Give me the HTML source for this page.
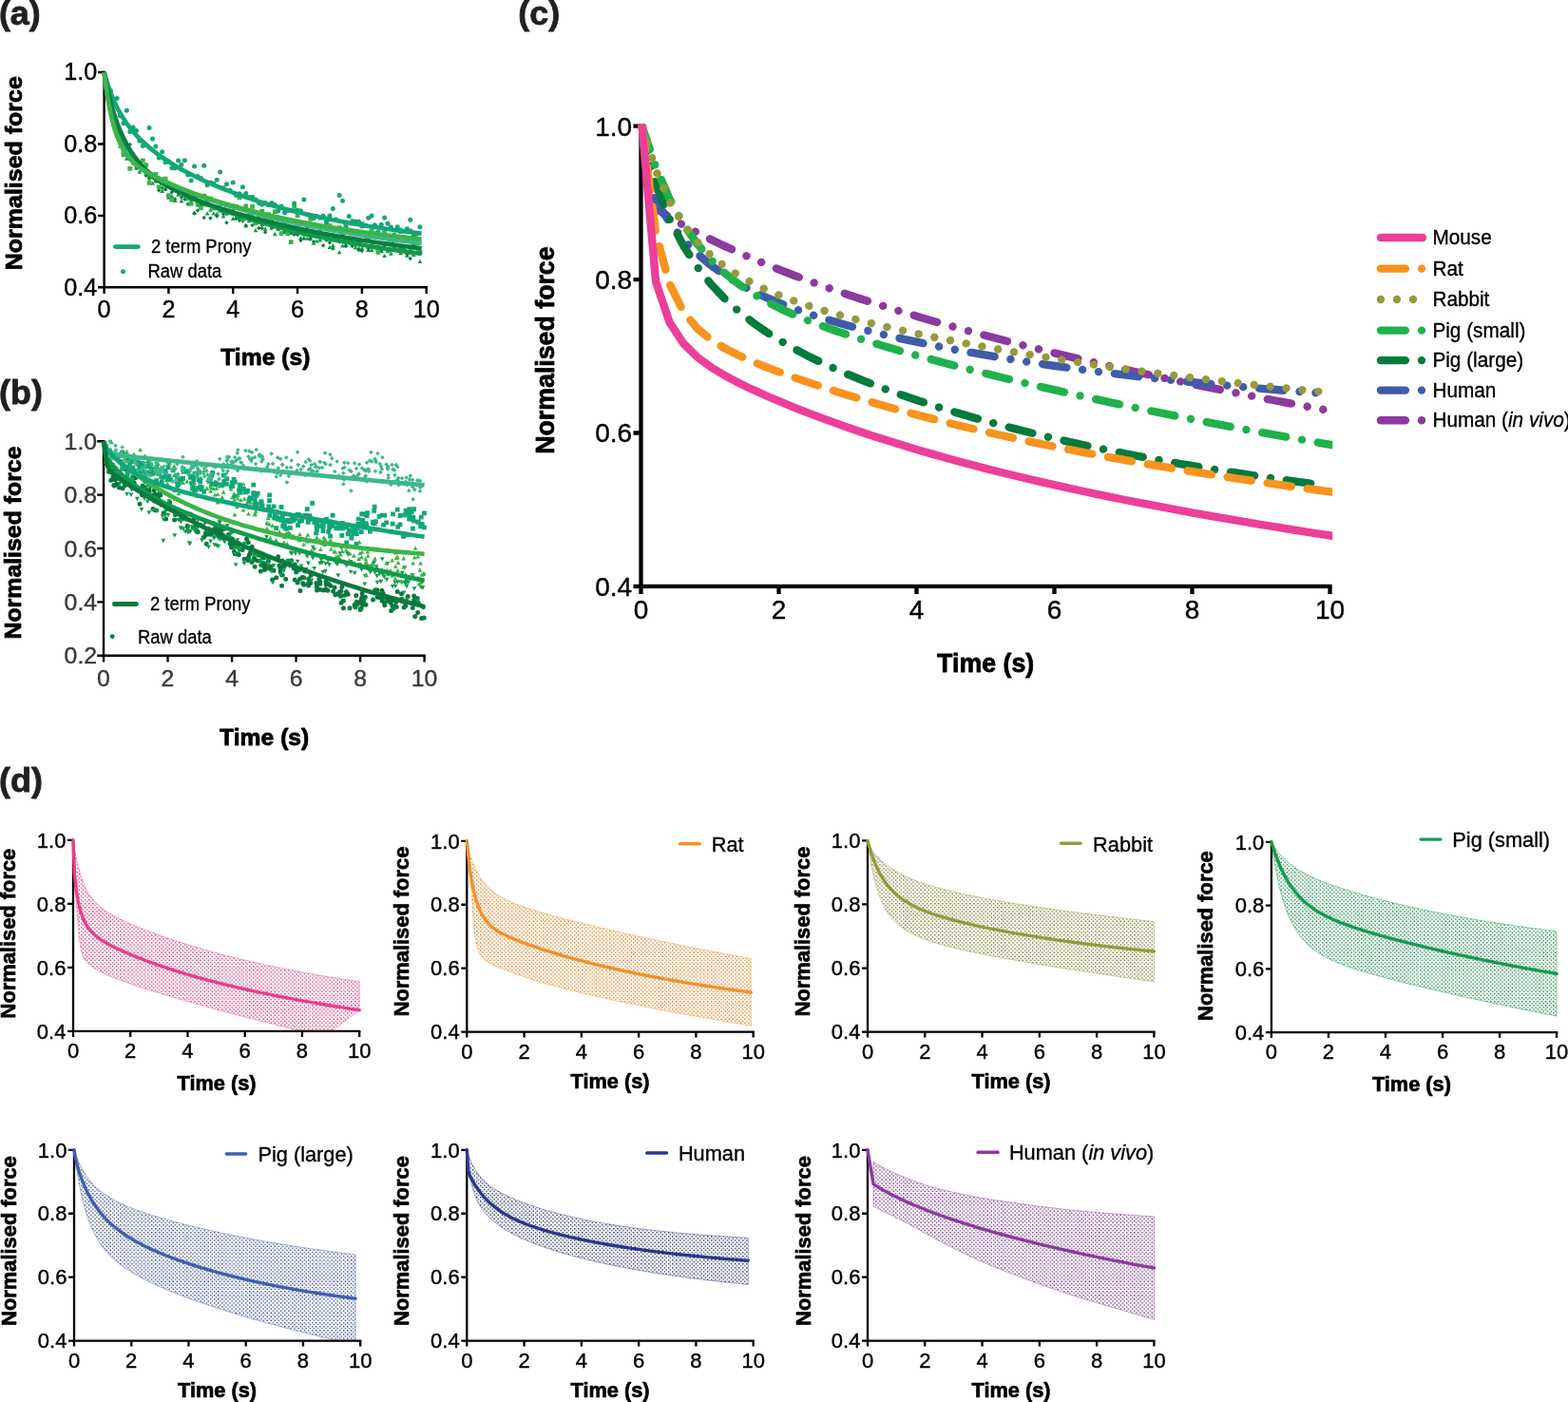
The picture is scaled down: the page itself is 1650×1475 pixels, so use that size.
<!DOCTYPE html>
<html lang="en">
<head>
<meta charset="utf-8">
<title>Normalised force relaxation figure</title>
<style>
html,body{margin:0;padding:0;background:#fff;}
body{width:1650px;height:1475px;overflow:hidden;}
svg{display:block;}
</style>
</head>
<body>
<svg width="1650" height="1475" viewBox="0 0 1650 1475">
<rect width="1650" height="1475" fill="#fff"/>
<g id="panel-a">
<path d="M109.6 74.8V302.3H449.9" fill="none" stroke="#000" stroke-width="2.4" stroke-linejoin="miter"/>
<path d="M103 76H109.6M103 151.43H109.6M103 226.87H109.6M103 302.3H109.6M109.6 302.3V308.9M177.42 302.3V308.9M245.24 302.3V308.9M313.06 302.3V308.9M380.88 302.3V308.9M448.7 302.3V308.9" fill="none" stroke="#000" stroke-width="2.4"/>
<g font-family="'Liberation Sans', Arial, Helvetica, sans-serif">
<text x="102.2" y="84.44" text-anchor="end" font-size="25.2" stroke="#000" stroke-width="0.4" stroke-linejoin="round" fill="#000">1.0</text>
<text x="102.2" y="159.88" text-anchor="end" font-size="25.2" stroke="#000" stroke-width="0.4" stroke-linejoin="round" fill="#000">0.8</text>
<text x="102.2" y="235.31" text-anchor="end" font-size="25.2" stroke="#000" stroke-width="0.4" stroke-linejoin="round" fill="#000">0.6</text>
<text x="102.2" y="310.74" text-anchor="end" font-size="25.2" stroke="#000" stroke-width="0.4" stroke-linejoin="round" fill="#000">0.4</text>
<text x="109.6" y="333.9" text-anchor="middle" font-size="25.2" stroke="#000" stroke-width="0.4" stroke-linejoin="round" fill="#000">0</text>
<text x="177.42" y="333.9" text-anchor="middle" font-size="25.2" stroke="#000" stroke-width="0.4" stroke-linejoin="round" fill="#000">2</text>
<text x="245.24" y="333.9" text-anchor="middle" font-size="25.2" stroke="#000" stroke-width="0.4" stroke-linejoin="round" fill="#000">4</text>
<text x="313.06" y="333.9" text-anchor="middle" font-size="25.2" stroke="#000" stroke-width="0.4" stroke-linejoin="round" fill="#000">6</text>
<text x="380.88" y="333.9" text-anchor="middle" font-size="25.2" stroke="#000" stroke-width="0.4" stroke-linejoin="round" fill="#000">8</text>
<text x="448.7" y="333.9" text-anchor="middle" font-size="25.2" stroke="#000" stroke-width="0.4" stroke-linejoin="round" fill="#000">10</text>
</g>
<path d="M116.38 115.16l2.42 4.4h-4.84zM119.77 126.9l2.42 4.4h-4.84zM123.16 140.09l2.42 4.4h-4.84zM126.56 151.41l2.42 4.4h-4.84zM129.95 156.04l2.42 4.4h-4.84zM133.34 164.29l2.42 4.4h-4.84zM136.73 163.91l2.42 4.4h-4.84zM140.12 161.75l2.42 4.4h-4.84zM143.51 174.36l2.42 4.4h-4.84zM146.9 178.24l2.42 4.4h-4.84zM150.29 175.74l2.42 4.4h-4.84zM153.68 179.1l2.42 4.4h-4.84zM157.07 182.86l2.42 4.4h-4.84zM160.47 190.3l2.42 4.4h-4.84zM163.86 188.11l2.42 4.4h-4.84zM167.25 186.69l2.42 4.4h-4.84zM170.64 198.72l2.42 4.4h-4.84zM174.03 196.32l2.42 4.4h-4.84zM177.42 205.27l2.42 4.4h-4.84zM180.81 204.09l2.42 4.4h-4.84zM184.2 208.55l2.42 4.4h-4.84zM187.59 202.37l2.42 4.4h-4.84zM190.98 209.09l2.42 4.4h-4.84zM194.38 203.15l2.42 4.4h-4.84zM197.77 205.28l2.42 4.4h-4.84zM201.16 208.5l2.42 4.4h-4.84zM204.55 221.41l2.42 4.4h-4.84zM207.94 213.17l2.42 4.4h-4.84zM211.33 212.19l2.42 4.4h-4.84zM214.72 212.79l2.42 4.4h-4.84zM218.11 222.2l2.42 4.4h-4.84zM221.5 218.38l2.42 4.4h-4.84zM224.89 222.14l2.42 4.4h-4.84zM228.29 222.58l2.42 4.4h-4.84zM231.68 214.67l2.42 4.4h-4.84zM235.07 225.05l2.42 4.4h-4.84zM238.46 222.46l2.42 4.4h-4.84zM241.85 219.14l2.42 4.4h-4.84zM245.24 227.5l2.42 4.4h-4.84zM248.63 226.32l2.42 4.4h-4.84zM252.02 226.34l2.42 4.4h-4.84zM255.41 227.66l2.42 4.4h-4.84zM258.8 235.05l2.42 4.4h-4.84zM262.2 229.73l2.42 4.4h-4.84zM265.59 224.47l2.42 4.4h-4.84zM268.98 239.73l2.42 4.4h-4.84zM272.37 228.93l2.42 4.4h-4.84zM275.76 233.54l2.42 4.4h-4.84zM279.15 238.23l2.42 4.4h-4.84zM282.54 226.22l2.42 4.4h-4.84zM285.93 233.21l2.42 4.4h-4.84zM289.32 243.74l2.42 4.4h-4.84zM292.71 238.39l2.42 4.4h-4.84zM296.11 236.81l2.42 4.4h-4.84zM299.5 241.43l2.42 4.4h-4.84zM302.89 238l2.42 4.4h-4.84zM306.28 242.51l2.42 4.4h-4.84zM309.67 239.73l2.42 4.4h-4.84zM313.06 236.76l2.42 4.4h-4.84zM316.45 247.92l2.42 4.4h-4.84zM319.84 244.39l2.42 4.4h-4.84zM323.23 248.42l2.42 4.4h-4.84zM326.62 246.28l2.42 4.4h-4.84zM330.02 253.46l2.42 4.4h-4.84zM333.41 251.21l2.42 4.4h-4.84zM336.8 250.05l2.42 4.4h-4.84zM340.19 245.38l2.42 4.4h-4.84zM343.58 244.87l2.42 4.4h-4.84zM346.97 257.65l2.42 4.4h-4.84zM350.36 255.73l2.42 4.4h-4.84zM353.75 249.32l2.42 4.4h-4.84zM357.14 262.91l2.42 4.4h-4.84zM360.53 256.05l2.42 4.4h-4.84zM363.93 254.88l2.42 4.4h-4.84zM367.32 248.85l2.42 4.4h-4.84zM370.71 252.24l2.42 4.4h-4.84zM374.1 257.83l2.42 4.4h-4.84zM377.49 258.62l2.42 4.4h-4.84zM380.88 258.61l2.42 4.4h-4.84zM384.27 250.49l2.42 4.4h-4.84zM387.66 260.61l2.42 4.4h-4.84zM391.05 260.56l2.42 4.4h-4.84zM394.44 257.88l2.42 4.4h-4.84zM397.84 260.73l2.42 4.4h-4.84zM401.23 261.63l2.42 4.4h-4.84zM404.62 266.65l2.42 4.4h-4.84zM408.01 261.75l2.42 4.4h-4.84zM411.4 264.37l2.42 4.4h-4.84zM414.79 256.97l2.42 4.4h-4.84zM418.18 259.97l2.42 4.4h-4.84zM421.57 263.77l2.42 4.4h-4.84zM424.96 260.84l2.42 4.4h-4.84zM428.35 266.25l2.42 4.4h-4.84zM431.75 259.88l2.42 4.4h-4.84zM435.14 265.52l2.42 4.4h-4.84zM438.53 263.07l2.42 4.4h-4.84zM441.92 272.7l2.42 4.4h-4.84z" fill="#119B4C"/>
<path d="M116.38 108.39l2.25 2.25l-2.25 2.25l-2.25 -2.25zM119.77 130.26l2.25 2.25l-2.25 2.25l-2.25 -2.25zM123.16 142.08l2.25 2.25l-2.25 2.25l-2.25 -2.25zM126.56 142.29l2.25 2.25l-2.25 2.25l-2.25 -2.25zM129.95 152.74l2.25 2.25l-2.25 2.25l-2.25 -2.25zM133.34 154.1l2.25 2.25l-2.25 2.25l-2.25 -2.25zM136.73 149.7l2.25 2.25l-2.25 2.25l-2.25 -2.25zM140.12 169.93l2.25 2.25l-2.25 2.25l-2.25 -2.25zM143.51 173.5l2.25 2.25l-2.25 2.25l-2.25 -2.25zM146.9 173.57l2.25 2.25l-2.25 2.25l-2.25 -2.25zM150.29 175.9l2.25 2.25l-2.25 2.25l-2.25 -2.25zM153.68 182.59l2.25 2.25l-2.25 2.25l-2.25 -2.25zM157.07 185.85l2.25 2.25l-2.25 2.25l-2.25 -2.25zM160.47 184.27l2.25 2.25l-2.25 2.25l-2.25 -2.25zM163.86 187.82l2.25 2.25l-2.25 2.25l-2.25 -2.25zM167.25 197.9l2.25 2.25l-2.25 2.25l-2.25 -2.25zM170.64 195.52l2.25 2.25l-2.25 2.25l-2.25 -2.25zM174.03 197.11l2.25 2.25l-2.25 2.25l-2.25 -2.25zM177.42 204.48l2.25 2.25l-2.25 2.25l-2.25 -2.25zM180.81 199.96l2.25 2.25l-2.25 2.25l-2.25 -2.25zM184.2 207.25l2.25 2.25l-2.25 2.25l-2.25 -2.25zM187.59 200.01l2.25 2.25l-2.25 2.25l-2.25 -2.25zM190.98 205.48l2.25 2.25l-2.25 2.25l-2.25 -2.25zM194.38 207.57l2.25 2.25l-2.25 2.25l-2.25 -2.25zM197.77 212.42l2.25 2.25l-2.25 2.25l-2.25 -2.25zM201.16 211.56l2.25 2.25l-2.25 2.25l-2.25 -2.25zM204.55 222.18l2.25 2.25l-2.25 2.25l-2.25 -2.25zM207.94 219.29l2.25 2.25l-2.25 2.25l-2.25 -2.25zM211.33 213.28l2.25 2.25l-2.25 2.25l-2.25 -2.25zM214.72 226.77l2.25 2.25l-2.25 2.25l-2.25 -2.25zM218.11 213.42l2.25 2.25l-2.25 2.25l-2.25 -2.25zM221.5 227.33l2.25 2.25l-2.25 2.25l-2.25 -2.25zM224.89 216.23l2.25 2.25l-2.25 2.25l-2.25 -2.25zM228.29 225.23l2.25 2.25l-2.25 2.25l-2.25 -2.25zM231.68 218.38l2.25 2.25l-2.25 2.25l-2.25 -2.25zM235.07 222.65l2.25 2.25l-2.25 2.25l-2.25 -2.25zM238.46 231.9l2.25 2.25l-2.25 2.25l-2.25 -2.25zM241.85 219.28l2.25 2.25l-2.25 2.25l-2.25 -2.25zM245.24 219.36l2.25 2.25l-2.25 2.25l-2.25 -2.25zM248.63 227.75l2.25 2.25l-2.25 2.25l-2.25 -2.25zM252.02 229.75l2.25 2.25l-2.25 2.25l-2.25 -2.25zM255.41 230.15l2.25 2.25l-2.25 2.25l-2.25 -2.25zM258.8 235.09l2.25 2.25l-2.25 2.25l-2.25 -2.25zM262.2 225.85l2.25 2.25l-2.25 2.25l-2.25 -2.25zM265.59 234.81l2.25 2.25l-2.25 2.25l-2.25 -2.25zM268.98 233.29l2.25 2.25l-2.25 2.25l-2.25 -2.25zM272.37 237.81l2.25 2.25l-2.25 2.25l-2.25 -2.25zM275.76 237.85l2.25 2.25l-2.25 2.25l-2.25 -2.25zM279.15 241.9l2.25 2.25l-2.25 2.25l-2.25 -2.25zM282.54 230.3l2.25 2.25l-2.25 2.25l-2.25 -2.25zM285.93 238.04l2.25 2.25l-2.25 2.25l-2.25 -2.25zM289.32 233.36l2.25 2.25l-2.25 2.25l-2.25 -2.25zM292.71 238.82l2.25 2.25l-2.25 2.25l-2.25 -2.25zM296.11 243.07l2.25 2.25l-2.25 2.25l-2.25 -2.25zM299.5 242.04l2.25 2.25l-2.25 2.25l-2.25 -2.25zM302.89 243.94l2.25 2.25l-2.25 2.25l-2.25 -2.25zM306.28 241.9l2.25 2.25l-2.25 2.25l-2.25 -2.25zM309.67 244.51l2.25 2.25l-2.25 2.25l-2.25 -2.25zM313.06 244.86l2.25 2.25l-2.25 2.25l-2.25 -2.25zM316.45 250.86l2.25 2.25l-2.25 2.25l-2.25 -2.25zM319.84 248.76l2.25 2.25l-2.25 2.25l-2.25 -2.25zM323.23 237.38l2.25 2.25l-2.25 2.25l-2.25 -2.25zM326.62 249.46l2.25 2.25l-2.25 2.25l-2.25 -2.25zM330.02 252l2.25 2.25l-2.25 2.25l-2.25 -2.25zM333.41 245.84l2.25 2.25l-2.25 2.25l-2.25 -2.25zM336.8 241.24l2.25 2.25l-2.25 2.25l-2.25 -2.25zM340.19 255.91l2.25 2.25l-2.25 2.25l-2.25 -2.25zM343.58 250.43l2.25 2.25l-2.25 2.25l-2.25 -2.25zM346.97 253.12l2.25 2.25l-2.25 2.25l-2.25 -2.25zM350.36 259.27l2.25 2.25l-2.25 2.25l-2.25 -2.25zM353.75 247.63l2.25 2.25l-2.25 2.25l-2.25 -2.25zM357.14 251.94l2.25 2.25l-2.25 2.25l-2.25 -2.25zM360.53 252.06l2.25 2.25l-2.25 2.25l-2.25 -2.25zM363.93 256.67l2.25 2.25l-2.25 2.25l-2.25 -2.25zM367.32 251.32l2.25 2.25l-2.25 2.25l-2.25 -2.25zM370.71 256.75l2.25 2.25l-2.25 2.25l-2.25 -2.25zM374.1 255.35l2.25 2.25l-2.25 2.25l-2.25 -2.25zM377.49 260.63l2.25 2.25l-2.25 2.25l-2.25 -2.25zM380.88 261.69l2.25 2.25l-2.25 2.25l-2.25 -2.25zM384.27 249.71l2.25 2.25l-2.25 2.25l-2.25 -2.25zM387.66 259.26l2.25 2.25l-2.25 2.25l-2.25 -2.25zM391.05 255.85l2.25 2.25l-2.25 2.25l-2.25 -2.25zM394.44 257.95l2.25 2.25l-2.25 2.25l-2.25 -2.25zM397.84 260.44l2.25 2.25l-2.25 2.25l-2.25 -2.25zM401.23 261.26l2.25 2.25l-2.25 2.25l-2.25 -2.25zM404.62 256.16l2.25 2.25l-2.25 2.25l-2.25 -2.25zM408.01 261.21l2.25 2.25l-2.25 2.25l-2.25 -2.25zM411.4 260.94l2.25 2.25l-2.25 2.25l-2.25 -2.25zM414.79 260.55l2.25 2.25l-2.25 2.25l-2.25 -2.25zM418.18 255.34l2.25 2.25l-2.25 2.25l-2.25 -2.25zM421.57 258.22l2.25 2.25l-2.25 2.25l-2.25 -2.25zM424.96 260.12l2.25 2.25l-2.25 2.25l-2.25 -2.25zM428.35 265.2l2.25 2.25l-2.25 2.25l-2.25 -2.25zM431.75 269.64l2.25 2.25l-2.25 2.25l-2.25 -2.25zM435.14 258.63l2.25 2.25l-2.25 2.25l-2.25 -2.25zM438.53 258.97l2.25 2.25l-2.25 2.25l-2.25 -2.25zM441.92 264.81l2.25 2.25l-2.25 2.25l-2.25 -2.25z" fill="#0B7F40"/>
<path d="M113.98 115.41h4.8v4.8h-4.8zM117.37 127.64h4.8v4.8h-4.8zM120.76 137.8h4.8v4.8h-4.8zM124.16 145.32h4.8v4.8h-4.8zM127.55 160.52h4.8v4.8h-4.8zM130.94 152.99h4.8v4.8h-4.8zM134.33 174.9h4.8v4.8h-4.8zM137.72 164.91h4.8v4.8h-4.8zM141.11 170.29h4.8v4.8h-4.8zM144.5 170.52h4.8v4.8h-4.8zM147.89 166.46h4.8v4.8h-4.8zM151.28 171.16h4.8v4.8h-4.8zM154.67 190.03h4.8v4.8h-4.8zM158.07 182.05h4.8v4.8h-4.8zM161.46 181.1h4.8v4.8h-4.8zM164.85 194.54h4.8v4.8h-4.8zM168.24 189.74h4.8v4.8h-4.8zM171.63 185.84h4.8v4.8h-4.8zM175.02 203.28h4.8v4.8h-4.8zM178.41 207.74h4.8v4.8h-4.8zM181.8 193.98h4.8v4.8h-4.8zM185.19 196.75h4.8v4.8h-4.8zM188.58 199.96h4.8v4.8h-4.8zM191.98 199.47h4.8v4.8h-4.8zM195.37 206.52h4.8v4.8h-4.8zM198.76 211.98h4.8v4.8h-4.8zM202.15 204.58h4.8v4.8h-4.8zM205.54 210.95h4.8v4.8h-4.8zM208.93 216.45h4.8v4.8h-4.8zM212.32 203.83h4.8v4.8h-4.8zM215.71 208.61h4.8v4.8h-4.8zM219.1 206.72h4.8v4.8h-4.8zM222.49 216.76h4.8v4.8h-4.8zM225.89 215.71h4.8v4.8h-4.8zM229.28 218.95h4.8v4.8h-4.8zM232.67 219.26h4.8v4.8h-4.8zM236.06 213.33h4.8v4.8h-4.8zM239.45 220.6h4.8v4.8h-4.8zM242.84 214.27h4.8v4.8h-4.8zM246.23 215.33h4.8v4.8h-4.8zM249.62 205.46h4.8v4.8h-4.8zM253.01 228.29h4.8v4.8h-4.8zM256.4 214.57h4.8v4.8h-4.8zM259.8 221.72h4.8v4.8h-4.8zM263.19 214.92h4.8v4.8h-4.8zM266.58 232.17h4.8v4.8h-4.8zM269.97 226.66h4.8v4.8h-4.8zM273.36 219.76h4.8v4.8h-4.8zM276.75 225.86h4.8v4.8h-4.8zM280.14 223.31h4.8v4.8h-4.8zM283.53 228.77h4.8v4.8h-4.8zM286.92 220.27h4.8v4.8h-4.8zM290.31 228.56h4.8v4.8h-4.8zM293.71 243.26h4.8v4.8h-4.8zM297.1 234.32h4.8v4.8h-4.8zM300.49 243.21h4.8v4.8h-4.8zM303.88 252.14h4.8v4.8h-4.8zM307.27 214.98h4.8v4.8h-4.8zM310.66 224.1h4.8v4.8h-4.8zM314.05 233.01h4.8v4.8h-4.8zM317.44 241.48h4.8v4.8h-4.8zM320.83 240.63h4.8v4.8h-4.8zM324.22 227.98h4.8v4.8h-4.8zM327.62 234.84h4.8v4.8h-4.8zM331.01 236.15h4.8v4.8h-4.8zM334.4 237.39h4.8v4.8h-4.8zM337.79 237.39h4.8v4.8h-4.8zM341.18 233.05h4.8v4.8h-4.8zM344.57 235.24h4.8v4.8h-4.8zM347.96 237.95h4.8v4.8h-4.8zM351.35 246.57h4.8v4.8h-4.8zM354.74 237.14h4.8v4.8h-4.8zM358.13 245.34h4.8v4.8h-4.8zM361.53 234.46h4.8v4.8h-4.8zM364.92 250.13h4.8v4.8h-4.8zM368.31 243.37h4.8v4.8h-4.8zM371.7 243.03h4.8v4.8h-4.8zM375.09 251.96h4.8v4.8h-4.8zM378.48 232.9h4.8v4.8h-4.8zM381.87 235.05h4.8v4.8h-4.8zM385.26 247.85h4.8v4.8h-4.8zM388.65 240.39h4.8v4.8h-4.8zM392.04 243.35h4.8v4.8h-4.8zM395.44 262.98h4.8v4.8h-4.8zM398.83 245.05h4.8v4.8h-4.8zM402.22 242.61h4.8v4.8h-4.8zM405.61 246.97h4.8v4.8h-4.8zM409 254.82h4.8v4.8h-4.8zM412.39 250.05h4.8v4.8h-4.8zM415.78 249.86h4.8v4.8h-4.8zM419.17 241.5h4.8v4.8h-4.8zM422.56 247.36h4.8v4.8h-4.8zM425.95 249.92h4.8v4.8h-4.8zM429.35 240.45h4.8v4.8h-4.8zM432.74 254.19h4.8v4.8h-4.8zM436.13 253.49h4.8v4.8h-4.8zM439.52 263h4.8v4.8h-4.8z" fill="#3BB54A"/>
<path d="M113.88 95.35a2.5 2.5 0 1 0 5 0a2.5 2.5 0 1 0 -5 0zM117.27 104.13a2.5 2.5 0 1 0 5 0a2.5 2.5 0 1 0 -5 0zM120.66 103.6a2.5 2.5 0 1 0 5 0a2.5 2.5 0 1 0 -5 0zM124.06 122.11a2.5 2.5 0 1 0 5 0a2.5 2.5 0 1 0 -5 0zM127.45 129.82a2.5 2.5 0 1 0 5 0a2.5 2.5 0 1 0 -5 0zM130.84 116.18a2.5 2.5 0 1 0 5 0a2.5 2.5 0 1 0 -5 0zM134.23 138.39a2.5 2.5 0 1 0 5 0a2.5 2.5 0 1 0 -5 0zM137.62 133.88a2.5 2.5 0 1 0 5 0a2.5 2.5 0 1 0 -5 0zM141.01 137.38a2.5 2.5 0 1 0 5 0a2.5 2.5 0 1 0 -5 0zM144.4 148.3a2.5 2.5 0 1 0 5 0a2.5 2.5 0 1 0 -5 0zM147.79 153.38a2.5 2.5 0 1 0 5 0a2.5 2.5 0 1 0 -5 0zM151.18 152.18a2.5 2.5 0 1 0 5 0a2.5 2.5 0 1 0 -5 0zM154.57 134.54a2.5 2.5 0 1 0 5 0a2.5 2.5 0 1 0 -5 0zM157.97 146.05a2.5 2.5 0 1 0 5 0a2.5 2.5 0 1 0 -5 0zM161.36 154.05a2.5 2.5 0 1 0 5 0a2.5 2.5 0 1 0 -5 0zM164.75 166.01a2.5 2.5 0 1 0 5 0a2.5 2.5 0 1 0 -5 0zM168.14 159.64a2.5 2.5 0 1 0 5 0a2.5 2.5 0 1 0 -5 0zM171.53 170.73a2.5 2.5 0 1 0 5 0a2.5 2.5 0 1 0 -5 0zM174.92 169.66a2.5 2.5 0 1 0 5 0a2.5 2.5 0 1 0 -5 0zM178.31 176.86a2.5 2.5 0 1 0 5 0a2.5 2.5 0 1 0 -5 0zM181.7 176.73a2.5 2.5 0 1 0 5 0a2.5 2.5 0 1 0 -5 0zM185.09 168.92a2.5 2.5 0 1 0 5 0a2.5 2.5 0 1 0 -5 0zM188.48 173.19a2.5 2.5 0 1 0 5 0a2.5 2.5 0 1 0 -5 0zM191.88 168.74a2.5 2.5 0 1 0 5 0a2.5 2.5 0 1 0 -5 0zM195.27 183.88a2.5 2.5 0 1 0 5 0a2.5 2.5 0 1 0 -5 0zM198.66 189.89a2.5 2.5 0 1 0 5 0a2.5 2.5 0 1 0 -5 0zM202.05 174.94a2.5 2.5 0 1 0 5 0a2.5 2.5 0 1 0 -5 0zM205.44 185.53a2.5 2.5 0 1 0 5 0a2.5 2.5 0 1 0 -5 0zM208.83 187.37a2.5 2.5 0 1 0 5 0a2.5 2.5 0 1 0 -5 0zM212.22 174.31a2.5 2.5 0 1 0 5 0a2.5 2.5 0 1 0 -5 0zM215.61 194.79a2.5 2.5 0 1 0 5 0a2.5 2.5 0 1 0 -5 0zM219 191.9a2.5 2.5 0 1 0 5 0a2.5 2.5 0 1 0 -5 0zM222.39 193.25a2.5 2.5 0 1 0 5 0a2.5 2.5 0 1 0 -5 0zM225.79 189.16a2.5 2.5 0 1 0 5 0a2.5 2.5 0 1 0 -5 0zM229.18 181.08a2.5 2.5 0 1 0 5 0a2.5 2.5 0 1 0 -5 0zM232.57 197.84a2.5 2.5 0 1 0 5 0a2.5 2.5 0 1 0 -5 0zM235.96 193.87a2.5 2.5 0 1 0 5 0a2.5 2.5 0 1 0 -5 0zM239.35 200.17a2.5 2.5 0 1 0 5 0a2.5 2.5 0 1 0 -5 0zM242.74 192.07a2.5 2.5 0 1 0 5 0a2.5 2.5 0 1 0 -5 0zM246.13 205.49a2.5 2.5 0 1 0 5 0a2.5 2.5 0 1 0 -5 0zM249.52 203.86a2.5 2.5 0 1 0 5 0a2.5 2.5 0 1 0 -5 0zM252.91 196.82a2.5 2.5 0 1 0 5 0a2.5 2.5 0 1 0 -5 0zM256.3 203.46a2.5 2.5 0 1 0 5 0a2.5 2.5 0 1 0 -5 0zM259.7 207.54a2.5 2.5 0 1 0 5 0a2.5 2.5 0 1 0 -5 0zM263.09 207.19a2.5 2.5 0 1 0 5 0a2.5 2.5 0 1 0 -5 0zM266.48 210.07a2.5 2.5 0 1 0 5 0a2.5 2.5 0 1 0 -5 0zM269.87 213.4a2.5 2.5 0 1 0 5 0a2.5 2.5 0 1 0 -5 0zM273.26 215.36a2.5 2.5 0 1 0 5 0a2.5 2.5 0 1 0 -5 0zM276.65 213.43a2.5 2.5 0 1 0 5 0a2.5 2.5 0 1 0 -5 0zM280.04 215.73a2.5 2.5 0 1 0 5 0a2.5 2.5 0 1 0 -5 0zM283.43 213.46a2.5 2.5 0 1 0 5 0a2.5 2.5 0 1 0 -5 0zM286.82 215.41a2.5 2.5 0 1 0 5 0a2.5 2.5 0 1 0 -5 0zM290.21 221.99a2.5 2.5 0 1 0 5 0a2.5 2.5 0 1 0 -5 0zM293.61 216.98a2.5 2.5 0 1 0 5 0a2.5 2.5 0 1 0 -5 0zM297 223.74a2.5 2.5 0 1 0 5 0a2.5 2.5 0 1 0 -5 0zM300.39 221.61a2.5 2.5 0 1 0 5 0a2.5 2.5 0 1 0 -5 0zM303.78 221.14a2.5 2.5 0 1 0 5 0a2.5 2.5 0 1 0 -5 0zM307.17 214a2.5 2.5 0 1 0 5 0a2.5 2.5 0 1 0 -5 0zM310.56 221.23a2.5 2.5 0 1 0 5 0a2.5 2.5 0 1 0 -5 0zM313.95 221.8a2.5 2.5 0 1 0 5 0a2.5 2.5 0 1 0 -5 0zM317.34 210.09a2.5 2.5 0 1 0 5 0a2.5 2.5 0 1 0 -5 0zM320.73 225.78a2.5 2.5 0 1 0 5 0a2.5 2.5 0 1 0 -5 0zM324.12 226.34a2.5 2.5 0 1 0 5 0a2.5 2.5 0 1 0 -5 0zM327.52 229.6a2.5 2.5 0 1 0 5 0a2.5 2.5 0 1 0 -5 0zM330.91 227.41a2.5 2.5 0 1 0 5 0a2.5 2.5 0 1 0 -5 0zM334.3 229.31a2.5 2.5 0 1 0 5 0a2.5 2.5 0 1 0 -5 0zM337.69 227.36a2.5 2.5 0 1 0 5 0a2.5 2.5 0 1 0 -5 0zM341.08 233.43a2.5 2.5 0 1 0 5 0a2.5 2.5 0 1 0 -5 0zM344.47 226.99a2.5 2.5 0 1 0 5 0a2.5 2.5 0 1 0 -5 0zM347.86 219.46a2.5 2.5 0 1 0 5 0a2.5 2.5 0 1 0 -5 0zM351.25 231.05a2.5 2.5 0 1 0 5 0a2.5 2.5 0 1 0 -5 0zM354.64 205.61a2.5 2.5 0 1 0 5 0a2.5 2.5 0 1 0 -5 0zM358.03 211.22a2.5 2.5 0 1 0 5 0a2.5 2.5 0 1 0 -5 0zM361.43 239.28a2.5 2.5 0 1 0 5 0a2.5 2.5 0 1 0 -5 0zM364.82 227.53a2.5 2.5 0 1 0 5 0a2.5 2.5 0 1 0 -5 0zM368.21 232.58a2.5 2.5 0 1 0 5 0a2.5 2.5 0 1 0 -5 0zM371.6 233.01a2.5 2.5 0 1 0 5 0a2.5 2.5 0 1 0 -5 0zM374.99 233.17a2.5 2.5 0 1 0 5 0a2.5 2.5 0 1 0 -5 0zM378.38 238.05a2.5 2.5 0 1 0 5 0a2.5 2.5 0 1 0 -5 0zM381.77 236.97a2.5 2.5 0 1 0 5 0a2.5 2.5 0 1 0 -5 0zM385.16 229.17a2.5 2.5 0 1 0 5 0a2.5 2.5 0 1 0 -5 0zM388.55 227.06a2.5 2.5 0 1 0 5 0a2.5 2.5 0 1 0 -5 0zM391.94 236.66a2.5 2.5 0 1 0 5 0a2.5 2.5 0 1 0 -5 0zM395.34 244.32a2.5 2.5 0 1 0 5 0a2.5 2.5 0 1 0 -5 0zM398.73 236.31a2.5 2.5 0 1 0 5 0a2.5 2.5 0 1 0 -5 0zM402.12 229.01a2.5 2.5 0 1 0 5 0a2.5 2.5 0 1 0 -5 0zM405.51 235.35a2.5 2.5 0 1 0 5 0a2.5 2.5 0 1 0 -5 0zM408.9 239.05a2.5 2.5 0 1 0 5 0a2.5 2.5 0 1 0 -5 0zM412.29 246.96a2.5 2.5 0 1 0 5 0a2.5 2.5 0 1 0 -5 0zM415.68 238.81a2.5 2.5 0 1 0 5 0a2.5 2.5 0 1 0 -5 0zM419.07 242.04a2.5 2.5 0 1 0 5 0a2.5 2.5 0 1 0 -5 0zM422.46 252.38a2.5 2.5 0 1 0 5 0a2.5 2.5 0 1 0 -5 0zM425.85 240.75a2.5 2.5 0 1 0 5 0a2.5 2.5 0 1 0 -5 0zM429.25 231.27a2.5 2.5 0 1 0 5 0a2.5 2.5 0 1 0 -5 0zM432.64 248.56a2.5 2.5 0 1 0 5 0a2.5 2.5 0 1 0 -5 0zM436.03 246.23a2.5 2.5 0 1 0 5 0a2.5 2.5 0 1 0 -5 0zM439.42 238.73a2.5 2.5 0 1 0 5 0a2.5 2.5 0 1 0 -5 0z" fill="#12A779"/>
<g fill="none" stroke-width="4.7" stroke-linecap="butt" stroke-linejoin="round">
<path d="M109.6 76L112.99 98.36L116.38 115.43L119.77 128.63L123.16 139.01L126.55 147.31L129.95 154.08L133.34 159.7L136.73 164.47L140.12 168.59L143.51 172.22L146.9 175.46L150.29 178.41L153.68 181.12L157.07 183.64L160.47 186L163.86 188.24L167.25 190.36L170.64 192.39L174.03 194.34L177.42 196.22L180.81 198.03L184.2 199.79L187.59 201.49L190.98 203.14L194.38 204.75L197.77 206.32L201.16 207.85L204.55 209.34L207.94 210.79L211.33 212.22L214.72 213.61L218.11 214.97L221.5 216.3L224.89 217.61L228.29 218.88L231.68 220.14L235.07 221.36L238.46 222.56L241.85 223.74L245.24 224.9L248.63 226.04L252.02 227.15L255.41 228.24L258.8 229.31L262.19 230.37L265.59 231.4L268.98 232.41L272.37 233.41L275.76 234.39L279.15 235.35L282.54 236.29L285.93 237.22L289.32 238.13L292.71 239.02L296.11 239.9L299.5 240.77L302.89 241.62L306.28 242.45L309.67 243.27L313.06 244.08L316.45 244.87L319.84 245.65L323.23 246.41L326.62 247.17L330.01 247.91L333.41 248.64L336.8 249.35L340.19 250.06L343.58 250.75L346.97 251.43L350.36 252.1L353.75 252.76L357.14 253.4L360.53 254.04L363.92 254.67L367.32 255.29L370.71 255.89L374.1 256.49L377.49 257.08L380.88 257.65L384.27 258.22L387.66 258.78L391.05 259.33L394.44 259.88L397.84 260.41L401.23 260.93L404.62 261.45L408.01 261.96L411.4 262.46L414.79 262.95L418.18 263.44L421.57 263.92L424.96 264.39L428.35 264.85L431.75 265.31L435.14 265.76L438.53 266.2L441.92 266.63L443.61 266.85" stroke="#119B4C"/>
<path d="M109.6 76L112.99 99.99L116.38 117.9L119.77 131.42L123.16 141.77L126.55 149.83L129.95 156.21L133.34 161.37L136.73 165.64L140.12 169.26L143.51 172.38L146.9 175.14L150.29 177.62L153.68 179.89L157.07 182L160.47 183.98L163.86 185.85L167.25 187.63L170.64 189.35L174.03 191L177.42 192.6L180.81 194.15L184.2 195.66L187.59 197.13L190.98 198.56L194.38 199.96L197.77 201.33L201.16 202.67L204.55 203.98L207.94 205.26L211.33 206.52L214.72 207.75L218.11 208.96L221.5 210.14L224.89 211.3L228.29 212.44L231.68 213.56L235.07 214.65L238.46 215.73L241.85 216.79L245.24 217.82L248.63 218.84L252.02 219.84L255.41 220.82L258.8 221.79L262.19 222.73L265.59 223.66L268.98 224.58L272.37 225.48L275.76 226.36L279.15 227.22L282.54 228.08L285.93 228.91L289.32 229.74L292.71 230.54L296.11 231.34L299.5 232.12L302.89 232.89L306.28 233.64L309.67 234.38L313.06 235.11L316.45 235.83L319.84 236.54L323.23 237.23L326.62 237.91L330.01 238.58L333.41 239.24L336.8 239.89L340.19 240.53L343.58 241.16L346.97 241.78L350.36 242.38L353.75 242.98L357.14 243.57L360.53 244.15L363.92 244.72L367.32 245.28L370.71 245.83L374.1 246.37L377.49 246.91L380.88 247.43L384.27 247.95L387.66 248.46L391.05 248.96L394.44 249.45L397.84 249.94L401.23 250.42L404.62 250.89L408.01 251.35L411.4 251.81L414.79 252.26L418.18 252.7L421.57 253.14L424.96 253.56L428.35 253.99L431.75 254.4L435.14 254.81L438.53 255.22L441.92 255.61L443.61 255.81" stroke="#3DB88A"/>
<path d="M109.6 76L112.99 87.72L116.38 97.52L119.77 105.85L123.16 113.03L126.55 119.3L129.95 124.87L133.34 129.85L136.73 134.36L140.12 138.49L143.51 142.29L146.9 145.82L150.29 149.12L153.68 152.22L157.07 155.14L160.47 157.91L163.86 160.55L167.25 163.06L170.64 165.46L174.03 167.77L177.42 169.99L180.81 172.12L184.2 174.18L187.59 176.17L190.98 178.1L194.38 179.97L197.77 181.78L201.16 183.54L204.55 185.25L207.94 186.91L211.33 188.53L214.72 190.1L218.11 191.64L221.5 193.14L224.89 194.6L228.29 196.02L231.68 197.42L235.07 198.78L238.46 200.11L241.85 201.4L245.24 202.67L248.63 203.92L252.02 205.13L255.41 206.32L258.8 207.48L262.19 208.62L265.59 209.73L268.98 210.82L272.37 211.89L275.76 212.93L279.15 213.96L282.54 214.96L285.93 215.94L289.32 216.9L292.71 217.85L296.11 218.77L299.5 219.67L302.89 220.56L306.28 221.43L309.67 222.28L313.06 223.12L316.45 223.94L319.84 224.74L323.23 225.53L326.62 226.3L330.01 227.06L333.41 227.8L336.8 228.53L340.19 229.25L343.58 229.95L346.97 230.63L350.36 231.31L353.75 231.97L357.14 232.62L360.53 233.26L363.92 233.88L367.32 234.5L370.71 235.1L374.1 235.69L377.49 236.27L380.88 236.84L384.27 237.4L387.66 237.95L391.05 238.49L394.44 239.02L397.84 239.54L401.23 240.05L404.62 240.55L408.01 241.05L411.4 241.53L414.79 242.01L418.18 242.47L421.57 242.93L424.96 243.38L428.35 243.83L431.75 244.26L435.14 244.69L438.53 245.11L441.92 245.52L443.61 245.73" stroke="#12A779"/>
<path d="M109.6 76L112.99 92.94L116.38 107.06L119.77 118.96L123.16 129.07L126.55 137.76L129.95 145.29L133.34 151.88L136.73 157.67L140.12 162.82L143.51 167.42L146.9 171.55L150.29 175.29L153.68 178.7L157.07 181.81L160.47 184.68L163.86 187.33L167.25 189.8L170.64 192.1L174.03 194.25L177.42 196.28L180.81 198.2L184.2 200.02L187.59 201.75L190.98 203.4L194.38 204.97L197.77 206.49L201.16 207.95L204.55 209.35L207.94 210.71L211.33 212.02L214.72 213.3L218.11 214.54L221.5 215.74L224.89 216.91L228.29 218.06L231.68 219.17L235.07 220.26L238.46 221.33L241.85 222.37L245.24 223.39L248.63 224.4L252.02 225.38L255.41 226.34L258.8 227.28L262.19 228.21L265.59 229.12L268.98 230.01L272.37 230.89L275.76 231.75L279.15 232.6L282.54 233.44L285.93 234.26L289.32 235.06L292.71 235.86L296.11 236.64L299.5 237.41L302.89 238.16L306.28 238.91L309.67 239.64L313.06 240.36L316.45 241.07L319.84 241.77L323.23 242.46L326.62 243.14L330.01 243.8L333.41 244.46L336.8 245.11L340.19 245.75L343.58 246.37L346.97 246.99L350.36 247.6L353.75 248.2L357.14 248.79L360.53 249.38L363.92 249.95L367.32 250.52L370.71 251.07L374.1 251.62L377.49 252.16L380.88 252.7L384.27 253.22L387.66 253.74L391.05 254.25L394.44 254.75L397.84 255.25L401.23 255.74L404.62 256.22L408.01 256.7L411.4 257.16L414.79 257.63L418.18 258.08L421.57 258.53L424.96 258.97L428.35 259.41L431.75 259.84L435.14 260.26L438.53 260.68L441.92 261.09L443.61 261.29" stroke="#0B7F40"/>
<path d="M109.6 76L112.99 100.68L116.38 119.02L119.77 132.79L123.16 143.27L126.55 151.36L129.95 157.73L133.34 162.85L136.73 167.04L140.12 170.57L143.51 173.6L146.9 176.26L150.29 178.64L153.68 180.81L157.07 182.82L160.47 184.7L163.86 186.48L167.25 188.17L170.64 189.8L174.03 191.36L177.42 192.88L180.81 194.35L184.2 195.78L187.59 197.17L190.98 198.52L194.38 199.85L197.77 201.14L201.16 202.41L204.55 203.65L207.94 204.86L211.33 206.05L214.72 207.21L218.11 208.35L221.5 209.46L224.89 210.56L228.29 211.63L231.68 212.68L235.07 213.71L238.46 214.72L241.85 215.72L245.24 216.69L248.63 217.64L252.02 218.58L255.41 219.5L258.8 220.4L262.19 221.29L265.59 222.15L268.98 223.01L272.37 223.84L275.76 224.67L279.15 225.47L282.54 226.26L285.93 227.04L289.32 227.81L292.71 228.56L296.11 229.29L299.5 230.02L302.89 230.73L306.28 231.43L309.67 232.11L313.06 232.79L316.45 233.45L319.84 234.1L323.23 234.74L326.62 235.37L330.01 235.98L333.41 236.59L336.8 237.19L340.19 237.77L343.58 238.35L346.97 238.92L350.36 239.47L353.75 240.02L357.14 240.56L360.53 241.09L363.92 241.61L367.32 242.12L370.71 242.62L374.1 243.12L377.49 243.6L380.88 244.08L384.27 244.55L387.66 245.02L391.05 245.47L394.44 245.92L397.84 246.36L401.23 246.79L404.62 247.22L408.01 247.64L411.4 248.05L414.79 248.46L418.18 248.86L421.57 249.25L424.96 249.64L428.35 250.02L431.75 250.39L435.14 250.76L438.53 251.13L441.92 251.48L443.61 251.66" stroke="#3BB54A"/>
</g>
<g font-family="'Liberation Sans', Arial, Helvetica, sans-serif">
<text x="279.3" y="383.9" text-anchor="middle" font-size="24.8" font-weight="bold" textLength="94.2" lengthAdjust="spacingAndGlyphs" stroke="#000" stroke-width="0.8" stroke-linejoin="round" fill="#000">Time (s)</text>
<text transform="translate(23.4 182.2) rotate(-90)" text-anchor="middle" font-size="24.8" font-weight="bold" textLength="204.2" lengthAdjust="spacingAndGlyphs" stroke="#000" stroke-width="0.8" stroke-linejoin="round" fill="#000">Normalised force</text>
</g>
<path d="M121.4 259.6H145.4" stroke="#12A779" stroke-width="4.6" stroke-linecap="round" fill="none"/>
<circle cx="129.5" cy="285.8" r="2.5" fill="#12A779"/>
<g font-family="'Liberation Sans', Arial, Helvetica, sans-serif"><text x="159" y="266" font-size="19.4" textLength="105.5" lengthAdjust="spacingAndGlyphs" stroke="#000" stroke-width="0.3" stroke-linejoin="round" fill="#000">2 term Prony</text><text x="155.4" y="292.4" font-size="19.4" textLength="77.86" lengthAdjust="spacingAndGlyphs" stroke="#000" stroke-width="0.3" stroke-linejoin="round" fill="#000">Raw data</text></g>
<g font-family="'Liberation Sans', Arial, Helvetica, sans-serif"><text x="-1.1" y="26.2" font-size="34.5" font-weight="bold" textLength="43.85" lengthAdjust="spacingAndGlyphs" stroke="#231F20" stroke-width="0.8" stroke-linejoin="round" fill="#231F20">(a)</text></g>
</g>
<g id="panel-b">
<path d="M109 463V689.8H447.8" fill="none" stroke="#000" stroke-width="2.4" stroke-linejoin="miter"/>
<path d="M102.2 464.2H109M102.2 520.6H109M102.2 577H109M102.2 633.4H109M102.2 689.8H109M109 689.8V696.6M176.52 689.8V696.6M244.04 689.8V696.6M311.56 689.8V696.6M379.08 689.8V696.6M446.6 689.8V696.6" fill="none" stroke="#000" stroke-width="2.4"/>
<g font-family="'Liberation Sans', Arial, Helvetica, sans-serif">
<text x="102.1" y="472.76" text-anchor="end" font-size="24.8" stroke="#3A3A3A" stroke-width="0.4" stroke-linejoin="round" fill="#3A3A3A">1.0</text>
<text x="102.1" y="529.16" text-anchor="end" font-size="24.8" stroke="#3A3A3A" stroke-width="0.4" stroke-linejoin="round" fill="#3A3A3A">0.8</text>
<text x="102.1" y="585.56" text-anchor="end" font-size="24.8" stroke="#3A3A3A" stroke-width="0.4" stroke-linejoin="round" fill="#3A3A3A">0.6</text>
<text x="102.1" y="641.96" text-anchor="end" font-size="24.8" stroke="#3A3A3A" stroke-width="0.4" stroke-linejoin="round" fill="#3A3A3A">0.4</text>
<text x="102.1" y="698.36" text-anchor="end" font-size="24.8" stroke="#3A3A3A" stroke-width="0.4" stroke-linejoin="round" fill="#3A3A3A">0.2</text>
<text x="109" y="721.7" text-anchor="middle" font-size="24.8" stroke="#3A3A3A" stroke-width="0.4" stroke-linejoin="round" fill="#3A3A3A">0</text>
<text x="176.52" y="721.7" text-anchor="middle" font-size="24.8" stroke="#3A3A3A" stroke-width="0.4" stroke-linejoin="round" fill="#3A3A3A">2</text>
<text x="244.04" y="721.7" text-anchor="middle" font-size="24.8" stroke="#3A3A3A" stroke-width="0.4" stroke-linejoin="round" fill="#3A3A3A">4</text>
<text x="311.56" y="721.7" text-anchor="middle" font-size="24.8" stroke="#3A3A3A" stroke-width="0.4" stroke-linejoin="round" fill="#3A3A3A">6</text>
<text x="379.08" y="721.7" text-anchor="middle" font-size="24.8" stroke="#3A3A3A" stroke-width="0.4" stroke-linejoin="round" fill="#3A3A3A">8</text>
<text x="446.6" y="721.7" text-anchor="middle" font-size="24.8" stroke="#3A3A3A" stroke-width="0.4" stroke-linejoin="round" fill="#3A3A3A">10</text>
</g>
<path d="M112.04 496.23a2.5 2.5 0 1 0 5 0a2.5 2.5 0 1 0 -5 0zM113.86 496.28a2.5 2.5 0 1 0 5 0a2.5 2.5 0 1 0 -5 0zM114.22 505.29a2.5 2.5 0 1 0 5 0a2.5 2.5 0 1 0 -5 0zM116.45 501.49a2.5 2.5 0 1 0 5 0a2.5 2.5 0 1 0 -5 0zM117.24 510.6a2.5 2.5 0 1 0 5 0a2.5 2.5 0 1 0 -5 0zM117.82 494.56a2.5 2.5 0 1 0 5 0a2.5 2.5 0 1 0 -5 0zM117.83 504.57a2.5 2.5 0 1 0 5 0a2.5 2.5 0 1 0 -5 0zM118 510.94a2.5 2.5 0 1 0 5 0a2.5 2.5 0 1 0 -5 0zM119.06 504.14a2.5 2.5 0 1 0 5 0a2.5 2.5 0 1 0 -5 0zM119.3 504.52a2.5 2.5 0 1 0 5 0a2.5 2.5 0 1 0 -5 0zM119.63 499.85a2.5 2.5 0 1 0 5 0a2.5 2.5 0 1 0 -5 0zM120.08 509.3a2.5 2.5 0 1 0 5 0a2.5 2.5 0 1 0 -5 0zM121.17 500.35a2.5 2.5 0 1 0 5 0a2.5 2.5 0 1 0 -5 0zM121.63 481.21a2.5 2.5 0 1 0 5 0a2.5 2.5 0 1 0 -5 0zM123.05 512.88a2.5 2.5 0 1 0 5 0a2.5 2.5 0 1 0 -5 0zM123.31 501.7a2.5 2.5 0 1 0 5 0a2.5 2.5 0 1 0 -5 0zM124.76 504.36a2.5 2.5 0 1 0 5 0a2.5 2.5 0 1 0 -5 0zM126.16 503.42a2.5 2.5 0 1 0 5 0a2.5 2.5 0 1 0 -5 0zM126.55 513.63a2.5 2.5 0 1 0 5 0a2.5 2.5 0 1 0 -5 0zM128.64 511.06a2.5 2.5 0 1 0 5 0a2.5 2.5 0 1 0 -5 0zM128.99 501.96a2.5 2.5 0 1 0 5 0a2.5 2.5 0 1 0 -5 0zM129.2 503.39a2.5 2.5 0 1 0 5 0a2.5 2.5 0 1 0 -5 0zM130.61 494.16a2.5 2.5 0 1 0 5 0a2.5 2.5 0 1 0 -5 0zM130.84 507.84a2.5 2.5 0 1 0 5 0a2.5 2.5 0 1 0 -5 0zM130.88 500.97a2.5 2.5 0 1 0 5 0a2.5 2.5 0 1 0 -5 0zM131.84 483.95a2.5 2.5 0 1 0 5 0a2.5 2.5 0 1 0 -5 0zM132.18 504.97a2.5 2.5 0 1 0 5 0a2.5 2.5 0 1 0 -5 0zM134.61 508.96a2.5 2.5 0 1 0 5 0a2.5 2.5 0 1 0 -5 0zM134.92 505.82a2.5 2.5 0 1 0 5 0a2.5 2.5 0 1 0 -5 0zM136.11 505.38a2.5 2.5 0 1 0 5 0a2.5 2.5 0 1 0 -5 0zM137.13 501.84a2.5 2.5 0 1 0 5 0a2.5 2.5 0 1 0 -5 0zM137.22 505.99a2.5 2.5 0 1 0 5 0a2.5 2.5 0 1 0 -5 0zM138.16 513.08a2.5 2.5 0 1 0 5 0a2.5 2.5 0 1 0 -5 0zM138.74 507.94a2.5 2.5 0 1 0 5 0a2.5 2.5 0 1 0 -5 0zM139.39 495.45a2.5 2.5 0 1 0 5 0a2.5 2.5 0 1 0 -5 0zM140.45 502.4a2.5 2.5 0 1 0 5 0a2.5 2.5 0 1 0 -5 0zM144.57 530.13a2.5 2.5 0 1 0 5 0a2.5 2.5 0 1 0 -5 0zM146.9 516.09a2.5 2.5 0 1 0 5 0a2.5 2.5 0 1 0 -5 0zM147.04 520.76a2.5 2.5 0 1 0 5 0a2.5 2.5 0 1 0 -5 0zM147.62 510.91a2.5 2.5 0 1 0 5 0a2.5 2.5 0 1 0 -5 0zM148.54 517.82a2.5 2.5 0 1 0 5 0a2.5 2.5 0 1 0 -5 0zM150.91 506.84a2.5 2.5 0 1 0 5 0a2.5 2.5 0 1 0 -5 0zM150.92 513.05a2.5 2.5 0 1 0 5 0a2.5 2.5 0 1 0 -5 0zM151.38 513a2.5 2.5 0 1 0 5 0a2.5 2.5 0 1 0 -5 0zM151.44 516.7a2.5 2.5 0 1 0 5 0a2.5 2.5 0 1 0 -5 0zM151.78 518.8a2.5 2.5 0 1 0 5 0a2.5 2.5 0 1 0 -5 0zM152.08 516.49a2.5 2.5 0 1 0 5 0a2.5 2.5 0 1 0 -5 0zM153.24 511.98a2.5 2.5 0 1 0 5 0a2.5 2.5 0 1 0 -5 0zM154.47 516.72a2.5 2.5 0 1 0 5 0a2.5 2.5 0 1 0 -5 0zM154.51 522.13a2.5 2.5 0 1 0 5 0a2.5 2.5 0 1 0 -5 0zM154.53 513.29a2.5 2.5 0 1 0 5 0a2.5 2.5 0 1 0 -5 0zM156.43 520.89a2.5 2.5 0 1 0 5 0a2.5 2.5 0 1 0 -5 0zM156.54 522.17a2.5 2.5 0 1 0 5 0a2.5 2.5 0 1 0 -5 0zM156.56 523.88a2.5 2.5 0 1 0 5 0a2.5 2.5 0 1 0 -5 0zM157.8 523.86a2.5 2.5 0 1 0 5 0a2.5 2.5 0 1 0 -5 0zM157.88 524.01a2.5 2.5 0 1 0 5 0a2.5 2.5 0 1 0 -5 0zM158.49 535.52a2.5 2.5 0 1 0 5 0a2.5 2.5 0 1 0 -5 0zM159.66 516.02a2.5 2.5 0 1 0 5 0a2.5 2.5 0 1 0 -5 0zM159.78 520.75a2.5 2.5 0 1 0 5 0a2.5 2.5 0 1 0 -5 0zM160.23 527.01a2.5 2.5 0 1 0 5 0a2.5 2.5 0 1 0 -5 0zM161.63 520.52a2.5 2.5 0 1 0 5 0a2.5 2.5 0 1 0 -5 0zM161.84 521.52a2.5 2.5 0 1 0 5 0a2.5 2.5 0 1 0 -5 0zM161.85 521.51a2.5 2.5 0 1 0 5 0a2.5 2.5 0 1 0 -5 0zM161.87 537.05a2.5 2.5 0 1 0 5 0a2.5 2.5 0 1 0 -5 0zM162.96 524.69a2.5 2.5 0 1 0 5 0a2.5 2.5 0 1 0 -5 0zM163.98 523.55a2.5 2.5 0 1 0 5 0a2.5 2.5 0 1 0 -5 0zM164.73 520.24a2.5 2.5 0 1 0 5 0a2.5 2.5 0 1 0 -5 0zM165.71 518.32a2.5 2.5 0 1 0 5 0a2.5 2.5 0 1 0 -5 0zM166.19 520.88a2.5 2.5 0 1 0 5 0a2.5 2.5 0 1 0 -5 0zM169.71 539.7a2.5 2.5 0 1 0 5 0a2.5 2.5 0 1 0 -5 0zM172.07 545.94a2.5 2.5 0 1 0 5 0a2.5 2.5 0 1 0 -5 0zM173.91 532.35a2.5 2.5 0 1 0 5 0a2.5 2.5 0 1 0 -5 0zM175.63 535.28a2.5 2.5 0 1 0 5 0a2.5 2.5 0 1 0 -5 0zM176.11 528.41a2.5 2.5 0 1 0 5 0a2.5 2.5 0 1 0 -5 0zM176.89 536.17a2.5 2.5 0 1 0 5 0a2.5 2.5 0 1 0 -5 0zM177.84 535.94a2.5 2.5 0 1 0 5 0a2.5 2.5 0 1 0 -5 0zM181.13 547.01a2.5 2.5 0 1 0 5 0a2.5 2.5 0 1 0 -5 0zM181.15 536.75a2.5 2.5 0 1 0 5 0a2.5 2.5 0 1 0 -5 0zM181.91 541.51a2.5 2.5 0 1 0 5 0a2.5 2.5 0 1 0 -5 0zM186.01 540.41a2.5 2.5 0 1 0 5 0a2.5 2.5 0 1 0 -5 0zM187.23 539.54a2.5 2.5 0 1 0 5 0a2.5 2.5 0 1 0 -5 0zM188.75 543.69a2.5 2.5 0 1 0 5 0a2.5 2.5 0 1 0 -5 0zM190.26 542.45a2.5 2.5 0 1 0 5 0a2.5 2.5 0 1 0 -5 0zM190.52 545.58a2.5 2.5 0 1 0 5 0a2.5 2.5 0 1 0 -5 0zM191.89 541.5a2.5 2.5 0 1 0 5 0a2.5 2.5 0 1 0 -5 0zM193.99 546.3a2.5 2.5 0 1 0 5 0a2.5 2.5 0 1 0 -5 0zM194.73 553.24a2.5 2.5 0 1 0 5 0a2.5 2.5 0 1 0 -5 0zM194.9 554.05a2.5 2.5 0 1 0 5 0a2.5 2.5 0 1 0 -5 0zM197.96 541.1a2.5 2.5 0 1 0 5 0a2.5 2.5 0 1 0 -5 0zM200.67 554.88a2.5 2.5 0 1 0 5 0a2.5 2.5 0 1 0 -5 0zM201.28 546.82a2.5 2.5 0 1 0 5 0a2.5 2.5 0 1 0 -5 0zM204.2 552.24a2.5 2.5 0 1 0 5 0a2.5 2.5 0 1 0 -5 0zM204.92 559.59a2.5 2.5 0 1 0 5 0a2.5 2.5 0 1 0 -5 0zM205.74 559.57a2.5 2.5 0 1 0 5 0a2.5 2.5 0 1 0 -5 0zM206.18 552.8a2.5 2.5 0 1 0 5 0a2.5 2.5 0 1 0 -5 0zM206.6 552.45a2.5 2.5 0 1 0 5 0a2.5 2.5 0 1 0 -5 0zM208.55 552.35a2.5 2.5 0 1 0 5 0a2.5 2.5 0 1 0 -5 0zM211.89 565.17a2.5 2.5 0 1 0 5 0a2.5 2.5 0 1 0 -5 0zM213.77 562.94a2.5 2.5 0 1 0 5 0a2.5 2.5 0 1 0 -5 0zM214.06 560.5a2.5 2.5 0 1 0 5 0a2.5 2.5 0 1 0 -5 0zM214.07 548.74a2.5 2.5 0 1 0 5 0a2.5 2.5 0 1 0 -5 0zM214.8 572.14a2.5 2.5 0 1 0 5 0a2.5 2.5 0 1 0 -5 0zM217.29 556.66a2.5 2.5 0 1 0 5 0a2.5 2.5 0 1 0 -5 0zM217.33 562.11a2.5 2.5 0 1 0 5 0a2.5 2.5 0 1 0 -5 0zM217.35 556.47a2.5 2.5 0 1 0 5 0a2.5 2.5 0 1 0 -5 0zM219.7 562.16a2.5 2.5 0 1 0 5 0a2.5 2.5 0 1 0 -5 0zM222.17 557.32a2.5 2.5 0 1 0 5 0a2.5 2.5 0 1 0 -5 0zM222.43 550.79a2.5 2.5 0 1 0 5 0a2.5 2.5 0 1 0 -5 0zM222.63 557.97a2.5 2.5 0 1 0 5 0a2.5 2.5 0 1 0 -5 0zM224.33 555.62a2.5 2.5 0 1 0 5 0a2.5 2.5 0 1 0 -5 0zM226.45 556.64a2.5 2.5 0 1 0 5 0a2.5 2.5 0 1 0 -5 0zM226.86 563.76a2.5 2.5 0 1 0 5 0a2.5 2.5 0 1 0 -5 0zM228.18 554.65a2.5 2.5 0 1 0 5 0a2.5 2.5 0 1 0 -5 0zM228.19 559.13a2.5 2.5 0 1 0 5 0a2.5 2.5 0 1 0 -5 0zM228.92 564.45a2.5 2.5 0 1 0 5 0a2.5 2.5 0 1 0 -5 0zM229.9 559.83a2.5 2.5 0 1 0 5 0a2.5 2.5 0 1 0 -5 0zM230.83 562.69a2.5 2.5 0 1 0 5 0a2.5 2.5 0 1 0 -5 0zM230.91 557.53a2.5 2.5 0 1 0 5 0a2.5 2.5 0 1 0 -5 0zM232.14 562.88a2.5 2.5 0 1 0 5 0a2.5 2.5 0 1 0 -5 0zM232.9 566.56a2.5 2.5 0 1 0 5 0a2.5 2.5 0 1 0 -5 0zM233.58 556.26a2.5 2.5 0 1 0 5 0a2.5 2.5 0 1 0 -5 0zM237.44 563.16a2.5 2.5 0 1 0 5 0a2.5 2.5 0 1 0 -5 0zM237.84 562.57a2.5 2.5 0 1 0 5 0a2.5 2.5 0 1 0 -5 0zM239.32 566.63a2.5 2.5 0 1 0 5 0a2.5 2.5 0 1 0 -5 0zM239.63 572.02a2.5 2.5 0 1 0 5 0a2.5 2.5 0 1 0 -5 0zM240.96 575.84a2.5 2.5 0 1 0 5 0a2.5 2.5 0 1 0 -5 0zM241.65 573.42a2.5 2.5 0 1 0 5 0a2.5 2.5 0 1 0 -5 0zM242.2 567.36a2.5 2.5 0 1 0 5 0a2.5 2.5 0 1 0 -5 0zM242.4 570.85a2.5 2.5 0 1 0 5 0a2.5 2.5 0 1 0 -5 0zM243.91 580.35a2.5 2.5 0 1 0 5 0a2.5 2.5 0 1 0 -5 0zM244.4 572.49a2.5 2.5 0 1 0 5 0a2.5 2.5 0 1 0 -5 0zM244.77 582.65a2.5 2.5 0 1 0 5 0a2.5 2.5 0 1 0 -5 0zM247.17 575.17a2.5 2.5 0 1 0 5 0a2.5 2.5 0 1 0 -5 0zM247.63 583a2.5 2.5 0 1 0 5 0a2.5 2.5 0 1 0 -5 0zM248.78 583.41a2.5 2.5 0 1 0 5 0a2.5 2.5 0 1 0 -5 0zM252.08 578.25a2.5 2.5 0 1 0 5 0a2.5 2.5 0 1 0 -5 0zM252.61 578.56a2.5 2.5 0 1 0 5 0a2.5 2.5 0 1 0 -5 0zM254.65 588.13a2.5 2.5 0 1 0 5 0a2.5 2.5 0 1 0 -5 0zM254.71 575.13a2.5 2.5 0 1 0 5 0a2.5 2.5 0 1 0 -5 0zM257.04 567a2.5 2.5 0 1 0 5 0a2.5 2.5 0 1 0 -5 0zM258.63 589.54a2.5 2.5 0 1 0 5 0a2.5 2.5 0 1 0 -5 0zM258.68 570.7a2.5 2.5 0 1 0 5 0a2.5 2.5 0 1 0 -5 0zM259.01 586.15a2.5 2.5 0 1 0 5 0a2.5 2.5 0 1 0 -5 0zM260.03 583.57a2.5 2.5 0 1 0 5 0a2.5 2.5 0 1 0 -5 0zM260.99 581.19a2.5 2.5 0 1 0 5 0a2.5 2.5 0 1 0 -5 0zM262.61 591.6a2.5 2.5 0 1 0 5 0a2.5 2.5 0 1 0 -5 0zM262.64 575.3a2.5 2.5 0 1 0 5 0a2.5 2.5 0 1 0 -5 0zM264.37 581.16a2.5 2.5 0 1 0 5 0a2.5 2.5 0 1 0 -5 0zM264.82 589a2.5 2.5 0 1 0 5 0a2.5 2.5 0 1 0 -5 0zM265.08 586.93a2.5 2.5 0 1 0 5 0a2.5 2.5 0 1 0 -5 0zM265.7 596.26a2.5 2.5 0 1 0 5 0a2.5 2.5 0 1 0 -5 0zM268.62 589.88a2.5 2.5 0 1 0 5 0a2.5 2.5 0 1 0 -5 0zM270.64 584.37a2.5 2.5 0 1 0 5 0a2.5 2.5 0 1 0 -5 0zM271.83 601.1a2.5 2.5 0 1 0 5 0a2.5 2.5 0 1 0 -5 0zM272.32 594.48a2.5 2.5 0 1 0 5 0a2.5 2.5 0 1 0 -5 0zM273.85 592.61a2.5 2.5 0 1 0 5 0a2.5 2.5 0 1 0 -5 0zM274.83 586.93a2.5 2.5 0 1 0 5 0a2.5 2.5 0 1 0 -5 0zM275.42 585.02a2.5 2.5 0 1 0 5 0a2.5 2.5 0 1 0 -5 0zM275.56 596.57a2.5 2.5 0 1 0 5 0a2.5 2.5 0 1 0 -5 0zM275.9 599.5a2.5 2.5 0 1 0 5 0a2.5 2.5 0 1 0 -5 0zM275.95 593.03a2.5 2.5 0 1 0 5 0a2.5 2.5 0 1 0 -5 0zM276.87 597.22a2.5 2.5 0 1 0 5 0a2.5 2.5 0 1 0 -5 0zM278.74 597.63a2.5 2.5 0 1 0 5 0a2.5 2.5 0 1 0 -5 0zM279.97 589.72a2.5 2.5 0 1 0 5 0a2.5 2.5 0 1 0 -5 0zM280.18 586.6a2.5 2.5 0 1 0 5 0a2.5 2.5 0 1 0 -5 0zM280.3 595.41a2.5 2.5 0 1 0 5 0a2.5 2.5 0 1 0 -5 0zM282.32 598.77a2.5 2.5 0 1 0 5 0a2.5 2.5 0 1 0 -5 0zM282.47 596.42a2.5 2.5 0 1 0 5 0a2.5 2.5 0 1 0 -5 0zM284.14 609.89a2.5 2.5 0 1 0 5 0a2.5 2.5 0 1 0 -5 0zM285.64 600.34a2.5 2.5 0 1 0 5 0a2.5 2.5 0 1 0 -5 0zM288.25 607.77a2.5 2.5 0 1 0 5 0a2.5 2.5 0 1 0 -5 0zM290.09 585.86a2.5 2.5 0 1 0 5 0a2.5 2.5 0 1 0 -5 0zM291.53 595.34a2.5 2.5 0 1 0 5 0a2.5 2.5 0 1 0 -5 0zM292.63 598.52a2.5 2.5 0 1 0 5 0a2.5 2.5 0 1 0 -5 0zM292.64 601.19a2.5 2.5 0 1 0 5 0a2.5 2.5 0 1 0 -5 0zM294.03 616.34a2.5 2.5 0 1 0 5 0a2.5 2.5 0 1 0 -5 0zM294.19 596.99a2.5 2.5 0 1 0 5 0a2.5 2.5 0 1 0 -5 0zM294.64 590.1a2.5 2.5 0 1 0 5 0a2.5 2.5 0 1 0 -5 0zM294.71 605.09a2.5 2.5 0 1 0 5 0a2.5 2.5 0 1 0 -5 0zM296.16 594.71a2.5 2.5 0 1 0 5 0a2.5 2.5 0 1 0 -5 0zM296.8 595.54a2.5 2.5 0 1 0 5 0a2.5 2.5 0 1 0 -5 0zM298.24 609.29a2.5 2.5 0 1 0 5 0a2.5 2.5 0 1 0 -5 0zM301.4 592.88a2.5 2.5 0 1 0 5 0a2.5 2.5 0 1 0 -5 0zM304.08 589.71a2.5 2.5 0 1 0 5 0a2.5 2.5 0 1 0 -5 0zM305.66 595.39a2.5 2.5 0 1 0 5 0a2.5 2.5 0 1 0 -5 0zM306.91 597.93a2.5 2.5 0 1 0 5 0a2.5 2.5 0 1 0 -5 0zM307.71 594.11a2.5 2.5 0 1 0 5 0a2.5 2.5 0 1 0 -5 0zM307.75 610.04a2.5 2.5 0 1 0 5 0a2.5 2.5 0 1 0 -5 0zM309.2 601.98a2.5 2.5 0 1 0 5 0a2.5 2.5 0 1 0 -5 0zM310.24 597.77a2.5 2.5 0 1 0 5 0a2.5 2.5 0 1 0 -5 0zM310.58 613.08a2.5 2.5 0 1 0 5 0a2.5 2.5 0 1 0 -5 0zM311.68 599.78a2.5 2.5 0 1 0 5 0a2.5 2.5 0 1 0 -5 0zM313.07 609.22a2.5 2.5 0 1 0 5 0a2.5 2.5 0 1 0 -5 0zM313.42 621.43a2.5 2.5 0 1 0 5 0a2.5 2.5 0 1 0 -5 0zM315.42 607.42a2.5 2.5 0 1 0 5 0a2.5 2.5 0 1 0 -5 0zM316.23 613.71a2.5 2.5 0 1 0 5 0a2.5 2.5 0 1 0 -5 0zM317.09 607.72a2.5 2.5 0 1 0 5 0a2.5 2.5 0 1 0 -5 0zM317.32 615.23a2.5 2.5 0 1 0 5 0a2.5 2.5 0 1 0 -5 0zM318.51 601.08a2.5 2.5 0 1 0 5 0a2.5 2.5 0 1 0 -5 0zM321.95 613.85a2.5 2.5 0 1 0 5 0a2.5 2.5 0 1 0 -5 0zM322.15 609.11a2.5 2.5 0 1 0 5 0a2.5 2.5 0 1 0 -5 0zM322.16 615.9a2.5 2.5 0 1 0 5 0a2.5 2.5 0 1 0 -5 0zM324.33 613.61a2.5 2.5 0 1 0 5 0a2.5 2.5 0 1 0 -5 0zM324.81 605.14a2.5 2.5 0 1 0 5 0a2.5 2.5 0 1 0 -5 0zM330.39 613.38a2.5 2.5 0 1 0 5 0a2.5 2.5 0 1 0 -5 0zM330.84 617.19a2.5 2.5 0 1 0 5 0a2.5 2.5 0 1 0 -5 0zM331.02 620.98a2.5 2.5 0 1 0 5 0a2.5 2.5 0 1 0 -5 0zM333.37 608.98a2.5 2.5 0 1 0 5 0a2.5 2.5 0 1 0 -5 0zM334.37 612.26a2.5 2.5 0 1 0 5 0a2.5 2.5 0 1 0 -5 0zM334.38 620.13a2.5 2.5 0 1 0 5 0a2.5 2.5 0 1 0 -5 0zM334.39 614.34a2.5 2.5 0 1 0 5 0a2.5 2.5 0 1 0 -5 0zM337.74 620.88a2.5 2.5 0 1 0 5 0a2.5 2.5 0 1 0 -5 0zM340.1 620.5a2.5 2.5 0 1 0 5 0a2.5 2.5 0 1 0 -5 0zM340.32 619.63a2.5 2.5 0 1 0 5 0a2.5 2.5 0 1 0 -5 0zM340.5 611.99a2.5 2.5 0 1 0 5 0a2.5 2.5 0 1 0 -5 0zM340.73 614.81a2.5 2.5 0 1 0 5 0a2.5 2.5 0 1 0 -5 0zM342.44 621.25a2.5 2.5 0 1 0 5 0a2.5 2.5 0 1 0 -5 0zM343.41 614.34a2.5 2.5 0 1 0 5 0a2.5 2.5 0 1 0 -5 0zM345.19 616.28a2.5 2.5 0 1 0 5 0a2.5 2.5 0 1 0 -5 0zM348.08 622.04a2.5 2.5 0 1 0 5 0a2.5 2.5 0 1 0 -5 0zM349.59 618.09a2.5 2.5 0 1 0 5 0a2.5 2.5 0 1 0 -5 0zM350.27 625.68a2.5 2.5 0 1 0 5 0a2.5 2.5 0 1 0 -5 0zM352.43 625.05a2.5 2.5 0 1 0 5 0a2.5 2.5 0 1 0 -5 0zM354.98 622.72a2.5 2.5 0 1 0 5 0a2.5 2.5 0 1 0 -5 0zM355.91 627.33a2.5 2.5 0 1 0 5 0a2.5 2.5 0 1 0 -5 0zM356.51 622.02a2.5 2.5 0 1 0 5 0a2.5 2.5 0 1 0 -5 0zM356.52 634.31a2.5 2.5 0 1 0 5 0a2.5 2.5 0 1 0 -5 0zM357.37 617.61a2.5 2.5 0 1 0 5 0a2.5 2.5 0 1 0 -5 0zM358.33 632.26a2.5 2.5 0 1 0 5 0a2.5 2.5 0 1 0 -5 0zM358.8 632a2.5 2.5 0 1 0 5 0a2.5 2.5 0 1 0 -5 0zM358.95 639.82a2.5 2.5 0 1 0 5 0a2.5 2.5 0 1 0 -5 0zM360.07 626.28a2.5 2.5 0 1 0 5 0a2.5 2.5 0 1 0 -5 0zM361.98 622.71a2.5 2.5 0 1 0 5 0a2.5 2.5 0 1 0 -5 0zM363.22 624.71a2.5 2.5 0 1 0 5 0a2.5 2.5 0 1 0 -5 0zM363.62 625.32a2.5 2.5 0 1 0 5 0a2.5 2.5 0 1 0 -5 0zM365.58 639.78a2.5 2.5 0 1 0 5 0a2.5 2.5 0 1 0 -5 0zM370.55 636.82a2.5 2.5 0 1 0 5 0a2.5 2.5 0 1 0 -5 0zM371.19 635.8a2.5 2.5 0 1 0 5 0a2.5 2.5 0 1 0 -5 0zM371.48 638.66a2.5 2.5 0 1 0 5 0a2.5 2.5 0 1 0 -5 0zM372.31 626.62a2.5 2.5 0 1 0 5 0a2.5 2.5 0 1 0 -5 0zM372.9 633.18a2.5 2.5 0 1 0 5 0a2.5 2.5 0 1 0 -5 0zM373.47 635.94a2.5 2.5 0 1 0 5 0a2.5 2.5 0 1 0 -5 0zM376.51 633.97a2.5 2.5 0 1 0 5 0a2.5 2.5 0 1 0 -5 0zM376.67 641.49a2.5 2.5 0 1 0 5 0a2.5 2.5 0 1 0 -5 0zM376.81 640.59a2.5 2.5 0 1 0 5 0a2.5 2.5 0 1 0 -5 0zM377.55 640.17a2.5 2.5 0 1 0 5 0a2.5 2.5 0 1 0 -5 0zM377.66 631.51a2.5 2.5 0 1 0 5 0a2.5 2.5 0 1 0 -5 0zM377.98 629.66a2.5 2.5 0 1 0 5 0a2.5 2.5 0 1 0 -5 0zM378.47 628.18a2.5 2.5 0 1 0 5 0a2.5 2.5 0 1 0 -5 0zM378.64 624.13a2.5 2.5 0 1 0 5 0a2.5 2.5 0 1 0 -5 0zM379.07 636.53a2.5 2.5 0 1 0 5 0a2.5 2.5 0 1 0 -5 0zM380.01 632.11a2.5 2.5 0 1 0 5 0a2.5 2.5 0 1 0 -5 0zM381.82 628.25a2.5 2.5 0 1 0 5 0a2.5 2.5 0 1 0 -5 0zM382.54 636.19a2.5 2.5 0 1 0 5 0a2.5 2.5 0 1 0 -5 0zM390.06 630.92a2.5 2.5 0 1 0 5 0a2.5 2.5 0 1 0 -5 0zM392.11 621.57a2.5 2.5 0 1 0 5 0a2.5 2.5 0 1 0 -5 0zM392.33 620.67a2.5 2.5 0 1 0 5 0a2.5 2.5 0 1 0 -5 0zM394.39 620.81a2.5 2.5 0 1 0 5 0a2.5 2.5 0 1 0 -5 0zM394.69 628.33a2.5 2.5 0 1 0 5 0a2.5 2.5 0 1 0 -5 0zM397.78 628.63a2.5 2.5 0 1 0 5 0a2.5 2.5 0 1 0 -5 0zM399.42 621.31a2.5 2.5 0 1 0 5 0a2.5 2.5 0 1 0 -5 0zM399.54 631.88a2.5 2.5 0 1 0 5 0a2.5 2.5 0 1 0 -5 0zM400.56 627.88a2.5 2.5 0 1 0 5 0a2.5 2.5 0 1 0 -5 0zM400.56 624.02a2.5 2.5 0 1 0 5 0a2.5 2.5 0 1 0 -5 0zM402.06 635.25a2.5 2.5 0 1 0 5 0a2.5 2.5 0 1 0 -5 0zM402.35 636.71a2.5 2.5 0 1 0 5 0a2.5 2.5 0 1 0 -5 0zM402.6 634.23a2.5 2.5 0 1 0 5 0a2.5 2.5 0 1 0 -5 0zM404.24 629.56a2.5 2.5 0 1 0 5 0a2.5 2.5 0 1 0 -5 0zM406.27 632.14a2.5 2.5 0 1 0 5 0a2.5 2.5 0 1 0 -5 0zM408.73 634.23a2.5 2.5 0 1 0 5 0a2.5 2.5 0 1 0 -5 0zM409.08 631.33a2.5 2.5 0 1 0 5 0a2.5 2.5 0 1 0 -5 0zM409.15 642.49a2.5 2.5 0 1 0 5 0a2.5 2.5 0 1 0 -5 0zM410.52 637.43a2.5 2.5 0 1 0 5 0a2.5 2.5 0 1 0 -5 0zM410.99 631.27a2.5 2.5 0 1 0 5 0a2.5 2.5 0 1 0 -5 0zM411.11 637.7a2.5 2.5 0 1 0 5 0a2.5 2.5 0 1 0 -5 0zM411.35 640.29a2.5 2.5 0 1 0 5 0a2.5 2.5 0 1 0 -5 0zM412.57 638.57a2.5 2.5 0 1 0 5 0a2.5 2.5 0 1 0 -5 0zM412.95 637.72a2.5 2.5 0 1 0 5 0a2.5 2.5 0 1 0 -5 0zM414.41 633.18a2.5 2.5 0 1 0 5 0a2.5 2.5 0 1 0 -5 0zM414.75 638.39a2.5 2.5 0 1 0 5 0a2.5 2.5 0 1 0 -5 0zM415.55 630.91a2.5 2.5 0 1 0 5 0a2.5 2.5 0 1 0 -5 0zM415.68 622.61a2.5 2.5 0 1 0 5 0a2.5 2.5 0 1 0 -5 0zM419.75 632.28a2.5 2.5 0 1 0 5 0a2.5 2.5 0 1 0 -5 0zM419.99 624.69a2.5 2.5 0 1 0 5 0a2.5 2.5 0 1 0 -5 0zM420.29 630.35a2.5 2.5 0 1 0 5 0a2.5 2.5 0 1 0 -5 0zM422.7 639.09a2.5 2.5 0 1 0 5 0a2.5 2.5 0 1 0 -5 0zM423.09 633.42a2.5 2.5 0 1 0 5 0a2.5 2.5 0 1 0 -5 0zM424.28 637.58a2.5 2.5 0 1 0 5 0a2.5 2.5 0 1 0 -5 0zM426.74 627.51a2.5 2.5 0 1 0 5 0a2.5 2.5 0 1 0 -5 0zM431.8 639.44a2.5 2.5 0 1 0 5 0a2.5 2.5 0 1 0 -5 0zM433.22 626.98a2.5 2.5 0 1 0 5 0a2.5 2.5 0 1 0 -5 0zM433.23 631.4a2.5 2.5 0 1 0 5 0a2.5 2.5 0 1 0 -5 0zM434.27 648.58a2.5 2.5 0 1 0 5 0a2.5 2.5 0 1 0 -5 0zM435.52 632.16a2.5 2.5 0 1 0 5 0a2.5 2.5 0 1 0 -5 0zM436.81 629.45a2.5 2.5 0 1 0 5 0a2.5 2.5 0 1 0 -5 0zM437.17 644.56a2.5 2.5 0 1 0 5 0a2.5 2.5 0 1 0 -5 0zM437.69 634.33a2.5 2.5 0 1 0 5 0a2.5 2.5 0 1 0 -5 0zM441.05 650.61a2.5 2.5 0 1 0 5 0a2.5 2.5 0 1 0 -5 0zM442.9 638.62a2.5 2.5 0 1 0 5 0a2.5 2.5 0 1 0 -5 0zM443.7 649.99a2.5 2.5 0 1 0 5 0a2.5 2.5 0 1 0 -5 0z" fill="#0A7A3E"/>
<path d="M110.88 490.26l2.42 -4.4h-4.84zM111.09 483.73l2.42 -4.4h-4.84zM115.84 487.76l2.42 -4.4h-4.84zM116.37 492.66l2.42 -4.4h-4.84zM117.07 495l2.42 -4.4h-4.84zM117.1 484.44l2.42 -4.4h-4.84zM118.59 491.52l2.42 -4.4h-4.84zM120.39 502.58l2.42 -4.4h-4.84zM121.06 497.62l2.42 -4.4h-4.84zM121.8 500.84l2.42 -4.4h-4.84zM122.3 495.11l2.42 -4.4h-4.84zM125.97 511.49l2.42 -4.4h-4.84zM130.09 511.22l2.42 -4.4h-4.84zM130.34 504.85l2.42 -4.4h-4.84zM133 512.63l2.42 -4.4h-4.84zM133.62 522.26l2.42 -4.4h-4.84zM138.04 522.96l2.42 -4.4h-4.84zM138.67 517.55l2.42 -4.4h-4.84zM140.6 515.69l2.42 -4.4h-4.84zM141.88 515.01l2.42 -4.4h-4.84zM144.42 527.13l2.42 -4.4h-4.84zM148.96 538.4l2.42 -4.4h-4.84zM151.41 517.49l2.42 -4.4h-4.84zM151.8 526.85l2.42 -4.4h-4.84zM152.06 526.8l2.42 -4.4h-4.84zM155.25 529.96l2.42 -4.4h-4.84zM156.84 541.73l2.42 -4.4h-4.84zM161.59 539.47l2.42 -4.4h-4.84zM165.41 539.8l2.42 -4.4h-4.84zM168.64 534.24l2.42 -4.4h-4.84zM171.11 545.27l2.42 -4.4h-4.84zM171.83 571.25l2.42 -4.4h-4.84zM172.07 549.12l2.42 -4.4h-4.84zM173.69 544.87l2.42 -4.4h-4.84zM174.59 540.18l2.42 -4.4h-4.84zM176.98 544.21l2.42 -4.4h-4.84zM178.04 529.76l2.42 -4.4h-4.84zM179.03 537.58l2.42 -4.4h-4.84zM183.14 538.2l2.42 -4.4h-4.84zM183.43 542.69l2.42 -4.4h-4.84zM183.83 565.69l2.42 -4.4h-4.84zM187.41 549.12l2.42 -4.4h-4.84zM189.11 549.95l2.42 -4.4h-4.84zM189.91 557.56l2.42 -4.4h-4.84zM190.1 549.65l2.42 -4.4h-4.84zM190.44 551.29l2.42 -4.4h-4.84zM190.53 557.94l2.42 -4.4h-4.84zM192.82 558.72l2.42 -4.4h-4.84zM195.03 561.65l2.42 -4.4h-4.84zM196.96 559.41l2.42 -4.4h-4.84zM197.74 562.68l2.42 -4.4h-4.84zM198.8 556.37l2.42 -4.4h-4.84zM199.05 573.73l2.42 -4.4h-4.84zM199.56 561.02l2.42 -4.4h-4.84zM199.84 574.6l2.42 -4.4h-4.84zM199.99 562.08l2.42 -4.4h-4.84zM203.14 556.72l2.42 -4.4h-4.84zM204.34 560.22l2.42 -4.4h-4.84zM206.36 559.6l2.42 -4.4h-4.84zM207.16 559.25l2.42 -4.4h-4.84zM208.25 549.55l2.42 -4.4h-4.84zM212.39 570.66l2.42 -4.4h-4.84zM214.06 555.42l2.42 -4.4h-4.84zM219.52 577.96l2.42 -4.4h-4.84zM221.61 571.95l2.42 -4.4h-4.84zM225.28 568.75l2.42 -4.4h-4.84zM225.78 575.6l2.42 -4.4h-4.84zM225.87 567.72l2.42 -4.4h-4.84zM226.24 562.81l2.42 -4.4h-4.84zM227.9 576.23l2.42 -4.4h-4.84zM228.41 565.82l2.42 -4.4h-4.84zM229.74 566.61l2.42 -4.4h-4.84zM229.78 577.26l2.42 -4.4h-4.84zM229.82 565.73l2.42 -4.4h-4.84zM230.07 568.94l2.42 -4.4h-4.84zM230.77 551.86l2.42 -4.4h-4.84zM231.86 569.89l2.42 -4.4h-4.84zM231.91 551.14l2.42 -4.4h-4.84zM236.24 572.38l2.42 -4.4h-4.84zM239.2 555.35l2.42 -4.4h-4.84zM239.94 566.68l2.42 -4.4h-4.84zM240 569.07l2.42 -4.4h-4.84zM240.11 567.5l2.42 -4.4h-4.84zM242.45 568.33l2.42 -4.4h-4.84zM243.12 563.66l2.42 -4.4h-4.84zM245.3 562.15l2.42 -4.4h-4.84zM246.55 579.16l2.42 -4.4h-4.84zM247.4 584.7l2.42 -4.4h-4.84zM248.14 596.62l2.42 -4.4h-4.84zM248.44 577.86l2.42 -4.4h-4.84zM249.82 570.71l2.42 -4.4h-4.84zM250.69 573.54l2.42 -4.4h-4.84zM250.71 575.49l2.42 -4.4h-4.84zM251.01 579.03l2.42 -4.4h-4.84zM251.61 582.18l2.42 -4.4h-4.84zM251.67 580.87l2.42 -4.4h-4.84zM254.74 576.87l2.42 -4.4h-4.84zM256.99 595.19l2.42 -4.4h-4.84zM257.33 574.17l2.42 -4.4h-4.84zM264.6 592.17l2.42 -4.4h-4.84zM266.1 584.04l2.42 -4.4h-4.84zM267.03 587.19l2.42 -4.4h-4.84zM270.42 586.72l2.42 -4.4h-4.84zM273.79 592.35l2.42 -4.4h-4.84zM274.18 594.02l2.42 -4.4h-4.84zM274.65 588.97l2.42 -4.4h-4.84zM274.77 594.34l2.42 -4.4h-4.84zM280.56 567.29l2.42 -4.4h-4.84zM281.68 592.06l2.42 -4.4h-4.84zM282.07 596.76l2.42 -4.4h-4.84zM282.36 596.78l2.42 -4.4h-4.84zM285.41 603.41l2.42 -4.4h-4.84zM286.92 615.29l2.42 -4.4h-4.84zM287.9 597.33l2.42 -4.4h-4.84zM293.5 592.3l2.42 -4.4h-4.84zM295.28 607.64l2.42 -4.4h-4.84zM297.18 594.32l2.42 -4.4h-4.84zM298.87 602.76l2.42 -4.4h-4.84zM299.15 594.21l2.42 -4.4h-4.84zM299.67 593.61l2.42 -4.4h-4.84zM303.11 592.37l2.42 -4.4h-4.84zM303.77 592.12l2.42 -4.4h-4.84zM304.32 597.98l2.42 -4.4h-4.84zM306.01 583.94l2.42 -4.4h-4.84zM306.29 593.43l2.42 -4.4h-4.84zM306.79 584.92l2.42 -4.4h-4.84zM310.89 584.75l2.42 -4.4h-4.84zM313.22 593.12l2.42 -4.4h-4.84zM314.76 601.7l2.42 -4.4h-4.84zM315.17 584.39l2.42 -4.4h-4.84zM317.1 597.82l2.42 -4.4h-4.84zM317.37 600.44l2.42 -4.4h-4.84zM322.16 601.51l2.42 -4.4h-4.84zM323.16 587.73l2.42 -4.4h-4.84zM324.33 594.91l2.42 -4.4h-4.84zM327.82 613.01l2.42 -4.4h-4.84zM329.1 589.47l2.42 -4.4h-4.84zM329.31 578.1l2.42 -4.4h-4.84zM330.57 580.32l2.42 -4.4h-4.84zM330.64 600.39l2.42 -4.4h-4.84zM336.74 594.95l2.42 -4.4h-4.84zM338.22 591.39l2.42 -4.4h-4.84zM338.64 588.5l2.42 -4.4h-4.84zM338.87 594.36l2.42 -4.4h-4.84zM339.84 604.3l2.42 -4.4h-4.84zM340.8 587.29l2.42 -4.4h-4.84zM341.14 588.18l2.42 -4.4h-4.84zM342.43 603.37l2.42 -4.4h-4.84zM342.79 595.38l2.42 -4.4h-4.84zM345.38 592.32l2.42 -4.4h-4.84zM346.44 596.4l2.42 -4.4h-4.84zM352.84 593.59l2.42 -4.4h-4.84zM353.3 591.07l2.42 -4.4h-4.84zM354.72 591.54l2.42 -4.4h-4.84zM354.76 596.11l2.42 -4.4h-4.84zM355.78 607.65l2.42 -4.4h-4.84zM356.99 591.71l2.42 -4.4h-4.84zM357.84 584.56l2.42 -4.4h-4.84zM359.33 578.99l2.42 -4.4h-4.84zM363.08 595.33l2.42 -4.4h-4.84zM364.77 597.5l2.42 -4.4h-4.84zM365.29 584.29l2.42 -4.4h-4.84zM366.36 585.65l2.42 -4.4h-4.84zM368.81 594.13l2.42 -4.4h-4.84zM369.08 593.48l2.42 -4.4h-4.84zM369.11 604.05l2.42 -4.4h-4.84zM371.81 595.21l2.42 -4.4h-4.84zM373.31 605.19l2.42 -4.4h-4.84zM377.67 598.39l2.42 -4.4h-4.84zM378.29 596.73l2.42 -4.4h-4.84zM380.59 601.67l2.42 -4.4h-4.84zM383.66 616.78l2.42 -4.4h-4.84zM384.31 608.03l2.42 -4.4h-4.84zM386.43 598.53l2.42 -4.4h-4.84zM387.78 601.54l2.42 -4.4h-4.84zM389.86 604.55l2.42 -4.4h-4.84zM390.72 597.88l2.42 -4.4h-4.84zM392.63 595.59l2.42 -4.4h-4.84zM393.91 593.82l2.42 -4.4h-4.84zM394.6 604.73l2.42 -4.4h-4.84zM396.12 598.75l2.42 -4.4h-4.84zM396.59 601.44l2.42 -4.4h-4.84zM396.8 608.43l2.42 -4.4h-4.84zM396.94 615.24l2.42 -4.4h-4.84zM399.48 606.01l2.42 -4.4h-4.84zM400.83 614.26l2.42 -4.4h-4.84zM402.26 590.55l2.42 -4.4h-4.84zM402.99 607.13l2.42 -4.4h-4.84zM404.25 609.18l2.42 -4.4h-4.84zM407.07 612.24l2.42 -4.4h-4.84zM407.79 595.29l2.42 -4.4h-4.84zM413.14 619.31l2.42 -4.4h-4.84zM415.81 614.93l2.42 -4.4h-4.84zM416.08 619.25l2.42 -4.4h-4.84zM418.55 614.69l2.42 -4.4h-4.84zM422.81 615.17l2.42 -4.4h-4.84zM423.3 605.34l2.42 -4.4h-4.84zM424.97 625.83l2.42 -4.4h-4.84zM425.77 614.95l2.42 -4.4h-4.84zM425.92 599.63l2.42 -4.4h-4.84zM426.85 616.87l2.42 -4.4h-4.84zM427.76 613.51l2.42 -4.4h-4.84zM427.92 619.13l2.42 -4.4h-4.84zM428.19 633.59l2.42 -4.4h-4.84zM429.7 615.01l2.42 -4.4h-4.84zM433.67 607.67l2.42 -4.4h-4.84zM436.03 621.61l2.42 -4.4h-4.84zM439.33 634.71l2.42 -4.4h-4.84zM443.07 620.16l2.42 -4.4h-4.84zM444.95 620.72l2.42 -4.4h-4.84z" fill="#119B4C"/>
<path d="M110.97 468.13l2.42 4.4h-4.84zM113.67 473.76l2.42 4.4h-4.84zM115.79 479.62l2.42 4.4h-4.84zM116.05 470.98l2.42 4.4h-4.84zM116.36 478.76l2.42 4.4h-4.84zM116.59 470.31l2.42 4.4h-4.84zM117.4 462.82l2.42 4.4h-4.84zM118.73 489.39l2.42 4.4h-4.84zM123.32 476l2.42 4.4h-4.84zM126.41 474.5l2.42 4.4h-4.84zM126.6 484.73l2.42 4.4h-4.84zM130.4 475.4l2.42 4.4h-4.84zM130.9 477.5l2.42 4.4h-4.84zM132.8 482.84l2.42 4.4h-4.84zM133.48 472.81l2.42 4.4h-4.84zM134.51 491.12l2.42 4.4h-4.84zM135.1 476.72l2.42 4.4h-4.84zM135.24 482.69l2.42 4.4h-4.84zM136.75 487.91l2.42 4.4h-4.84zM138.13 480.99l2.42 4.4h-4.84zM138.62 483.44l2.42 4.4h-4.84zM141.09 475.43l2.42 4.4h-4.84zM142.92 496.09l2.42 4.4h-4.84zM144.73 486.43l2.42 4.4h-4.84zM145.57 485.03l2.42 4.4h-4.84zM147.53 470.75l2.42 4.4h-4.84zM151.32 492.31l2.42 4.4h-4.84zM152.75 477.18l2.42 4.4h-4.84zM154 497.43l2.42 4.4h-4.84zM155.04 483.31l2.42 4.4h-4.84zM155.87 486.37l2.42 4.4h-4.84zM156.33 483.24l2.42 4.4h-4.84zM163.05 495.94l2.42 4.4h-4.84zM165.33 506.24l2.42 4.4h-4.84zM165.45 503.36l2.42 4.4h-4.84zM166.32 485.32l2.42 4.4h-4.84zM168.31 491.57l2.42 4.4h-4.84zM168.53 499.33l2.42 4.4h-4.84zM169.46 489.27l2.42 4.4h-4.84zM170.24 500.2l2.42 4.4h-4.84zM175.24 502.96l2.42 4.4h-4.84zM176.35 506.69l2.42 4.4h-4.84zM176.72 488.3l2.42 4.4h-4.84zM178.4 484.61l2.42 4.4h-4.84zM179.23 510.56l2.42 4.4h-4.84zM180.72 502.12l2.42 4.4h-4.84zM183.25 497.72l2.42 4.4h-4.84zM183.31 487.91l2.42 4.4h-4.84zM184.46 522.43l2.42 4.4h-4.84zM185.13 504.35l2.42 4.4h-4.84zM185.71 500.22l2.42 4.4h-4.84zM188.14 516.95l2.42 4.4h-4.84zM190.45 504.03l2.42 4.4h-4.84zM192.63 505.68l2.42 4.4h-4.84zM196.82 504.03l2.42 4.4h-4.84zM201.75 512.14l2.42 4.4h-4.84zM202.27 506.12l2.42 4.4h-4.84zM203.71 513.72l2.42 4.4h-4.84zM204.69 505.38l2.42 4.4h-4.84zM205.72 509.74l2.42 4.4h-4.84zM206.6 512.97l2.42 4.4h-4.84zM207.71 519.26l2.42 4.4h-4.84zM207.77 494.68l2.42 4.4h-4.84zM208.1 497.79l2.42 4.4h-4.84zM211.64 500.6l2.42 4.4h-4.84zM217.28 511.71l2.42 4.4h-4.84zM217.85 511.49l2.42 4.4h-4.84zM218.39 496.66l2.42 4.4h-4.84zM218.62 502.69l2.42 4.4h-4.84zM221.6 514.28l2.42 4.4h-4.84zM221.68 509.27l2.42 4.4h-4.84zM222.56 510.86l2.42 4.4h-4.84zM224.99 511.71l2.42 4.4h-4.84zM226.13 518.2l2.42 4.4h-4.84zM226.29 504.4l2.42 4.4h-4.84zM227.71 511.49l2.42 4.4h-4.84zM228.96 517.65l2.42 4.4h-4.84zM229.13 526.08l2.42 4.4h-4.84zM233.81 520.66l2.42 4.4h-4.84zM235.17 515.24l2.42 4.4h-4.84zM243.06 511.99l2.42 4.4h-4.84zM244.4 520.97l2.42 4.4h-4.84zM245.33 509.14l2.42 4.4h-4.84zM246.36 517.2l2.42 4.4h-4.84zM246.58 523.33l2.42 4.4h-4.84zM246.99 539.05l2.42 4.4h-4.84zM247.61 528.34l2.42 4.4h-4.84zM249.4 530.55l2.42 4.4h-4.84zM250.08 522.19l2.42 4.4h-4.84zM250.28 518.59l2.42 4.4h-4.84zM252.44 512.96l2.42 4.4h-4.84zM253.36 523.78l2.42 4.4h-4.84zM255.93 534.14l2.42 4.4h-4.84zM256.21 506.98l2.42 4.4h-4.84zM257.17 522.27l2.42 4.4h-4.84zM259.65 527.55l2.42 4.4h-4.84zM260.62 525.68l2.42 4.4h-4.84zM261.52 538.18l2.42 4.4h-4.84zM262.08 525.46l2.42 4.4h-4.84zM262.69 531.58l2.42 4.4h-4.84zM262.93 522.81l2.42 4.4h-4.84zM264.01 526.39l2.42 4.4h-4.84zM266.93 529.07l2.42 4.4h-4.84zM267.5 526.24l2.42 4.4h-4.84zM268.03 539.16l2.42 4.4h-4.84zM268.49 538.21l2.42 4.4h-4.84zM269.23 535.44l2.42 4.4h-4.84zM280.93 553.71l2.42 4.4h-4.84zM280.96 547.26l2.42 4.4h-4.84zM281.43 548.42l2.42 4.4h-4.84zM282.29 542.48l2.42 4.4h-4.84zM283.61 549.15l2.42 4.4h-4.84zM284.37 563.32l2.42 4.4h-4.84zM286.85 550.55l2.42 4.4h-4.84zM287.62 542.09l2.42 4.4h-4.84zM290.49 565.9l2.42 4.4h-4.84zM290.73 559.6l2.42 4.4h-4.84zM293.99 557.06l2.42 4.4h-4.84zM298.86 568.26l2.42 4.4h-4.84zM299.52 562.66l2.42 4.4h-4.84zM301.21 558.74l2.42 4.4h-4.84zM302.32 569.82l2.42 4.4h-4.84zM303.42 558.34l2.42 4.4h-4.84zM304.93 558.82l2.42 4.4h-4.84zM309.7 574.91l2.42 4.4h-4.84zM315.12 565.93l2.42 4.4h-4.84zM315.56 559.82l2.42 4.4h-4.84zM319.64 570.46l2.42 4.4h-4.84zM321.82 565.55l2.42 4.4h-4.84zM322.56 564.24l2.42 4.4h-4.84zM323.1 567.01l2.42 4.4h-4.84zM324.01 560.34l2.42 4.4h-4.84zM327.13 566.59l2.42 4.4h-4.84zM327.93 576.8l2.42 4.4h-4.84zM332.48 564.92l2.42 4.4h-4.84zM333.52 563.07l2.42 4.4h-4.84zM336.22 566.21l2.42 4.4h-4.84zM337.34 575.55l2.42 4.4h-4.84zM339 569.2l2.42 4.4h-4.84zM340.84 563.28l2.42 4.4h-4.84zM341.68 570.68l2.42 4.4h-4.84zM342.02 564.78l2.42 4.4h-4.84zM347.79 565.98l2.42 4.4h-4.84zM348.42 575.32l2.42 4.4h-4.84zM351.32 571.24l2.42 4.4h-4.84zM351.82 578l2.42 4.4h-4.84zM352.82 569.68l2.42 4.4h-4.84zM353.01 578.46l2.42 4.4h-4.84zM353.52 583.56l2.42 4.4h-4.84zM355.78 582.51l2.42 4.4h-4.84zM358.54 581.07l2.42 4.4h-4.84zM360.14 577.54l2.42 4.4h-4.84zM364.36 576.63l2.42 4.4h-4.84zM367.45 590.7l2.42 4.4h-4.84zM367.52 587.07l2.42 4.4h-4.84zM368.27 580.19l2.42 4.4h-4.84zM372.36 582.25l2.42 4.4h-4.84zM377.55 585.53l2.42 4.4h-4.84zM378.2 568.08l2.42 4.4h-4.84zM378.82 579.68l2.42 4.4h-4.84zM379.2 590.74l2.42 4.4h-4.84zM380.48 583.78l2.42 4.4h-4.84zM381.04 578.44l2.42 4.4h-4.84zM384.67 585.82l2.42 4.4h-4.84zM385.14 602.76l2.42 4.4h-4.84zM385.15 590.09l2.42 4.4h-4.84zM385.29 588.82l2.42 4.4h-4.84zM385.55 574.08l2.42 4.4h-4.84zM385.63 602.91l2.42 4.4h-4.84zM386.85 578.22l2.42 4.4h-4.84zM387.18 592.43l2.42 4.4h-4.84zM387.23 582.4l2.42 4.4h-4.84zM392.17 595.21l2.42 4.4h-4.84zM392.17 591.55l2.42 4.4h-4.84zM394.48 585.18l2.42 4.4h-4.84zM402.09 596.65l2.42 4.4h-4.84zM406.66 589.99l2.42 4.4h-4.84zM407.69 597.85l2.42 4.4h-4.84zM408.38 600.4l2.42 4.4h-4.84zM408.51 600.28l2.42 4.4h-4.84zM408.63 601.83l2.42 4.4h-4.84zM410.97 597.96l2.42 4.4h-4.84zM412.65 587.17l2.42 4.4h-4.84zM412.91 603.43l2.42 4.4h-4.84zM415.94 606.44l2.42 4.4h-4.84zM416.24 593.45l2.42 4.4h-4.84zM416.49 579.14l2.42 4.4h-4.84zM417 584.92l2.42 4.4h-4.84zM417.99 583.89l2.42 4.4h-4.84zM418.46 583.86l2.42 4.4h-4.84zM418.57 597.75l2.42 4.4h-4.84zM419.14 589.59l2.42 4.4h-4.84zM422.28 608.98l2.42 4.4h-4.84zM424.6 594.17l2.42 4.4h-4.84zM424.7 585.04l2.42 4.4h-4.84zM426.69 601.71l2.42 4.4h-4.84zM430.46 606.63l2.42 4.4h-4.84zM434.55 602.44l2.42 4.4h-4.84zM434.72 590.14l2.42 4.4h-4.84zM436.24 584.16l2.42 4.4h-4.84zM437.08 574.46l2.42 4.4h-4.84zM439.74 583.21l2.42 4.4h-4.84zM439.9 605.63l2.42 4.4h-4.84zM441.1 612.11l2.42 4.4h-4.84zM441.85 597.25l2.42 4.4h-4.84zM442.56 590.22l2.42 4.4h-4.84zM443.23 610.45l2.42 4.4h-4.84zM443.86 602.29l2.42 4.4h-4.84zM445.2 601.5l2.42 4.4h-4.84zM446.14 600.75l2.42 4.4h-4.84z" fill="#3BB54A"/>
<path d="M109.12 467.3h4.8v4.8h-4.8zM110.96 487.14h4.8v4.8h-4.8zM116.18 478.83h4.8v4.8h-4.8zM120.92 477.32h4.8v4.8h-4.8zM124.88 483.22h4.8v4.8h-4.8zM125.07 475.67h4.8v4.8h-4.8zM126.09 490.84h4.8v4.8h-4.8zM126.47 473.45h4.8v4.8h-4.8zM127.76 475.66h4.8v4.8h-4.8zM131.77 496.19h4.8v4.8h-4.8zM133.52 493.56h4.8v4.8h-4.8zM133.76 491.77h4.8v4.8h-4.8zM134 489.05h4.8v4.8h-4.8zM134.1 484.98h4.8v4.8h-4.8zM136.18 502.05h4.8v4.8h-4.8zM136.23 483.11h4.8v4.8h-4.8zM137.42 489.8h4.8v4.8h-4.8zM138.24 495.32h4.8v4.8h-4.8zM141.67 483.4h4.8v4.8h-4.8zM142.34 492.69h4.8v4.8h-4.8zM142.85 483.61h4.8v4.8h-4.8zM144.45 489.11h4.8v4.8h-4.8zM146.2 493.88h4.8v4.8h-4.8zM146.97 485.05h4.8v4.8h-4.8zM147.51 486.58h4.8v4.8h-4.8zM148.23 494.44h4.8v4.8h-4.8zM149.56 502.61h4.8v4.8h-4.8zM150.26 495.41h4.8v4.8h-4.8zM153.07 488.29h4.8v4.8h-4.8zM153.48 495.07h4.8v4.8h-4.8zM154.21 482h4.8v4.8h-4.8zM155.36 487.81h4.8v4.8h-4.8zM155.85 488.71h4.8v4.8h-4.8zM156 486.68h4.8v4.8h-4.8zM156.53 496.41h4.8v4.8h-4.8zM157.19 491.35h4.8v4.8h-4.8zM158.02 495.67h4.8v4.8h-4.8zM161.88 506.82h4.8v4.8h-4.8zM162.12 503.35h4.8v4.8h-4.8zM162.49 489.02h4.8v4.8h-4.8zM164.75 495.95h4.8v4.8h-4.8zM165.5 494.4h4.8v4.8h-4.8zM167.74 504.78h4.8v4.8h-4.8zM169.28 499.62h4.8v4.8h-4.8zM171.76 492.92h4.8v4.8h-4.8zM172.07 496.81h4.8v4.8h-4.8zM174.25 501.39h4.8v4.8h-4.8zM174.69 489.08h4.8v4.8h-4.8zM175.61 498.5h4.8v4.8h-4.8zM176.95 502.13h4.8v4.8h-4.8zM179.69 492.47h4.8v4.8h-4.8zM181.49 513.25h4.8v4.8h-4.8zM183.47 497.64h4.8v4.8h-4.8zM184.42 508.08h4.8v4.8h-4.8zM185.28 506.52h4.8v4.8h-4.8zM185.51 506.71h4.8v4.8h-4.8zM186.63 501.27h4.8v4.8h-4.8zM187.71 501.83h4.8v4.8h-4.8zM189.44 501.23h4.8v4.8h-4.8zM190.13 500.78h4.8v4.8h-4.8zM190.82 493.94h4.8v4.8h-4.8zM195.54 493.62h4.8v4.8h-4.8zM197.99 499.85h4.8v4.8h-4.8zM198.74 498.46h4.8v4.8h-4.8zM199.26 505.78h4.8v4.8h-4.8zM200.2 510.31h4.8v4.8h-4.8zM201.14 499.86h4.8v4.8h-4.8zM201.37 502.49h4.8v4.8h-4.8zM202.45 495.86h4.8v4.8h-4.8zM203 513.77h4.8v4.8h-4.8zM203.68 485.88h4.8v4.8h-4.8zM206.62 511.29h4.8v4.8h-4.8zM206.77 502.42h4.8v4.8h-4.8zM207.28 494.8h4.8v4.8h-4.8zM208.23 509.84h4.8v4.8h-4.8zM208.27 504.35h4.8v4.8h-4.8zM209.47 512.46h4.8v4.8h-4.8zM209.75 510.2h4.8v4.8h-4.8zM212.33 514.85h4.8v4.8h-4.8zM217.73 504h4.8v4.8h-4.8zM218.87 503.07h4.8v4.8h-4.8zM220.19 506.94h4.8v4.8h-4.8zM220.34 497.64h4.8v4.8h-4.8zM221.11 495.01h4.8v4.8h-4.8zM224.63 505.51h4.8v4.8h-4.8zM224.88 507.09h4.8v4.8h-4.8zM229.23 507.42h4.8v4.8h-4.8zM231.56 508.3h4.8v4.8h-4.8zM232.94 497.68h4.8v4.8h-4.8zM233.41 504.01h4.8v4.8h-4.8zM233.61 506.64h4.8v4.8h-4.8zM235.98 506.67h4.8v4.8h-4.8zM236.29 501.13h4.8v4.8h-4.8zM240.87 509.42h4.8v4.8h-4.8zM241.84 505.13h4.8v4.8h-4.8zM242.16 509.24h4.8v4.8h-4.8zM243.72 501.99h4.8v4.8h-4.8zM244.83 504.8h4.8v4.8h-4.8zM244.85 519.43h4.8v4.8h-4.8zM249.2 513.35h4.8v4.8h-4.8zM249.91 507.72h4.8v4.8h-4.8zM250.15 516.06h4.8v4.8h-4.8zM250.19 508.38h4.8v4.8h-4.8zM251.12 511.9h4.8v4.8h-4.8zM253.83 512.01h4.8v4.8h-4.8zM255.37 515.51h4.8v4.8h-4.8zM256.9 515.51h4.8v4.8h-4.8zM258.13 513.72h4.8v4.8h-4.8zM259.67 523.51h4.8v4.8h-4.8zM260.65 521.21h4.8v4.8h-4.8zM261.58 522.03h4.8v4.8h-4.8zM264.39 507.63h4.8v4.8h-4.8zM264.4 516.25h4.8v4.8h-4.8zM264.66 517.84h4.8v4.8h-4.8zM265.08 518.45h4.8v4.8h-4.8zM265.79 523.49h4.8v4.8h-4.8zM266.65 527.22h4.8v4.8h-4.8zM267.53 518.95h4.8v4.8h-4.8zM267.89 528.48h4.8v4.8h-4.8zM268.74 516.81h4.8v4.8h-4.8zM272.37 525.26h4.8v4.8h-4.8zM272.84 526.47h4.8v4.8h-4.8zM273.07 529.82h4.8v4.8h-4.8zM273.65 530h4.8v4.8h-4.8zM280.3 530.48h4.8v4.8h-4.8zM281.14 524.16h4.8v4.8h-4.8zM281.25 518.46h4.8v4.8h-4.8zM281.55 539.85h4.8v4.8h-4.8zM282.6 534.11h4.8v4.8h-4.8zM285.71 530.52h4.8v4.8h-4.8zM286.72 542.68h4.8v4.8h-4.8zM286.97 541.33h4.8v4.8h-4.8zM287.05 538.94h4.8v4.8h-4.8zM288.27 553.24h4.8v4.8h-4.8zM288.27 536.36h4.8v4.8h-4.8zM289.15 542.2h4.8v4.8h-4.8zM289.97 543.94h4.8v4.8h-4.8zM290.7 543.2h4.8v4.8h-4.8zM292.43 543.12h4.8v4.8h-4.8zM293.6 531.09h4.8v4.8h-4.8zM293.66 545.02h4.8v4.8h-4.8zM294.95 541.44h4.8v4.8h-4.8zM295.31 551h4.8v4.8h-4.8zM296.11 545.39h4.8v4.8h-4.8zM296.48 549.68h4.8v4.8h-4.8zM296.89 549.96h4.8v4.8h-4.8zM297.28 552.69h4.8v4.8h-4.8zM298.99 553.97h4.8v4.8h-4.8zM300.01 545.43h4.8v4.8h-4.8zM300.93 544.7h4.8v4.8h-4.8zM302.08 546.32h4.8v4.8h-4.8zM303 552.98h4.8v4.8h-4.8zM304 546.06h4.8v4.8h-4.8zM304.82 562.38h4.8v4.8h-4.8zM305.49 541.85h4.8v4.8h-4.8zM306.78 544.93h4.8v4.8h-4.8zM308.41 542.85h4.8v4.8h-4.8zM310.76 538.64h4.8v4.8h-4.8zM311.11 550.19h4.8v4.8h-4.8zM311.61 539.01h4.8v4.8h-4.8zM312.89 546.06h4.8v4.8h-4.8zM313.56 540.1h4.8v4.8h-4.8zM315.2 545.43h4.8v4.8h-4.8zM318.92 540.08h4.8v4.8h-4.8zM320.86 533.15h4.8v4.8h-4.8zM321.82 546.89h4.8v4.8h-4.8zM321.83 546.71h4.8v4.8h-4.8zM322.93 544.17h4.8v4.8h-4.8zM323.66 540.37h4.8v4.8h-4.8zM326.26 526.95h4.8v4.8h-4.8zM328.4 547.12h4.8v4.8h-4.8zM330.3 558.51h4.8v4.8h-4.8zM330.58 550.81h4.8v4.8h-4.8zM331.05 555.25h4.8v4.8h-4.8zM331.49 548.69h4.8v4.8h-4.8zM333.64 545.16h4.8v4.8h-4.8zM334.93 551.31h4.8v4.8h-4.8zM337.2 548.73h4.8v4.8h-4.8zM337.49 556.24h4.8v4.8h-4.8zM337.75 545.8h4.8v4.8h-4.8zM337.78 551.33h4.8v4.8h-4.8zM341.05 543.92h4.8v4.8h-4.8zM342.2 546.69h4.8v4.8h-4.8zM343.24 556.97h4.8v4.8h-4.8zM344.21 552.82h4.8v4.8h-4.8zM344.27 550.75h4.8v4.8h-4.8zM344.59 546.53h4.8v4.8h-4.8zM345.25 561.66h4.8v4.8h-4.8zM347.51 550.83h4.8v4.8h-4.8zM347.79 539.74h4.8v4.8h-4.8zM351.43 553.28h4.8v4.8h-4.8zM353.29 552.26h4.8v4.8h-4.8zM353.66 553.53h4.8v4.8h-4.8zM357.39 560.93h4.8v4.8h-4.8zM357.88 548.11h4.8v4.8h-4.8zM357.96 551.51h4.8v4.8h-4.8zM358.03 553.38h4.8v4.8h-4.8zM361.13 550.15h4.8v4.8h-4.8zM362.19 550.65h4.8v4.8h-4.8zM362.29 568.53h4.8v4.8h-4.8zM362.74 552.38h4.8v4.8h-4.8zM363.75 559.44h4.8v4.8h-4.8zM364.74 556.04h4.8v4.8h-4.8zM367.48 561.53h4.8v4.8h-4.8zM367.53 563.66h4.8v4.8h-4.8zM368.57 551.71h4.8v4.8h-4.8zM369.21 556.75h4.8v4.8h-4.8zM369.42 557.3h4.8v4.8h-4.8zM370.49 558.6h4.8v4.8h-4.8zM370.94 556.5h4.8v4.8h-4.8zM371.91 555.02h4.8v4.8h-4.8zM372.65 569.91h4.8v4.8h-4.8zM372.81 559.18h4.8v4.8h-4.8zM373.74 553.49h4.8v4.8h-4.8zM374.48 549h4.8v4.8h-4.8zM374.73 543.8h4.8v4.8h-4.8zM377.89 557.21h4.8v4.8h-4.8zM378.33 538.36h4.8v4.8h-4.8zM379.13 547.88h4.8v4.8h-4.8zM379.27 544.91h4.8v4.8h-4.8zM380.02 551.19h4.8v4.8h-4.8zM380.08 550.94h4.8v4.8h-4.8zM380.64 538.66h4.8v4.8h-4.8zM382.44 548.36h4.8v4.8h-4.8zM383.44 549.96h4.8v4.8h-4.8zM383.77 540.14h4.8v4.8h-4.8zM384.05 537.25h4.8v4.8h-4.8zM386.99 556.61h4.8v4.8h-4.8zM390.02 547.88h4.8v4.8h-4.8zM390.12 546.66h4.8v4.8h-4.8zM391.25 535.05h4.8v4.8h-4.8zM391.75 530.87h4.8v4.8h-4.8zM391.88 548.4h4.8v4.8h-4.8zM393.07 546.2h4.8v4.8h-4.8zM396.66 541h4.8v4.8h-4.8zM399.47 539.72h4.8v4.8h-4.8zM401.21 549.64h4.8v4.8h-4.8zM402.32 539.63h4.8v4.8h-4.8zM404.31 547.43h4.8v4.8h-4.8zM409.23 556.89h4.8v4.8h-4.8zM410.77 548.63h4.8v4.8h-4.8zM411.1 538.38h4.8v4.8h-4.8zM415.83 533.7h4.8v4.8h-4.8zM416.26 552h4.8v4.8h-4.8zM418.56 549.45h4.8v4.8h-4.8zM418.59 540.12h4.8v4.8h-4.8zM422.19 562.07h4.8v4.8h-4.8zM423.49 539.45h4.8v4.8h-4.8zM424.59 534.8h4.8v4.8h-4.8zM426.4 560.4h4.8v4.8h-4.8zM427.7 537.44h4.8v4.8h-4.8zM428.24 543.17h4.8v4.8h-4.8zM428.34 533.18h4.8v4.8h-4.8zM428.47 539.68h4.8v4.8h-4.8zM428.77 543.71h4.8v4.8h-4.8zM429.29 543.32h4.8v4.8h-4.8zM430.79 536.39h4.8v4.8h-4.8zM431.7 542h4.8v4.8h-4.8zM431.89 543.55h4.8v4.8h-4.8zM432.04 553.75h4.8v4.8h-4.8zM432.52 542.5h4.8v4.8h-4.8zM432.68 545.36h4.8v4.8h-4.8zM433.25 533.37h4.8v4.8h-4.8zM436.77 546.55h4.8v4.8h-4.8zM437.8 546.86h4.8v4.8h-4.8zM440.23 551.36h4.8v4.8h-4.8zM440.85 541.73h4.8v4.8h-4.8zM441.86 549.12h4.8v4.8h-4.8zM443.98 552.49h4.8v4.8h-4.8zM444.07 537.4h4.8v4.8h-4.8z" fill="#12A779"/>
<path d="M115.37 493.07l2.31 2.31l-2.31 2.31l-2.31 -2.31zM115.49 482.82l2.31 2.31l-2.31 2.31l-2.31 -2.31zM115.6 472.27l2.31 2.31l-2.31 2.31l-2.31 -2.31zM115.74 461.89l2.31 2.31l-2.31 2.31l-2.31 -2.31zM116.37 480.88l2.31 2.31l-2.31 2.31l-2.31 -2.31zM116.74 480.18l2.31 2.31l-2.31 2.31l-2.31 -2.31zM117.25 472.71l2.31 2.31l-2.31 2.31l-2.31 -2.31zM117.98 474.61l2.31 2.31l-2.31 2.31l-2.31 -2.31zM118.81 480.25l2.31 2.31l-2.31 2.31l-2.31 -2.31zM118.94 476.54l2.31 2.31l-2.31 2.31l-2.31 -2.31zM118.95 479.74l2.31 2.31l-2.31 2.31l-2.31 -2.31zM120.63 473.83l2.31 2.31l-2.31 2.31l-2.31 -2.31zM121.33 473.08l2.31 2.31l-2.31 2.31l-2.31 -2.31zM121.55 466.49l2.31 2.31l-2.31 2.31l-2.31 -2.31zM121.85 471.11l2.31 2.31l-2.31 2.31l-2.31 -2.31zM122.45 474.44l2.31 2.31l-2.31 2.31l-2.31 -2.31zM126.68 477.95l2.31 2.31l-2.31 2.31l-2.31 -2.31zM127.9 474.85l2.31 2.31l-2.31 2.31l-2.31 -2.31zM128.06 488.68l2.31 2.31l-2.31 2.31l-2.31 -2.31zM128.59 468.25l2.31 2.31l-2.31 2.31l-2.31 -2.31zM130.85 481.47l2.31 2.31l-2.31 2.31l-2.31 -2.31zM132.8 474.81l2.31 2.31l-2.31 2.31l-2.31 -2.31zM132.86 490.29l2.31 2.31l-2.31 2.31l-2.31 -2.31zM133.11 478.46l2.31 2.31l-2.31 2.31l-2.31 -2.31zM134.81 483.23l2.31 2.31l-2.31 2.31l-2.31 -2.31zM136.01 489.42l2.31 2.31l-2.31 2.31l-2.31 -2.31zM136.64 494.36l2.31 2.31l-2.31 2.31l-2.31 -2.31zM139.61 496.63l2.31 2.31l-2.31 2.31l-2.31 -2.31zM140.9 478.19l2.31 2.31l-2.31 2.31l-2.31 -2.31zM141.29 481.03l2.31 2.31l-2.31 2.31l-2.31 -2.31zM142.4 485.42l2.31 2.31l-2.31 2.31l-2.31 -2.31zM143 484.87l2.31 2.31l-2.31 2.31l-2.31 -2.31zM144.84 492.29l2.31 2.31l-2.31 2.31l-2.31 -2.31zM145.9 499.84l2.31 2.31l-2.31 2.31l-2.31 -2.31zM148.28 499.49l2.31 2.31l-2.31 2.31l-2.31 -2.31zM148.93 491.63l2.31 2.31l-2.31 2.31l-2.31 -2.31zM149.89 490.16l2.31 2.31l-2.31 2.31l-2.31 -2.31zM150.13 497.26l2.31 2.31l-2.31 2.31l-2.31 -2.31zM152.29 484.97l2.31 2.31l-2.31 2.31l-2.31 -2.31zM152.55 488.61l2.31 2.31l-2.31 2.31l-2.31 -2.31zM153.32 492.75l2.31 2.31l-2.31 2.31l-2.31 -2.31zM154.35 504.89l2.31 2.31l-2.31 2.31l-2.31 -2.31zM154.45 497.07l2.31 2.31l-2.31 2.31l-2.31 -2.31zM154.88 495.89l2.31 2.31l-2.31 2.31l-2.31 -2.31zM155.05 504.62l2.31 2.31l-2.31 2.31l-2.31 -2.31zM155.97 509.81l2.31 2.31l-2.31 2.31l-2.31 -2.31zM157.61 482.36l2.31 2.31l-2.31 2.31l-2.31 -2.31zM157.81 492.22l2.31 2.31l-2.31 2.31l-2.31 -2.31zM158.23 497.86l2.31 2.31l-2.31 2.31l-2.31 -2.31zM158.76 485.44l2.31 2.31l-2.31 2.31l-2.31 -2.31zM159.75 487.08l2.31 2.31l-2.31 2.31l-2.31 -2.31zM163.14 491.68l2.31 2.31l-2.31 2.31l-2.31 -2.31zM163.53 493.53l2.31 2.31l-2.31 2.31l-2.31 -2.31zM163.95 489.2l2.31 2.31l-2.31 2.31l-2.31 -2.31zM164.21 484.57l2.31 2.31l-2.31 2.31l-2.31 -2.31zM165.04 495.51l2.31 2.31l-2.31 2.31l-2.31 -2.31zM166.05 496.96l2.31 2.31l-2.31 2.31l-2.31 -2.31zM166.81 491.45l2.31 2.31l-2.31 2.31l-2.31 -2.31zM167.67 514l2.31 2.31l-2.31 2.31l-2.31 -2.31zM167.78 493.25l2.31 2.31l-2.31 2.31l-2.31 -2.31zM168.05 495.2l2.31 2.31l-2.31 2.31l-2.31 -2.31zM168.65 491.75l2.31 2.31l-2.31 2.31l-2.31 -2.31zM168.75 493.07l2.31 2.31l-2.31 2.31l-2.31 -2.31zM170.66 490.47l2.31 2.31l-2.31 2.31l-2.31 -2.31zM171.02 491.8l2.31 2.31l-2.31 2.31l-2.31 -2.31zM171.2 492.3l2.31 2.31l-2.31 2.31l-2.31 -2.31zM172 494.34l2.31 2.31l-2.31 2.31l-2.31 -2.31zM172.31 488.46l2.31 2.31l-2.31 2.31l-2.31 -2.31zM175.4 495.8l2.31 2.31l-2.31 2.31l-2.31 -2.31zM175.93 483.83l2.31 2.31l-2.31 2.31l-2.31 -2.31zM181.29 504.32l2.31 2.31l-2.31 2.31l-2.31 -2.31zM181.47 491.66l2.31 2.31l-2.31 2.31l-2.31 -2.31zM184.55 490.85l2.31 2.31l-2.31 2.31l-2.31 -2.31zM185.22 503.01l2.31 2.31l-2.31 2.31l-2.31 -2.31zM185.31 497.67l2.31 2.31l-2.31 2.31l-2.31 -2.31zM186.47 485.98l2.31 2.31l-2.31 2.31l-2.31 -2.31zM187.46 496.32l2.31 2.31l-2.31 2.31l-2.31 -2.31zM187.66 499.4l2.31 2.31l-2.31 2.31l-2.31 -2.31zM187.9 512.86l2.31 2.31l-2.31 2.31l-2.31 -2.31zM191.56 490.91l2.31 2.31l-2.31 2.31l-2.31 -2.31zM191.7 493.14l2.31 2.31l-2.31 2.31l-2.31 -2.31zM192.07 488.84l2.31 2.31l-2.31 2.31l-2.31 -2.31zM192.39 478.47l2.31 2.31l-2.31 2.31l-2.31 -2.31zM193.15 492.95l2.31 2.31l-2.31 2.31l-2.31 -2.31zM194.41 490.79l2.31 2.31l-2.31 2.31l-2.31 -2.31zM198.31 497.14l2.31 2.31l-2.31 2.31l-2.31 -2.31zM199.81 493.11l2.31 2.31l-2.31 2.31l-2.31 -2.31zM200.85 490.73l2.31 2.31l-2.31 2.31l-2.31 -2.31zM201.97 488.08l2.31 2.31l-2.31 2.31l-2.31 -2.31zM203.27 489.37l2.31 2.31l-2.31 2.31l-2.31 -2.31zM205.21 496.73l2.31 2.31l-2.31 2.31l-2.31 -2.31zM205.45 494.9l2.31 2.31l-2.31 2.31l-2.31 -2.31zM206.99 482.88l2.31 2.31l-2.31 2.31l-2.31 -2.31zM207.55 499.59l2.31 2.31l-2.31 2.31l-2.31 -2.31zM207.83 490.32l2.31 2.31l-2.31 2.31l-2.31 -2.31zM207.89 485.88l2.31 2.31l-2.31 2.31l-2.31 -2.31zM208.85 492.18l2.31 2.31l-2.31 2.31l-2.31 -2.31zM210.24 495.26l2.31 2.31l-2.31 2.31l-2.31 -2.31zM212.01 487.4l2.31 2.31l-2.31 2.31l-2.31 -2.31zM214.17 493.89l2.31 2.31l-2.31 2.31l-2.31 -2.31zM214.48 495.97l2.31 2.31l-2.31 2.31l-2.31 -2.31zM215.11 498.98l2.31 2.31l-2.31 2.31l-2.31 -2.31zM215.17 490.19l2.31 2.31l-2.31 2.31l-2.31 -2.31zM217.36 493.01l2.31 2.31l-2.31 2.31l-2.31 -2.31zM217.5 487.58l2.31 2.31l-2.31 2.31l-2.31 -2.31zM219.36 500.73l2.31 2.31l-2.31 2.31l-2.31 -2.31zM219.71 502.93l2.31 2.31l-2.31 2.31l-2.31 -2.31zM221.74 502.37l2.31 2.31l-2.31 2.31l-2.31 -2.31zM222.04 496.54l2.31 2.31l-2.31 2.31l-2.31 -2.31zM222.4 500.36l2.31 2.31l-2.31 2.31l-2.31 -2.31zM224.48 487.86l2.31 2.31l-2.31 2.31l-2.31 -2.31zM226.67 489.19l2.31 2.31l-2.31 2.31l-2.31 -2.31zM229.61 496.35l2.31 2.31l-2.31 2.31l-2.31 -2.31zM230.4 509.92l2.31 2.31l-2.31 2.31l-2.31 -2.31zM230.57 501.61l2.31 2.31l-2.31 2.31l-2.31 -2.31zM231.32 480.56l2.31 2.31l-2.31 2.31l-2.31 -2.31zM233.65 489.57l2.31 2.31l-2.31 2.31l-2.31 -2.31zM233.95 488.19l2.31 2.31l-2.31 2.31l-2.31 -2.31zM234.87 492.92l2.31 2.31l-2.31 2.31l-2.31 -2.31zM235.17 485.92l2.31 2.31l-2.31 2.31l-2.31 -2.31zM236.66 499.81l2.31 2.31l-2.31 2.31l-2.31 -2.31zM237.34 499.61l2.31 2.31l-2.31 2.31l-2.31 -2.31zM238.12 495.99l2.31 2.31l-2.31 2.31l-2.31 -2.31zM238.68 482.45l2.31 2.31l-2.31 2.31l-2.31 -2.31zM238.93 478.21l2.31 2.31l-2.31 2.31l-2.31 -2.31zM239.16 481.22l2.31 2.31l-2.31 2.31l-2.31 -2.31zM239.48 486.26l2.31 2.31l-2.31 2.31l-2.31 -2.31zM239.7 493.24l2.31 2.31l-2.31 2.31l-2.31 -2.31zM241.12 478.48l2.31 2.31l-2.31 2.31l-2.31 -2.31zM243.25 486.8l2.31 2.31l-2.31 2.31l-2.31 -2.31zM243.3 483.55l2.31 2.31l-2.31 2.31l-2.31 -2.31zM244.22 483.43l2.31 2.31l-2.31 2.31l-2.31 -2.31zM244.61 484.21l2.31 2.31l-2.31 2.31l-2.31 -2.31zM245.31 484.5l2.31 2.31l-2.31 2.31l-2.31 -2.31zM245.64 484.02l2.31 2.31l-2.31 2.31l-2.31 -2.31zM247.16 488.29l2.31 2.31l-2.31 2.31l-2.31 -2.31zM247.17 478.7l2.31 2.31l-2.31 2.31l-2.31 -2.31zM248.47 482.22l2.31 2.31l-2.31 2.31l-2.31 -2.31zM249.65 474.26l2.31 2.31l-2.31 2.31l-2.31 -2.31zM249.98 492.8l2.31 2.31l-2.31 2.31l-2.31 -2.31zM250.39 471.01l2.31 2.31l-2.31 2.31l-2.31 -2.31zM251.01 480.33l2.31 2.31l-2.31 2.31l-2.31 -2.31zM252.32 479.98l2.31 2.31l-2.31 2.31l-2.31 -2.31zM253.35 484.17l2.31 2.31l-2.31 2.31l-2.31 -2.31zM254.07 484.43l2.31 2.31l-2.31 2.31l-2.31 -2.31zM256.06 487.62l2.31 2.31l-2.31 2.31l-2.31 -2.31zM258.44 471.81l2.31 2.31l-2.31 2.31l-2.31 -2.31zM261.4 478l2.31 2.31l-2.31 2.31l-2.31 -2.31zM262.3 472.16l2.31 2.31l-2.31 2.31l-2.31 -2.31zM262.47 472.46l2.31 2.31l-2.31 2.31l-2.31 -2.31zM262.82 480.62l2.31 2.31l-2.31 2.31l-2.31 -2.31zM264.23 480.64l2.31 2.31l-2.31 2.31l-2.31 -2.31zM264.71 482.75l2.31 2.31l-2.31 2.31l-2.31 -2.31zM265.17 473.72l2.31 2.31l-2.31 2.31l-2.31 -2.31zM265.58 479.82l2.31 2.31l-2.31 2.31l-2.31 -2.31zM265.59 479.86l2.31 2.31l-2.31 2.31l-2.31 -2.31zM268.25 478.69l2.31 2.31l-2.31 2.31l-2.31 -2.31zM269.1 485.7l2.31 2.31l-2.31 2.31l-2.31 -2.31zM269.77 470.87l2.31 2.31l-2.31 2.31l-2.31 -2.31zM270.07 490.41l2.31 2.31l-2.31 2.31l-2.31 -2.31zM272.71 477.19l2.31 2.31l-2.31 2.31l-2.31 -2.31zM273.01 475.91l2.31 2.31l-2.31 2.31l-2.31 -2.31zM274.48 493.16l2.31 2.31l-2.31 2.31l-2.31 -2.31zM274.95 478.52l2.31 2.31l-2.31 2.31l-2.31 -2.31zM275.16 483.3l2.31 2.31l-2.31 2.31l-2.31 -2.31zM276.07 477.82l2.31 2.31l-2.31 2.31l-2.31 -2.31zM276.59 492.27l2.31 2.31l-2.31 2.31l-2.31 -2.31zM276.83 480.9l2.31 2.31l-2.31 2.31l-2.31 -2.31zM281.08 488.94l2.31 2.31l-2.31 2.31l-2.31 -2.31zM282.49 485.96l2.31 2.31l-2.31 2.31l-2.31 -2.31zM285.54 475.06l2.31 2.31l-2.31 2.31l-2.31 -2.31zM287.1 485.57l2.31 2.31l-2.31 2.31l-2.31 -2.31zM290.7 499.49l2.31 2.31l-2.31 2.31l-2.31 -2.31zM291.45 495.41l2.31 2.31l-2.31 2.31l-2.31 -2.31zM292.11 494.34l2.31 2.31l-2.31 2.31l-2.31 -2.31zM292.18 479.05l2.31 2.31l-2.31 2.31l-2.31 -2.31zM292.84 490.23l2.31 2.31l-2.31 2.31l-2.31 -2.31zM295.11 497.68l2.31 2.31l-2.31 2.31l-2.31 -2.31zM295.12 480.57l2.31 2.31l-2.31 2.31l-2.31 -2.31zM297.1 486.34l2.31 2.31l-2.31 2.31l-2.31 -2.31zM297.38 486.91l2.31 2.31l-2.31 2.31l-2.31 -2.31zM298.48 494.58l2.31 2.31l-2.31 2.31l-2.31 -2.31zM301.39 479.04l2.31 2.31l-2.31 2.31l-2.31 -2.31zM301.94 489.6l2.31 2.31l-2.31 2.31l-2.31 -2.31zM301.97 505.13l2.31 2.31l-2.31 2.31l-2.31 -2.31zM303.85 498.49l2.31 2.31l-2.31 2.31l-2.31 -2.31zM306.1 495.6l2.31 2.31l-2.31 2.31l-2.31 -2.31zM306.2 489.39l2.31 2.31l-2.31 2.31l-2.31 -2.31zM306.64 482.22l2.31 2.31l-2.31 2.31l-2.31 -2.31zM307.9 494.41l2.31 2.31l-2.31 2.31l-2.31 -2.31zM312.4 492.67l2.31 2.31l-2.31 2.31l-2.31 -2.31zM313.01 473.37l2.31 2.31l-2.31 2.31l-2.31 -2.31zM313.81 486.78l2.31 2.31l-2.31 2.31l-2.31 -2.31zM316.72 491.51l2.31 2.31l-2.31 2.31l-2.31 -2.31zM319.33 488.34l2.31 2.31l-2.31 2.31l-2.31 -2.31zM321.12 497.54l2.31 2.31l-2.31 2.31l-2.31 -2.31zM321.58 483.7l2.31 2.31l-2.31 2.31l-2.31 -2.31zM324.71 480.88l2.31 2.31l-2.31 2.31l-2.31 -2.31zM324.85 491.6l2.31 2.31l-2.31 2.31l-2.31 -2.31zM326.17 482.49l2.31 2.31l-2.31 2.31l-2.31 -2.31zM326.4 490.72l2.31 2.31l-2.31 2.31l-2.31 -2.31zM327.62 486.93l2.31 2.31l-2.31 2.31l-2.31 -2.31zM327.96 493.75l2.31 2.31l-2.31 2.31l-2.31 -2.31zM329.3 493.21l2.31 2.31l-2.31 2.31l-2.31 -2.31zM330.95 497.33l2.31 2.31l-2.31 2.31l-2.31 -2.31zM331 485.68l2.31 2.31l-2.31 2.31l-2.31 -2.31zM332.08 488.97l2.31 2.31l-2.31 2.31l-2.31 -2.31zM332.94 488.76l2.31 2.31l-2.31 2.31l-2.31 -2.31zM333.23 493.89l2.31 2.31l-2.31 2.31l-2.31 -2.31zM333.66 493.42l2.31 2.31l-2.31 2.31l-2.31 -2.31zM335.99 489.92l2.31 2.31l-2.31 2.31l-2.31 -2.31zM336.44 483.47l2.31 2.31l-2.31 2.31l-2.31 -2.31zM337.13 483.73l2.31 2.31l-2.31 2.31l-2.31 -2.31zM339.03 489.61l2.31 2.31l-2.31 2.31l-2.31 -2.31zM341.44 484.5l2.31 2.31l-2.31 2.31l-2.31 -2.31zM342.04 474.22l2.31 2.31l-2.31 2.31l-2.31 -2.31zM342.51 485.87l2.31 2.31l-2.31 2.31l-2.31 -2.31zM347.47 475.99l2.31 2.31l-2.31 2.31l-2.31 -2.31zM347.57 486.79l2.31 2.31l-2.31 2.31l-2.31 -2.31zM349.25 479.85l2.31 2.31l-2.31 2.31l-2.31 -2.31zM352.28 493.64l2.31 2.31l-2.31 2.31l-2.31 -2.31zM354.67 483.21l2.31 2.31l-2.31 2.31l-2.31 -2.31zM356.7 498.27l2.31 2.31l-2.31 2.31l-2.31 -2.31zM360.69 490.36l2.31 2.31l-2.31 2.31l-2.31 -2.31zM361.27 495.4l2.31 2.31l-2.31 2.31l-2.31 -2.31zM361.3 507l2.31 2.31l-2.31 2.31l-2.31 -2.31zM362.2 502.13l2.31 2.31l-2.31 2.31l-2.31 -2.31zM362.25 484.53l2.31 2.31l-2.31 2.31l-2.31 -2.31zM362.46 489.48l2.31 2.31l-2.31 2.31l-2.31 -2.31zM366.23 484.88l2.31 2.31l-2.31 2.31l-2.31 -2.31zM367.82 492.43l2.31 2.31l-2.31 2.31l-2.31 -2.31zM369.35 514.04l2.31 2.31l-2.31 2.31l-2.31 -2.31zM369.61 493.7l2.31 2.31l-2.31 2.31l-2.31 -2.31zM370.14 500.55l2.31 2.31l-2.31 2.31l-2.31 -2.31zM371.64 499.5l2.31 2.31l-2.31 2.31l-2.31 -2.31zM371.68 499.38l2.31 2.31l-2.31 2.31l-2.31 -2.31zM371.95 498.34l2.31 2.31l-2.31 2.31l-2.31 -2.31zM372.82 499.06l2.31 2.31l-2.31 2.31l-2.31 -2.31zM373.16 485.05l2.31 2.31l-2.31 2.31l-2.31 -2.31zM374.98 490.68l2.31 2.31l-2.31 2.31l-2.31 -2.31zM376.55 497.96l2.31 2.31l-2.31 2.31l-2.31 -2.31zM377.59 496.09l2.31 2.31l-2.31 2.31l-2.31 -2.31zM378.09 486.21l2.31 2.31l-2.31 2.31l-2.31 -2.31zM380.99 490.13l2.31 2.31l-2.31 2.31l-2.31 -2.31zM382.94 491.81l2.31 2.31l-2.31 2.31l-2.31 -2.31zM383.45 500.77l2.31 2.31l-2.31 2.31l-2.31 -2.31zM384.73 493.13l2.31 2.31l-2.31 2.31l-2.31 -2.31zM384.76 498.37l2.31 2.31l-2.31 2.31l-2.31 -2.31zM385.96 504.26l2.31 2.31l-2.31 2.31l-2.31 -2.31zM386.1 484.45l2.31 2.31l-2.31 2.31l-2.31 -2.31zM386.74 491.41l2.31 2.31l-2.31 2.31l-2.31 -2.31zM387.96 491.23l2.31 2.31l-2.31 2.31l-2.31 -2.31zM388.21 493.6l2.31 2.31l-2.31 2.31l-2.31 -2.31zM389.12 482.16l2.31 2.31l-2.31 2.31l-2.31 -2.31zM390.43 473.56l2.31 2.31l-2.31 2.31l-2.31 -2.31zM391.13 483.13l2.31 2.31l-2.31 2.31l-2.31 -2.31zM394.5 480.51l2.31 2.31l-2.31 2.31l-2.31 -2.31zM394.92 493.41l2.31 2.31l-2.31 2.31l-2.31 -2.31zM395.14 482.06l2.31 2.31l-2.31 2.31l-2.31 -2.31zM395.76 483.91l2.31 2.31l-2.31 2.31l-2.31 -2.31zM397.44 474.67l2.31 2.31l-2.31 2.31l-2.31 -2.31zM399.87 485.79l2.31 2.31l-2.31 2.31l-2.31 -2.31zM400.5 494.7l2.31 2.31l-2.31 2.31l-2.31 -2.31zM400.97 488.39l2.31 2.31l-2.31 2.31l-2.31 -2.31zM401.95 491.22l2.31 2.31l-2.31 2.31l-2.31 -2.31zM402.47 478.96l2.31 2.31l-2.31 2.31l-2.31 -2.31zM406.44 486.3l2.31 2.31l-2.31 2.31l-2.31 -2.31zM407.94 489.87l2.31 2.31l-2.31 2.31l-2.31 -2.31zM408.01 491.22l2.31 2.31l-2.31 2.31l-2.31 -2.31zM408.17 488.44l2.31 2.31l-2.31 2.31l-2.31 -2.31zM408.6 497.66l2.31 2.31l-2.31 2.31l-2.31 -2.31zM408.69 500.45l2.31 2.31l-2.31 2.31l-2.31 -2.31zM411.21 507.56l2.31 2.31l-2.31 2.31l-2.31 -2.31zM412.49 486.68l2.31 2.31l-2.31 2.31l-2.31 -2.31zM413.47 491.54l2.31 2.31l-2.31 2.31l-2.31 -2.31zM415.07 492.21l2.31 2.31l-2.31 2.31l-2.31 -2.31zM415.47 497.52l2.31 2.31l-2.31 2.31l-2.31 -2.31zM416.75 486.64l2.31 2.31l-2.31 2.31l-2.31 -2.31zM417.21 503.54l2.31 2.31l-2.31 2.31l-2.31 -2.31zM418.42 488.82l2.31 2.31l-2.31 2.31l-2.31 -2.31zM418.72 503.31l2.31 2.31l-2.31 2.31l-2.31 -2.31zM419.12 500.56l2.31 2.31l-2.31 2.31l-2.31 -2.31zM419.45 507.85l2.31 2.31l-2.31 2.31l-2.31 -2.31zM423.02 500.83l2.31 2.31l-2.31 2.31l-2.31 -2.31zM426.79 504.71l2.31 2.31l-2.31 2.31l-2.31 -2.31zM427.71 500.16l2.31 2.31l-2.31 2.31l-2.31 -2.31zM428.51 507.65l2.31 2.31l-2.31 2.31l-2.31 -2.31zM430.26 513.95l2.31 2.31l-2.31 2.31l-2.31 -2.31zM431.06 502.28l2.31 2.31l-2.31 2.31l-2.31 -2.31zM431.8 498.31l2.31 2.31l-2.31 2.31l-2.31 -2.31zM434.04 502.52l2.31 2.31l-2.31 2.31l-2.31 -2.31zM434.24 510.03l2.31 2.31l-2.31 2.31l-2.31 -2.31zM434.49 508.38l2.31 2.31l-2.31 2.31l-2.31 -2.31zM434.54 523.05l2.31 2.31l-2.31 2.31l-2.31 -2.31zM436.43 512.83l2.31 2.31l-2.31 2.31l-2.31 -2.31zM439.23 503.01l2.31 2.31l-2.31 2.31l-2.31 -2.31zM441.77 506.98l2.31 2.31l-2.31 2.31l-2.31 -2.31zM441.86 514.42l2.31 2.31l-2.31 2.31l-2.31 -2.31zM442.02 503.43l2.31 2.31l-2.31 2.31l-2.31 -2.31zM442.39 510.37l2.31 2.31l-2.31 2.31l-2.31 -2.31z" fill="#3DB88A"/>
<g fill="none" stroke-width="4.7" stroke-linecap="butt" stroke-linejoin="round">
<path d="M109 464.2L112.38 473.48L115.75 476.41L119.13 477.71L122.5 478.46L125.88 478.98L129.26 479.41L132.63 479.79L136.01 480.16L139.38 480.52L142.76 480.88L146.14 481.23L149.51 481.59L152.89 481.94L156.26 482.29L159.64 482.64L163.02 482.99L166.39 483.34L169.77 483.69L173.14 484.04L176.52 484.39L179.9 484.74L183.27 485.08L186.65 485.43L190.02 485.78L193.4 486.12L196.78 486.47L200.15 486.81L203.53 487.15L206.9 487.5L210.28 487.84L213.66 488.18L217.03 488.52L220.41 488.86L223.78 489.2L227.16 489.54L230.54 489.88L233.91 490.22L237.29 490.56L240.66 490.9L244.04 491.23L247.42 491.57L250.79 491.9L254.17 492.24L257.54 492.57L260.92 492.91L264.3 493.24L267.67 493.57L271.05 493.91L274.42 494.24L277.8 494.57L281.18 494.9L284.55 495.23L287.93 495.56L291.3 495.89L294.68 496.22L298.06 496.55L301.43 496.87L304.81 497.2L308.18 497.53L311.56 497.85L314.94 498.18L318.31 498.5L321.69 498.83L325.06 499.15L328.44 499.47L331.82 499.79L335.19 500.12L338.57 500.44L341.94 500.76L345.32 501.08L348.7 501.4L352.07 501.72L355.45 502.04L358.82 502.36L362.2 502.67L365.58 502.99L368.95 503.31L372.33 503.62L375.7 503.94L379.08 504.25L382.46 504.57L385.83 504.88L389.21 505.2L392.58 505.51L395.96 505.82L399.34 506.13L402.71 506.44L406.09 506.76L409.46 507.07L412.84 507.38L416.22 507.69L419.59 507.99L422.97 508.3L426.34 508.61L429.72 508.92L433.1 509.22L436.47 509.53L439.85 509.84L443.22 510.14L446.6 510.45" stroke="#3DB88A"/>
<path d="M109 464.2L112.38 473.95L115.75 477.05L119.13 480.03L122.5 482.93L125.88 485.75L129.26 488.49L132.63 491.17L136.01 493.77L139.38 496.3L142.76 498.76L146.14 501.16L149.51 503.5L152.89 505.77L156.26 507.99L159.64 510.14L163.02 512.24L166.39 514.28L169.77 516.27L173.14 518.21L176.52 520.09L179.9 521.93L183.27 523.71L186.65 525.46L190.02 527.15L193.4 528.8L196.78 530.41L200.15 531.97L203.53 533.5L206.9 534.98L210.28 536.43L213.66 537.83L217.03 539.2L220.41 540.54L223.78 541.84L227.16 543.11L230.54 544.34L233.91 545.54L237.29 546.72L240.66 547.86L244.04 548.97L247.42 550.05L250.79 551.11L254.17 552.14L257.54 553.14L260.92 554.11L264.3 555.07L267.67 555.99L271.05 556.9L274.42 557.78L277.8 558.63L281.18 559.47L284.55 560.29L287.93 561.08L291.3 561.85L294.68 562.61L298.06 563.34L301.43 564.06L304.81 564.76L308.18 565.44L311.56 566.11L314.94 566.76L318.31 567.39L321.69 568L325.06 568.6L328.44 569.19L331.82 569.76L335.19 570.32L338.57 570.86L341.94 571.39L345.32 571.91L348.7 572.41L352.07 572.91L355.45 573.39L358.82 573.85L362.2 574.31L365.58 574.76L368.95 575.19L372.33 575.61L375.7 576.03L379.08 576.43L382.46 576.83L385.83 577.21L389.21 577.59L392.58 577.95L395.96 578.31L399.34 578.66L402.71 579L406.09 579.33L409.46 579.66L412.84 579.98L416.22 580.29L419.59 580.59L422.97 580.88L426.34 581.17L429.72 581.45L433.1 581.73L436.47 582L439.85 582.26L443.22 582.52L446.6 582.77" stroke="#3BB54A"/>
<path d="M109 464.2L112.38 481.93L115.75 486.26L119.13 490.18L122.5 493.82L125.88 497.21L129.26 500.37L132.63 503.34L136.01 506.14L139.38 508.77L142.76 511.27L146.14 513.63L149.51 515.89L152.89 518.04L156.26 520.1L159.64 522.07L163.02 523.97L166.39 525.8L169.77 527.57L173.14 529.28L176.52 530.94L179.9 532.55L183.27 534.12L186.65 535.65L190.02 537.14L193.4 538.59L196.78 540.01L200.15 541.41L203.53 542.77L206.9 544.11L210.28 545.43L213.66 546.72L217.03 547.99L220.41 549.24L223.78 550.47L227.16 551.68L230.54 552.88L233.91 554.06L237.29 555.23L240.66 556.38L244.04 557.51L247.42 558.64L250.79 559.75L254.17 560.84L257.54 561.93L260.92 563L264.3 564.07L267.67 565.12L271.05 566.17L274.42 567.2L277.8 568.22L281.18 569.24L284.55 570.24L287.93 571.24L291.3 572.23L294.68 573.21L298.06 574.18L301.43 575.15L304.81 576.1L308.18 577.05L311.56 577.99L314.94 578.93L318.31 579.86L321.69 580.78L325.06 581.69L328.44 582.6L331.82 583.5L335.19 584.4L338.57 585.28L341.94 586.17L345.32 587.04L348.7 587.91L352.07 588.78L355.45 589.64L358.82 590.49L362.2 591.34L365.58 592.18L368.95 593.02L372.33 593.85L375.7 594.67L379.08 595.49L382.46 596.31L385.83 597.12L389.21 597.92L392.58 598.72L395.96 599.52L399.34 600.31L402.71 601.09L406.09 601.87L409.46 602.65L412.84 603.42L416.22 604.19L419.59 604.95L422.97 605.71L426.34 606.46L429.72 607.21L433.1 607.95L436.47 608.69L439.85 609.42L443.22 610.15L446.6 610.88" stroke="#119B4C"/>
<path d="M109 464.2L112.38 471.89L115.75 476.07L119.13 479.82L122.5 483.21L125.88 486.3L129.26 489.11L132.63 491.69L136.01 494.05L139.38 496.22L142.76 498.24L146.14 500.11L149.51 501.85L152.89 503.48L156.26 505L159.64 506.44L163.02 507.81L166.39 509.1L169.77 510.33L173.14 511.5L176.52 512.63L179.9 513.71L183.27 514.75L186.65 515.75L190.02 516.72L193.4 517.66L196.78 518.58L200.15 519.47L203.53 520.34L206.9 521.19L210.28 522.02L213.66 522.83L217.03 523.63L220.41 524.42L223.78 525.19L227.16 525.95L230.54 526.7L233.91 527.44L237.29 528.17L240.66 528.89L244.04 529.6L247.42 530.3L250.79 531L254.17 531.69L257.54 532.37L260.92 533.05L264.3 533.72L267.67 534.38L271.05 535.04L274.42 535.7L277.8 536.35L281.18 536.99L284.55 537.63L287.93 538.27L291.3 538.9L294.68 539.52L298.06 540.15L301.43 540.77L304.81 541.38L308.18 542L311.56 542.6L314.94 543.21L318.31 543.81L321.69 544.41L325.06 545.01L328.44 545.6L331.82 546.19L335.19 546.78L338.57 547.36L341.94 547.94L345.32 548.52L348.7 549.09L352.07 549.67L355.45 550.24L358.82 550.81L362.2 551.37L365.58 551.93L368.95 552.49L372.33 553.05L375.7 553.61L379.08 554.16L382.46 554.71L385.83 555.26L389.21 555.81L392.58 556.35L395.96 556.89L399.34 557.43L402.71 557.97L406.09 558.51L409.46 559.04L412.84 559.57L416.22 560.1L419.59 560.63L422.97 561.15L426.34 561.67L429.72 562.19L433.1 562.71L436.47 563.23L439.85 563.74L443.22 564.26L446.6 564.77" stroke="#12A779"/>
<path d="M109 464.2L112.38 488.42L115.75 495.14L119.13 498.65L122.5 501.35L125.88 503.76L129.26 506.04L132.63 508.26L136.01 510.43L139.38 512.58L142.76 514.7L146.14 516.79L149.51 518.86L152.89 520.91L156.26 522.94L159.64 524.94L163.02 526.93L166.39 528.89L169.77 530.83L173.14 532.76L176.52 534.66L179.9 536.54L183.27 538.41L186.65 540.25L190.02 542.07L193.4 543.88L196.78 545.67L200.15 547.43L203.53 549.18L206.9 550.92L210.28 552.63L213.66 554.33L217.03 556L220.41 557.66L223.78 559.31L227.16 560.94L230.54 562.55L233.91 564.14L237.29 565.72L240.66 567.28L244.04 568.82L247.42 570.35L250.79 571.87L254.17 573.36L257.54 574.85L260.92 576.32L264.3 577.77L267.67 579.21L271.05 580.63L274.42 582.04L277.8 583.43L281.18 584.81L284.55 586.18L287.93 587.53L291.3 588.87L294.68 590.2L298.06 591.51L301.43 592.81L304.81 594.1L308.18 595.37L311.56 596.63L314.94 597.88L318.31 599.12L321.69 600.34L325.06 601.55L328.44 602.75L331.82 603.94L335.19 605.11L338.57 606.27L341.94 607.43L345.32 608.57L348.7 609.7L352.07 610.82L355.45 611.92L358.82 613.02L362.2 614.1L365.58 615.18L368.95 616.24L372.33 617.3L375.7 618.34L379.08 619.38L382.46 620.4L385.83 621.41L389.21 622.42L392.58 623.41L395.96 624.4L399.34 625.37L402.71 626.34L406.09 627.29L409.46 628.24L412.84 629.18L416.22 630.1L419.59 631.02L422.97 631.94L426.34 632.84L429.72 633.73L433.1 634.62L436.47 635.49L439.85 636.36L443.22 637.22L446.6 638.07" stroke="#0A7A3E"/>
</g>
<g font-family="'Liberation Sans', Arial, Helvetica, sans-serif">
<text x="278.2" y="784" text-anchor="middle" font-size="24.8" font-weight="bold" textLength="94.3" lengthAdjust="spacingAndGlyphs" stroke="#000" stroke-width="0.8" stroke-linejoin="round" fill="#000">Time (s)</text>
<text transform="translate(21.6 571) rotate(-90)" text-anchor="middle" font-size="24.8" font-weight="bold" textLength="203" lengthAdjust="spacingAndGlyphs" stroke="#000" stroke-width="0.8" stroke-linejoin="round" fill="#000">Normalised force</text>
</g>
<path d="M120.4 635.5H143.4" stroke="#0A7A3E" stroke-width="4.8" stroke-linecap="round" fill="none"/>
<circle cx="118.2" cy="669.6" r="2.4" fill="#0A7A3E"/>
<g font-family="'Liberation Sans', Arial, Helvetica, sans-serif"><text x="157.9" y="642.4" font-size="19.4" textLength="105.5" lengthAdjust="spacingAndGlyphs" stroke="#000" stroke-width="0.3" stroke-linejoin="round" fill="#000">2 term Prony</text><text x="145" y="676.7" font-size="19.4" textLength="77.86" lengthAdjust="spacingAndGlyphs" stroke="#000" stroke-width="0.3" stroke-linejoin="round" fill="#000">Raw data</text></g>
<g font-family="'Liberation Sans', Arial, Helvetica, sans-serif"><text x="-0.9" y="424.5" font-size="34.5" font-weight="bold" textLength="45.81" lengthAdjust="spacingAndGlyphs" stroke="#231F20" stroke-width="0.8" stroke-linejoin="round" fill="#231F20">(b)</text></g>
</g>
<g id="panel-c">
<path d="M674.5 130.55V616.9H1401.65" fill="none" stroke="#000" stroke-width="4.3" stroke-linejoin="miter"/>
<path d="M666.5 132.7H674.5M666.5 294.1H674.5M666.5 455.5H674.5M666.5 616.9H674.5M674.5 616.9V624.9M819.5 616.9V624.9M964.5 616.9V624.9M1109.5 616.9V624.9M1254.5 616.9V624.9M1399.5 616.9V624.9" fill="none" stroke="#000" stroke-width="4.3"/>
<g font-family="'Liberation Sans', Arial, Helvetica, sans-serif">
<text x="665.1" y="142.56" text-anchor="end" font-size="28" stroke="#000" stroke-width="0.4" stroke-linejoin="round" fill="#000">1.0</text>
<text x="665.1" y="303.96" text-anchor="end" font-size="28" stroke="#000" stroke-width="0.4" stroke-linejoin="round" fill="#000">0.8</text>
<text x="665.1" y="465.36" text-anchor="end" font-size="28" stroke="#000" stroke-width="0.4" stroke-linejoin="round" fill="#000">0.6</text>
<text x="665.1" y="626.76" text-anchor="end" font-size="28" stroke="#000" stroke-width="0.4" stroke-linejoin="round" fill="#000">0.4</text>
<text x="674.5" y="651.3" text-anchor="middle" font-size="28" stroke="#000" stroke-width="0.4" stroke-linejoin="round" fill="#000">0</text>
<text x="819.5" y="651.3" text-anchor="middle" font-size="28" stroke="#000" stroke-width="0.4" stroke-linejoin="round" fill="#000">2</text>
<text x="964.5" y="651.3" text-anchor="middle" font-size="28" stroke="#000" stroke-width="0.4" stroke-linejoin="round" fill="#000">4</text>
<text x="1109.5" y="651.3" text-anchor="middle" font-size="28" stroke="#000" stroke-width="0.4" stroke-linejoin="round" fill="#000">6</text>
<text x="1254.5" y="651.3" text-anchor="middle" font-size="28" stroke="#000" stroke-width="0.4" stroke-linejoin="round" fill="#000">8</text>
<text x="1399.5" y="651.3" text-anchor="middle" font-size="28" stroke="#000" stroke-width="0.4" stroke-linejoin="round" fill="#000">10</text>
</g>
<g font-family="'Liberation Sans', Arial, Helvetica, sans-serif">
<text x="1037.2" y="707" text-anchor="middle" font-size="28" font-weight="bold" textLength="102.2" lengthAdjust="spacingAndGlyphs" stroke="#000" stroke-width="0.8" stroke-linejoin="round" fill="#000">Time (s)</text>
<text transform="translate(582.9 368.6) rotate(-90)" text-anchor="middle" font-size="28" font-weight="bold" textLength="218.4" lengthAdjust="spacingAndGlyphs" stroke="#000" stroke-width="0.8" stroke-linejoin="round" fill="#000">Normalised force</text>
</g>
<clipPath id="clipc"><rect x="600" y="130.5" width="802.2" height="600"/></clipPath>
<g fill="none" stroke-width="8.4" stroke-linecap="round" stroke-linejoin="round" clip-path="url(#clipc)">
<path d="M675.6 132.7L690.1 219.05L704.59 228.71L719.09 236.89L733.58 244.61L748.08 251.93L762.58 258.9L777.07 265.54L791.57 271.89L806.06 277.98L820.56 283.83L835.06 289.46L849.55 294.9L864.05 300.15L878.54 305.24L893.04 310.18L907.54 314.98L922.03 319.65L936.53 324.19L951.02 328.63L965.52 332.95L980.02 337.18L994.51 341.32L1009.01 345.37L1023.5 349.34L1038 353.23L1052.5 357.05L1066.99 360.79L1081.49 364.47L1095.98 368.08L1110.48 371.63L1124.98 375.12L1139.47 378.55L1153.97 381.93L1168.46 385.26L1182.96 388.53L1197.46 391.75L1211.95 394.93L1226.45 398.05L1240.94 401.13L1255.44 404.17L1269.94 407.16L1284.43 410.11L1298.93 413.02L1313.42 415.89L1327.92 418.71L1342.42 421.5L1356.91 424.25L1371.41 426.97L1385.9 429.65L1400.4 432.29" stroke="#8B3A9E" stroke-dasharray="25.5 17 0.01 17 0.01 17" stroke-dashoffset="0"/>
<path d="M675.6 132.7L690.1 211.21L704.59 233.88L719.09 252.02L733.58 266.82L748.08 279.08L762.58 289.43L777.07 298.31L791.57 306.04L806.06 312.86L820.56 318.97L835.06 324.51L849.55 329.57L864.05 334.25L878.54 338.6L893.04 342.67L907.54 346.51L922.03 350.14L936.53 353.58L951.02 356.85L965.52 359.98L980.02 362.97L994.51 365.83L1009.01 368.57L1023.5 371.2L1038 373.73L1052.5 376.16L1066.99 378.5L1081.49 380.75L1095.98 382.91L1110.48 385L1124.98 387.01L1139.47 388.95L1153.97 390.83L1168.46 392.63L1182.96 394.37L1197.46 396.05L1211.95 397.68L1226.45 399.25L1240.94 400.76L1255.44 402.23L1269.94 403.64L1284.43 405.01L1298.93 406.33L1313.42 407.61L1327.92 408.85L1342.42 410.04L1356.91 411.2L1371.41 412.32L1385.9 413.41L1388.08 413.57" stroke="#3F5CAB" stroke-dasharray="25.5 17 0.01 17 0.01 17" stroke-dashoffset="-1.4"/>
<path d="M675.6 132.7L690.1 193.97L704.59 230.44L719.09 258.34L733.58 280.61L748.08 298.87L762.58 314.21L777.07 327.36L791.57 338.83L806.06 349L820.56 358.15L835.06 366.48L849.55 374.15L864.05 381.27L878.54 387.93L893.04 394.2L907.54 400.14L922.03 405.78L936.53 411.16L951.02 416.3L965.52 421.23L980.02 425.96L994.51 430.51L1009.01 434.88L1023.5 439.1L1038 443.17L1052.5 447.1L1066.99 450.89L1081.49 454.55L1095.98 458.09L1110.48 461.52L1124.98 464.83L1139.47 468.03L1153.97 471.13L1168.46 474.13L1182.96 477.04L1197.46 479.85L1211.95 482.57L1226.45 485.21L1240.94 487.77L1255.44 490.25L1269.94 492.65L1284.43 494.98L1298.93 497.24L1313.42 499.43L1327.92 501.55L1342.42 503.61L1356.91 505.61L1371.41 507.55L1385.9 509.43L1388.08 509.71" stroke="#057A3D" stroke-dasharray="25.5 17 0.01 17" stroke-dashoffset="-0.6"/>
<path d="M675.6 132.7L690.1 175.78L704.59 209.27L719.09 235.58L733.58 256.51L748.08 273.4L762.58 287.22L777.07 298.73L791.57 308.49L806.06 316.92L820.56 324.33L835.06 330.95L849.55 336.97L864.05 342.52L878.54 347.71L893.04 352.59L907.54 357.24L922.03 361.7L936.53 366L951.02 370.17L965.52 374.22L980.02 378.17L994.51 382.03L1009.01 385.81L1023.5 389.52L1038 393.16L1052.5 396.73L1066.99 400.25L1081.49 403.7L1095.98 407.1L1110.48 410.45L1124.98 413.75L1139.47 416.99L1153.97 420.19L1168.46 423.33L1182.96 426.43L1197.46 429.49L1211.95 432.5L1226.45 435.46L1240.94 438.39L1255.44 441.27L1269.94 444.1L1284.43 446.9L1298.93 449.66L1313.42 452.38L1327.92 455.06L1342.42 457.7L1356.91 460.31L1371.41 462.87L1385.9 465.41L1400.4 467.9L1414.9 470.36" stroke="#1FB24B" stroke-dasharray="25.5 17 0.01 17" stroke-dashoffset="-0.3"/>
<path d="M675.6 132.7L690.1 179.34L704.59 212.14L719.09 236.15L733.58 254.39L748.08 268.68L762.58 280.21L777.07 289.73L791.57 297.79L806.06 304.75L820.56 310.87L835.06 316.34L849.55 321.3L864.05 325.86L878.54 330.09L893.04 334.06L907.54 337.8L922.03 341.36L936.53 344.76L951.02 348.01L965.52 351.14L980.02 354.16L994.51 357.08L1009.01 359.91L1023.5 362.64L1038 365.3L1052.5 367.88L1066.99 370.38L1081.49 372.82L1095.98 375.19L1110.48 377.5L1124.98 379.74L1139.47 381.93L1153.97 384.05L1168.46 386.13L1182.96 388.15L1197.46 390.12L1211.95 392.04L1226.45 393.91L1240.94 395.73L1255.44 397.51L1269.94 399.25L1284.43 400.94L1298.93 402.59L1313.42 404.2L1327.92 405.78L1342.42 407.31L1356.91 408.81L1371.41 410.27L1385.9 411.7L1400.4 413.09" stroke="#969A3C" stroke-dasharray="0.01 17" stroke-dashoffset="-1.2"/>
<path d="M675.6 132.7L690.1 245.5L704.59 298.73L719.09 327.73L733.58 345.39L748.08 357.37L762.58 366.36L777.07 373.74L791.57 380.19L806.06 386.08L820.56 391.59L835.06 396.84L849.55 401.87L864.05 406.71L878.54 411.39L893.04 415.92L907.54 420.3L922.03 424.55L936.53 428.68L951.02 432.68L965.52 436.57L980.02 440.34L994.51 444.01L1009.01 447.58L1023.5 451.06L1038 454.44L1052.5 457.73L1066.99 460.93L1081.49 464.05L1095.98 467.1L1110.48 470.07L1124.98 472.97L1139.47 475.79L1153.97 478.55L1168.46 481.25L1182.96 483.89L1197.46 486.47L1211.95 488.99L1226.45 491.45L1240.94 493.87L1255.44 496.23L1269.94 498.54L1284.43 500.81L1298.93 503.03L1313.42 505.21L1327.92 507.35L1342.42 509.45L1356.91 511.51L1371.41 513.53L1385.9 515.51L1400.4 517.46L1414.9 519.37" stroke="#F7931E" stroke-dasharray="25.5 17" stroke-dashoffset="-0.4"/>
<path d="M675.6 130.3L675.6 132.7L690.1 296.44L704.59 339.08L719.09 361.25L733.58 375.56L748.08 386.23L762.58 394.99L777.07 402.67L791.57 409.68L806.06 416.24L820.56 422.45L835.06 428.39L849.55 434.09L864.05 439.58L878.54 444.88L893.04 449.99L907.54 454.93L922.03 459.71L936.53 464.34L951.02 468.82L965.52 473.17L980.02 477.38L994.51 481.47L1009.01 485.45L1023.5 489.31L1038 493.06L1052.5 496.71L1066.99 500.27L1081.49 503.73L1095.98 507.11L1110.48 510.41L1124.98 513.62L1139.47 516.76L1153.97 519.82L1168.46 522.82L1182.96 525.75L1197.46 528.62L1211.95 531.43L1226.45 534.18L1240.94 536.88L1255.44 539.52L1269.94 542.11L1284.43 544.66L1298.93 547.16L1313.42 549.62L1327.92 552.03L1342.42 554.4L1356.91 556.74L1371.41 559.03L1385.9 561.29L1400.4 563.52L1414.9 565.71" stroke="#EC3F98" stroke-linecap="butt"/>
</g>
<g font-family="'Liberation Sans', Arial, Helvetica, sans-serif">
<path d="M1452.9 250H1496.9" stroke="#EC3F98" stroke-width="8.4" stroke-linecap="round" fill="none"/>
<text x="1507.4" y="257" font-size="22.2" textLength="62.3" lengthAdjust="spacingAndGlyphs" stroke="#000" stroke-width="0.35" stroke-linejoin="round" fill="#000">Mouse</text>
<path d="M1452.9 282.6H1478.9M1496 282.6h0.01" stroke="#F7931E" stroke-width="8.4" stroke-linecap="round" fill="none"/>
<text x="1507.4" y="289.6" font-size="22.2" textLength="32.3" lengthAdjust="spacingAndGlyphs" stroke="#000" stroke-width="0.35" stroke-linejoin="round" fill="#000">Rat</text>
<path d="M1452.9 315H1492.9" stroke="#969A3C" stroke-width="8.4" stroke-linecap="round" stroke-dasharray="0.01 17.05" fill="none"/>
<text x="1507.4" y="322" font-size="22.2" textLength="60" lengthAdjust="spacingAndGlyphs" stroke="#000" stroke-width="0.35" stroke-linejoin="round" fill="#000">Rabbit</text>
<path d="M1452.9 347.6H1478.9M1496 347.6h0.01" stroke="#1FB24B" stroke-width="8.4" stroke-linecap="round" fill="none"/>
<text x="1507.4" y="354.6" font-size="22.2" textLength="98.03" lengthAdjust="spacingAndGlyphs" stroke="#000" stroke-width="0.35" stroke-linejoin="round" fill="#000">Pig (small)</text>
<path d="M1452.9 379.1H1478.9M1496 379.1h0.01" stroke="#057A3D" stroke-width="8.4" stroke-linecap="round" fill="none"/>
<text x="1507.4" y="386.1" font-size="22.2" textLength="95.75" lengthAdjust="spacingAndGlyphs" stroke="#000" stroke-width="0.35" stroke-linejoin="round" fill="#000">Pig (large)</text>
<path d="M1452.9 410.6H1478.9M1496 410.6h0.01" stroke="#3F5CAB" stroke-width="8.4" stroke-linecap="round" fill="none"/>
<text x="1507.4" y="417.6" font-size="22.2" textLength="66.91" lengthAdjust="spacingAndGlyphs" stroke="#000" stroke-width="0.35" stroke-linejoin="round" fill="#000">Human</text>
<path d="M1452.9 442.2H1478.9M1496 442.2h0.01" stroke="#8B3A9E" stroke-width="8.4" stroke-linecap="round" fill="none"/>
<text x="1507.4" y="449.2" font-size="22.2" textLength="145.34" lengthAdjust="spacingAndGlyphs" stroke="#000" stroke-width="0.35" stroke-linejoin="round" fill="#000">Human (<tspan font-style="italic">in vivo</tspan>)</text>
</g>
<g font-family="'Liberation Sans', Arial, Helvetica, sans-serif"><text x="545.3" y="26.2" font-size="34.5" font-weight="bold" textLength="43.85" lengthAdjust="spacingAndGlyphs" stroke="#231F20" stroke-width="0.8" stroke-linejoin="round" fill="#231F20">(c)</text></g>
</g>
<g id="panel-d">
<defs>
<pattern id="dp-mouse" width="4.12" height="4.12" patternUnits="userSpaceOnUse"><rect width="4.12" height="4.12" fill="#F9B9D8" fill-opacity="0.16"/><rect x="0.4" y="0.4" width="1.3" height="1.3" fill="#B93172"/><rect x="2.46" y="2.46" width="1.3" height="1.3" fill="#B93172"/></pattern>
<pattern id="dp-rat" width="4.12" height="4.12" patternUnits="userSpaceOnUse"><rect width="4.12" height="4.12" fill="#FCD3A0" fill-opacity="0.16"/><rect x="0.4" y="0.4" width="1.3" height="1.3" fill="#CE7D24"/><rect x="2.46" y="2.46" width="1.3" height="1.3" fill="#CE7D24"/></pattern>
<pattern id="dp-rabbit" width="4.12" height="4.12" patternUnits="userSpaceOnUse"><rect width="4.12" height="4.12" fill="#D6D8A2" fill-opacity="0.12"/><rect x="0.4" y="0.4" width="1.3" height="1.3" fill="#6C6E2B"/><rect x="2.46" y="2.46" width="1.3" height="1.3" fill="#6C6E2B"/></pattern>
<pattern id="dp-pigs" width="4.12" height="4.12" patternUnits="userSpaceOnUse"><rect width="4.12" height="4.12" fill="#9CD8B5" fill-opacity="0.14"/><rect x="0.4" y="0.4" width="1.3" height="1.3" fill="#127B40"/><rect x="2.46" y="2.46" width="1.3" height="1.3" fill="#127B40"/></pattern>
<pattern id="dp-pigl" width="4.12" height="4.12" patternUnits="userSpaceOnUse"><rect width="4.12" height="4.12" fill="#B0BFE4" fill-opacity="0.09"/><rect x="0.4" y="0.4" width="1.3" height="1.3" fill="#2B3F74"/><rect x="2.46" y="2.46" width="1.3" height="1.3" fill="#2B3F74"/></pattern>
<pattern id="dp-human" width="4.12" height="4.12" patternUnits="userSpaceOnUse"><rect width="4.12" height="4.12" fill="#AEB3DA" fill-opacity="0.07"/><rect x="0.4" y="0.4" width="1.3" height="1.3" fill="#1A2052"/><rect x="2.46" y="2.46" width="1.3" height="1.3" fill="#1A2052"/></pattern>
<pattern id="dp-invivo" width="4.12" height="4.12" patternUnits="userSpaceOnUse"><rect width="4.12" height="4.12" fill="#D5B3E0" fill-opacity="0.12"/><rect x="0.4" y="0.4" width="1.3" height="1.3" fill="#692C78"/><rect x="2.46" y="2.46" width="1.3" height="1.3" fill="#692C78"/></pattern>
</defs>
<g id="d-mouse">
<clipPath id="cd-mouse"><rect x="75" y="879.9" width="313.2" height="204.4"/></clipPath>
<path d="M77 883.9L77.06 884.27L77.19 885.17L77.4 886.52L77.67 888.23L78 890.27L78.39 892.58L78.84 895.12L79.34 897.84L79.89 900.7L80.49 903.65L81.14 906.67L81.85 909.72L82.6 912.77L83.4 915.79L84.24 918.75L85.13 921.65L86.07 924.46L87.05 927.17L88.08 929.78L89.15 932.27L90.27 934.65L91.43 936.91L92.63 939.06L93.88 941.09L95.16 943.02L96.49 944.84L97.86 946.57L99.27 948.2L100.72 949.75L102.22 951.23L103.75 952.64L105.32 953.98L106.94 955.27L108.59 956.51L110.28 957.71L112.01 958.87L113.78 960L115.59 961.1L117.44 962.17L119.32 963.23L121.25 964.26L123.21 965.29L125.21 966.3L127.24 967.3L129.32 968.29L131.43 969.28L133.58 970.26L135.76 971.24L137.99 972.22L140.24 973.19L142.54 974.16L144.87 975.12L147.24 976.09L149.64 977.06L152.08 978.02L154.55 978.98L157.07 979.95L159.61 980.91L162.19 981.87L164.81 982.83L167.46 983.79L170.15 984.75L172.87 985.71L175.63 986.66L178.42 987.62L181.24 988.57L184.1 989.52L187 990.47L189.93 991.41L192.89 992.36L195.89 993.3L198.92 994.24L201.98 995.18L205.08 996.11L208.21 997.04L211.38 997.97L214.58 998.89L217.81 999.81L221.08 1000.72L224.38 1001.63L227.71 1002.54L231.08 1003.44L234.47 1004.34L237.91 1005.23L241.37 1006.12L244.87 1007.01L248.4 1007.88L251.96 1008.76L255.56 1009.62L259.18 1010.49L262.84 1011.34L266.53 1012.19L270.26 1013.04L274.02 1013.88L277.8 1014.71L281.62 1015.53L285.48 1016.36L289.36 1017.17L293.28 1017.98L297.23 1018.78L301.21 1019.57L305.22 1020.36L309.26 1021.14L313.34 1021.92L317.44 1022.68L321.58 1023.44L325.75 1024.2L329.95 1024.95L334.18 1025.69L338.44 1026.42L342.74 1027.14L347.06 1027.86L351.42 1028.58L355.8 1029.28L360.22 1029.98L364.67 1030.67L369.15 1031.35L373.66 1032.03L378.2 1032.7L378.2 1062.74L345.07 1087.58L341.03 1087.41L337.01 1087.13L333.03 1086.75L329.07 1086.29L325.14 1085.77L321.23 1085.22L317.35 1084.64L313.51 1083.9L309.68 1082.98L305.89 1081.97L302.12 1080.93L298.39 1079.95L294.68 1079.04L290.99 1078.13L287.34 1077.24L283.71 1076.35L280.11 1075.46L276.54 1074.59L273 1073.71L269.49 1072.84L266 1071.97L262.55 1071.11L259.12 1070.24L255.72 1069.37L252.34 1068.51L249 1067.64L245.69 1066.77L242.4 1065.91L239.14 1065.04L235.91 1064.18L232.71 1063.32L229.54 1062.46L226.4 1061.6L223.29 1060.75L220.21 1059.9L217.15 1059.05L214.13 1058.21L211.13 1057.37L208.17 1056.54L205.23 1055.71L202.32 1054.88L199.45 1054.06L196.6 1053.25L193.78 1052.44L190.99 1051.65L188.24 1050.86L185.51 1050.07L182.81 1049.29L180.14 1048.52L177.51 1047.75L174.9 1046.99L172.32 1046.23L169.78 1045.47L167.26 1044.72L164.78 1043.97L162.32 1043.22L159.9 1042.47L157.51 1041.73L155.15 1040.99L152.82 1040.24L150.52 1039.5L148.26 1038.77L146.02 1038.03L143.82 1037.3L141.65 1036.57L139.51 1035.85L137.4 1035.12L135.33 1034.39L133.29 1033.67L131.28 1032.94L129.3 1032.21L127.35 1031.48L125.44 1030.74L123.56 1030.01L121.72 1029.28L119.9 1028.56L118.13 1027.85L116.38 1027.13L114.67 1026.41L112.99 1025.69L111.35 1024.96L109.74 1024.22L108.16 1023.48L106.62 1022.72L105.11 1021.95L103.64 1021.18L102.21 1020.41L100.81 1019.64L99.44 1018.84L98.11 1018.01L96.82 1017.14L95.57 1016.21L94.35 1015.22L93.16 1014.21L92.02 1013.15L90.91 1011.96L89.84 1010.6L88.81 1009.03L87.82 1007.18L86.86 1004.55L85.95 1001.18L85.07 997.23L84.24 992.76L83.45 986.85L82.69 979.79L81.98 972.14L81.31 963.98L80.69 955.25L80.11 946.22L79.57 937.11L79.08 928.15L78.63 919.54L78.24 911.47L77.89 904.11L77.6 897.62L77.36 892.17L77.17 887.92L77.05 885.06L77 883.9Z" fill="url(#dp-mouse)" stroke="#E83E8F" stroke-width="0.6" stroke-opacity="0.75" stroke-linejoin="round" clip-path="url(#cd-mouse)"/>
<path d="M77 882.75V1084.9H379.35" fill="none" stroke="#000" stroke-width="2.3" stroke-linejoin="miter"/>
<path d="M71 883.9H77M71 950.9H77M71 1017.9H77M71 1084.9H77M77 1084.9V1090.9M137.24 1084.9V1090.9M197.48 1084.9V1090.9M257.72 1084.9V1090.9M317.96 1084.9V1090.9M378.2 1084.9V1090.9" fill="none" stroke="#000" stroke-width="2.3"/>
<g font-family="'Liberation Sans', Arial, Helvetica, sans-serif">
<text x="69.4" y="891.64" text-anchor="end" font-size="22" stroke="#000" stroke-width="0.4" stroke-linejoin="round" fill="#000">1.0</text>
<text x="69.4" y="958.64" text-anchor="end" font-size="22" stroke="#000" stroke-width="0.4" stroke-linejoin="round" fill="#000">0.8</text>
<text x="69.4" y="1025.64" text-anchor="end" font-size="22" stroke="#000" stroke-width="0.4" stroke-linejoin="round" fill="#000">0.6</text>
<text x="69.4" y="1092.64" text-anchor="end" font-size="22" stroke="#000" stroke-width="0.4" stroke-linejoin="round" fill="#000">0.4</text>
<text x="77" y="1112.9" text-anchor="middle" font-size="22" stroke="#000" stroke-width="0.4" stroke-linejoin="round" fill="#000">0</text>
<text x="137.24" y="1112.9" text-anchor="middle" font-size="22" stroke="#000" stroke-width="0.4" stroke-linejoin="round" fill="#000">2</text>
<text x="197.48" y="1112.9" text-anchor="middle" font-size="22" stroke="#000" stroke-width="0.4" stroke-linejoin="round" fill="#000">4</text>
<text x="257.72" y="1112.9" text-anchor="middle" font-size="22" stroke="#000" stroke-width="0.4" stroke-linejoin="round" fill="#000">6</text>
<text x="317.96" y="1112.9" text-anchor="middle" font-size="22" stroke="#000" stroke-width="0.4" stroke-linejoin="round" fill="#000">8</text>
<text x="378.2" y="1112.9" text-anchor="middle" font-size="22" stroke="#000" stroke-width="0.4" stroke-linejoin="round" fill="#000">10</text>
</g>
<path d="M77 883.9L78.51 920.76L80.01 934.89L81.52 944.5L83.02 951.87L84.53 957.7L86.04 962.42L87.54 966.31L89.05 969.57L90.55 972.36L92.06 974.77L93.57 976.89L95.07 978.77L96.58 980.47L98.08 982.01L99.59 983.42L101.1 984.72L102.6 985.93L104.11 987.06L105.61 988.13L107.12 989.14L108.63 990.11L110.13 991.04L111.64 991.92L113.14 992.78L114.65 993.61L116.16 994.42L117.66 995.2L119.17 995.97L120.67 996.72L122.18 997.45L123.69 998.17L125.19 998.88L126.7 999.58L128.2 1000.26L129.71 1000.94L131.22 1001.6L132.72 1002.26L134.23 1002.91L135.73 1003.55L137.24 1004.18L138.75 1004.81L140.25 1005.43L141.76 1006.04L143.26 1006.65L144.77 1007.25L146.28 1007.84L147.78 1008.43L149.29 1009.01L150.79 1009.59L152.3 1010.16L153.81 1010.73L155.31 1011.29L156.82 1011.85L158.32 1012.4L159.83 1012.95L161.34 1013.49L162.84 1014.03L164.35 1014.56L165.85 1015.09L167.36 1015.61L168.87 1016.13L170.37 1016.65L171.88 1017.16L173.38 1017.66L174.89 1018.17L176.4 1018.66L177.9 1019.16L179.41 1019.65L180.91 1020.13L182.42 1020.62L183.93 1021.09L185.43 1021.57L186.94 1022.04L188.44 1022.51L189.95 1022.97L191.46 1023.43L192.96 1023.89L194.47 1024.34L195.97 1024.79L197.48 1025.23L198.99 1025.68L200.49 1026.12L202 1026.55L203.5 1026.98L205.01 1027.41L206.52 1027.84L208.02 1028.26L209.53 1028.68L211.03 1029.1L212.54 1029.51L214.05 1029.92L215.55 1030.33L217.06 1030.74L218.56 1031.14L220.07 1031.54L221.58 1031.93L223.08 1032.33L224.59 1032.72L226.09 1033.11L227.6 1033.49L229.11 1033.88L230.61 1034.26L232.12 1034.63L233.62 1035.01L235.13 1035.38L236.64 1035.75L238.14 1036.12L239.65 1036.48L241.15 1036.85L242.66 1037.21L244.17 1037.57L245.67 1037.92L247.18 1038.28L248.68 1038.63L250.19 1038.98L251.7 1039.32L253.2 1039.67L254.71 1040.01L256.21 1040.35L257.72 1040.69L259.23 1041.03L260.73 1041.36L262.24 1041.7L263.74 1042.03L265.25 1042.35L266.76 1042.68L268.26 1043.01L269.77 1043.33L271.27 1043.65L272.78 1043.97L274.29 1044.29L275.79 1044.6L277.3 1044.92L278.8 1045.23L280.31 1045.54L281.82 1045.85L283.32 1046.15L284.83 1046.46L286.33 1046.76L287.84 1047.06L289.35 1047.36L290.85 1047.66L292.36 1047.96L293.86 1048.25L295.37 1048.55L296.88 1048.84L298.38 1049.13L299.89 1049.42L301.39 1049.71L302.9 1049.99L304.41 1050.28L305.91 1050.56L307.42 1050.84L308.92 1051.12L310.43 1051.4L311.94 1051.68L313.44 1051.96L314.95 1052.23L316.45 1052.51L317.96 1052.78L319.47 1053.05L320.97 1053.32L322.48 1053.59L323.98 1053.86L325.49 1054.12L327 1054.39L328.5 1054.65L330.01 1054.91L331.51 1055.17L333.02 1055.43L334.53 1055.69L336.03 1055.95L337.54 1056.21L339.04 1056.46L340.55 1056.72L342.06 1056.97L343.56 1057.22L345.07 1057.47L346.57 1057.72L348.08 1057.97L349.59 1058.22L351.09 1058.47L352.6 1058.71L354.1 1058.96L355.61 1059.2L357.12 1059.44L358.62 1059.68L360.13 1059.92L361.63 1060.16L363.14 1060.4L364.65 1060.64L366.15 1060.88L367.66 1061.11L369.16 1061.35L370.67 1061.58L372.18 1061.82L373.68 1062.05L375.19 1062.28L376.69 1062.51L378.2 1062.74" fill="none" stroke="#E83E8F" stroke-width="3.4" stroke-linecap="round" stroke-linejoin="round"/>
<g font-family="'Liberation Sans', Arial, Helvetica, sans-serif">
<text x="228" y="1146.5" text-anchor="middle" font-size="22.8" font-weight="bold" textLength="83" lengthAdjust="spacingAndGlyphs" stroke="#000" stroke-width="0.7" stroke-linejoin="round" fill="#000">Time (s)</text>
<text transform="translate(15.8 982.1) rotate(-90)" text-anchor="middle" font-size="22.4" font-weight="bold" textLength="178.6" lengthAdjust="spacingAndGlyphs" stroke="#000" stroke-width="0.7" stroke-linejoin="round" fill="#000">Normalised force</text>
</g>
</g>
<g id="d-rat">
<clipPath id="cd-rat"><rect x="489.3" y="880.8" width="313.4" height="204.2"/></clipPath>
<path d="M491.3 884.8L491.35 885.05L491.49 885.65L491.7 886.56L491.97 887.71L492.29 889.09L492.68 890.67L493.12 892.41L493.62 894.28L494.17 896.27L494.76 898.34L495.41 900.48L496.11 902.66L496.86 904.87L497.65 907.08L498.49 909.27L499.37 911.45L500.3 913.59L501.28 915.69L502.3 917.73L503.36 919.72L504.47 921.64L505.62 923.49L506.82 925.28L508.05 927L509.33 928.66L510.65 930.24L512.01 931.76L513.41 933.22L514.85 934.61L516.33 935.95L517.85 937.23L519.42 938.46L521.02 939.65L522.66 940.78L524.34 941.88L526.05 942.94L527.81 943.96L529.61 944.95L531.44 945.91L533.31 946.84L535.22 947.75L537.17 948.63L539.15 949.49L541.18 950.34L543.23 951.16L545.33 951.98L547.46 952.77L549.63 953.56L551.84 954.34L554.08 955.1L556.36 955.86L558.67 956.61L561.02 957.36L563.41 958.1L565.83 958.83L568.29 959.56L570.78 960.29L573.31 961.02L575.87 961.75L578.47 962.47L581.1 963.2L583.76 963.92L586.47 964.65L589.2 965.37L591.97 966.1L594.78 966.83L597.62 967.56L600.49 968.29L603.4 969.03L606.34 969.76L609.31 970.5L612.32 971.24L615.37 971.99L618.44 972.74L621.55 973.49L624.69 974.24L627.87 975L631.08 975.76L634.32 976.52L637.6 977.28L640.9 978.05L644.25 978.82L647.62 979.59L651.03 980.37L654.46 981.15L657.94 981.93L661.44 982.71L664.98 983.5L668.54 984.28L672.15 985.07L675.78 985.87L679.44 986.66L683.14 987.46L686.87 988.25L690.63 989.05L694.42 989.86L698.25 990.66L702.1 991.46L705.99 992.27L709.91 993.08L713.86 993.88L717.84 994.69L721.86 995.5L725.9 996.31L729.98 997.12L734.08 997.94L738.22 998.75L742.39 999.56L746.59 1000.38L750.82 1001.19L755.09 1002L759.38 1002.82L763.7 1003.63L768.06 1004.44L772.44 1005.26L776.86 1006.07L781.3 1006.88L785.78 1007.7L790.29 1008.51L790.29 1079.14L785.78 1078.38L781.3 1077.62L776.86 1076.87L772.44 1076.12L768.06 1075.37L763.7 1074.63L759.38 1073.88L755.09 1073.14L750.82 1072.41L746.59 1071.69L742.39 1070.97L738.22 1070.26L734.08 1069.55L729.98 1068.83L725.9 1068.12L721.86 1067.41L717.84 1066.69L713.86 1065.97L709.91 1065.25L705.99 1064.52L702.1 1063.78L698.25 1063.05L694.42 1062.31L690.63 1061.57L686.87 1060.83L683.14 1060.09L679.44 1059.35L675.78 1058.61L672.15 1057.87L668.54 1057.13L664.98 1056.39L661.44 1055.65L657.94 1054.91L654.46 1054.17L651.03 1053.44L647.62 1052.71L644.25 1051.98L640.9 1051.25L637.6 1050.53L634.32 1049.8L631.08 1049.07L627.87 1048.35L624.69 1047.62L621.55 1046.89L618.44 1046.16L615.37 1045.42L612.32 1044.69L609.31 1043.95L606.34 1043.21L603.4 1042.47L600.49 1041.74L597.62 1041.01L594.78 1040.28L591.97 1039.54L589.2 1038.81L586.47 1038.08L583.76 1037.35L581.1 1036.62L578.47 1035.89L575.87 1035.16L573.31 1034.43L570.78 1033.7L568.29 1032.97L565.83 1032.24L563.41 1031.5L561.02 1030.77L558.67 1030.04L556.36 1029.3L554.08 1028.55L551.84 1027.79L549.63 1027.03L547.46 1026.26L545.33 1025.5L543.23 1024.74L541.18 1023.99L539.15 1023.24L537.17 1022.51L535.22 1021.78L533.31 1021.08L531.44 1020.4L529.61 1019.73L527.81 1019.07L526.05 1018.39L524.34 1017.69L522.66 1016.95L521.02 1016.18L519.42 1015.43L517.85 1014.68L516.33 1013.9L514.85 1013.07L513.41 1012.18L512.01 1011.22L510.65 1010.16L509.33 1009.01L508.05 1007.76L506.82 1006.33L505.62 1004.67L504.47 1002.72L503.36 1000.45L502.3 997.83L501.28 994.51L500.3 989.12L499.37 982.16L498.49 974.28L497.65 964.45L496.86 951.16L496.11 938.62L495.41 929.21L494.76 921.04L494.17 913.8L493.62 907.47L493.12 902.03L492.68 897.43L492.29 893.61L491.97 890.53L491.7 888.13L491.49 886.37L491.35 885.25L491.3 884.8Z" fill="url(#dp-rat)" stroke="#F0922B" stroke-width="0.6" stroke-opacity="0.75" stroke-linejoin="round" clip-path="url(#cd-rat)"/>
<path d="M491.3 883.65V1085.6H793.85" fill="none" stroke="#000" stroke-width="2.3" stroke-linejoin="miter"/>
<path d="M485.3 884.8H491.3M485.3 951.73H491.3M485.3 1018.67H491.3M485.3 1085.6H491.3M491.3 1085.6V1091.6M551.58 1085.6V1091.6M611.86 1085.6V1091.6M672.14 1085.6V1091.6M732.42 1085.6V1091.6M792.7 1085.6V1091.6" fill="none" stroke="#000" stroke-width="2.3"/>
<g font-family="'Liberation Sans', Arial, Helvetica, sans-serif">
<text x="483.7" y="892.54" text-anchor="end" font-size="22" stroke="#000" stroke-width="0.4" stroke-linejoin="round" fill="#000">1.0</text>
<text x="483.7" y="959.48" text-anchor="end" font-size="22" stroke="#000" stroke-width="0.4" stroke-linejoin="round" fill="#000">0.8</text>
<text x="483.7" y="1026.41" text-anchor="end" font-size="22" stroke="#000" stroke-width="0.4" stroke-linejoin="round" fill="#000">0.6</text>
<text x="483.7" y="1093.34" text-anchor="end" font-size="22" stroke="#000" stroke-width="0.4" stroke-linejoin="round" fill="#000">0.4</text>
<text x="491.3" y="1113.6" text-anchor="middle" font-size="22" stroke="#000" stroke-width="0.4" stroke-linejoin="round" fill="#000">0</text>
<text x="551.58" y="1113.6" text-anchor="middle" font-size="22" stroke="#000" stroke-width="0.4" stroke-linejoin="round" fill="#000">2</text>
<text x="611.86" y="1113.6" text-anchor="middle" font-size="22" stroke="#000" stroke-width="0.4" stroke-linejoin="round" fill="#000">4</text>
<text x="672.14" y="1113.6" text-anchor="middle" font-size="22" stroke="#000" stroke-width="0.4" stroke-linejoin="round" fill="#000">6</text>
<text x="732.42" y="1113.6" text-anchor="middle" font-size="22" stroke="#000" stroke-width="0.4" stroke-linejoin="round" fill="#000">8</text>
<text x="792.7" y="1113.6" text-anchor="middle" font-size="22" stroke="#000" stroke-width="0.4" stroke-linejoin="round" fill="#000">10</text>
</g>
<path d="M491.3 884.8L492.81 900.44L494.31 912.98L495.82 923.18L497.33 931.58L498.84 938.56L500.34 944.43L501.85 949.4L503.36 953.65L504.86 957.31L506.37 960.48L507.88 963.25L509.38 965.68L510.89 967.83L512.4 969.74L513.9 971.46L515.41 973.01L516.92 974.41L518.43 975.69L519.93 976.88L521.44 977.97L522.95 978.99L524.45 979.95L525.96 980.85L527.47 981.7L528.98 982.51L530.48 983.29L531.99 984.04L533.5 984.76L535 985.46L536.51 986.13L538.02 986.79L539.52 987.43L541.03 988.06L542.54 988.68L544.05 989.28L545.55 989.88L547.06 990.46L548.57 991.04L550.07 991.6L551.58 992.16L553.09 992.72L554.59 993.26L556.1 993.8L557.61 994.34L559.12 994.87L560.62 995.39L562.13 995.91L563.64 996.42L565.14 996.93L566.65 997.44L568.16 997.94L569.66 998.43L571.17 998.92L572.68 999.41L574.19 999.9L575.69 1000.37L577.2 1000.85L578.71 1001.32L580.21 1001.79L581.72 1002.25L583.23 1002.71L584.73 1003.17L586.24 1003.62L587.75 1004.07L589.25 1004.52L590.76 1004.96L592.27 1005.4L593.78 1005.83L595.28 1006.27L596.79 1006.69L598.3 1007.12L599.8 1007.54L601.31 1007.96L602.82 1008.38L604.33 1008.79L605.83 1009.2L607.34 1009.61L608.85 1010.02L610.35 1010.42L611.86 1010.82L613.37 1011.21L614.87 1011.6L616.38 1011.99L617.89 1012.38L619.39 1012.77L620.9 1013.15L622.41 1013.53L623.92 1013.9L625.42 1014.28L626.93 1014.65L628.44 1015.02L629.94 1015.38L631.45 1015.75L632.96 1016.11L634.47 1016.47L635.97 1016.82L637.48 1017.18L638.99 1017.53L640.49 1017.88L642 1018.23L643.51 1018.57L645.01 1018.91L646.52 1019.25L648.03 1019.59L649.54 1019.93L651.04 1020.26L652.55 1020.59L654.06 1020.92L655.56 1021.25L657.07 1021.57L658.58 1021.89L660.08 1022.21L661.59 1022.53L663.1 1022.85L664.61 1023.16L666.11 1023.48L667.62 1023.79L669.13 1024.1L670.63 1024.4L672.14 1024.71L673.65 1025.01L675.15 1025.31L676.66 1025.61L678.17 1025.91L679.68 1026.21L681.18 1026.5L682.69 1026.79L684.2 1027.08L685.7 1027.37L687.21 1027.66L688.72 1027.94L690.22 1028.23L691.73 1028.51L693.24 1028.79L694.75 1029.07L696.25 1029.35L697.76 1029.62L699.27 1029.9L700.77 1030.17L702.28 1030.44L703.79 1030.71L705.29 1030.98L706.8 1031.24L708.31 1031.51L709.82 1031.77L711.32 1032.03L712.83 1032.29L714.34 1032.55L715.84 1032.81L717.35 1033.07L718.86 1033.32L720.36 1033.58L721.87 1033.83L723.38 1034.08L724.88 1034.33L726.39 1034.58L727.9 1034.82L729.41 1035.07L730.91 1035.31L732.42 1035.56L733.93 1035.8L735.43 1036.04L736.94 1036.28L738.45 1036.52L739.96 1036.75L741.46 1036.99L742.97 1037.22L744.48 1037.46L745.98 1037.69L747.49 1037.92L749 1038.15L750.5 1038.38L752.01 1038.61L753.52 1038.83L755.03 1039.06L756.53 1039.28L758.04 1039.51L759.55 1039.73L761.05 1039.95L762.56 1040.17L764.07 1040.39L765.57 1040.61L767.08 1040.82L768.59 1041.04L770.1 1041.25L771.6 1041.47L773.11 1041.68L774.62 1041.89L776.12 1042.1L777.63 1042.31L779.14 1042.52L780.64 1042.73L782.15 1042.94L783.66 1043.14L785.17 1043.35L786.67 1043.55L788.18 1043.76L789.69 1043.96L790.29 1044.04" fill="none" stroke="#F0922B" stroke-width="3.4" stroke-linecap="round" stroke-linejoin="round"/>
<g font-family="'Liberation Sans', Arial, Helvetica, sans-serif">
<text x="642.1" y="1144.7" text-anchor="middle" font-size="22.8" font-weight="bold" textLength="83" lengthAdjust="spacingAndGlyphs" stroke="#000" stroke-width="0.7" stroke-linejoin="round" fill="#000">Time (s)</text>
<text transform="translate(430 980) rotate(-90)" text-anchor="middle" font-size="22.4" font-weight="bold" textLength="178.6" lengthAdjust="spacingAndGlyphs" stroke="#000" stroke-width="0.7" stroke-linejoin="round" fill="#000">Normalised force</text>
</g>
<path d="M715.5 887.8H736.4" stroke="#F0922B" stroke-width="3.4" stroke-linecap="round" fill="none"/>
<g font-family="'Liberation Sans', Arial, Helvetica, sans-serif"><text x="748.7" y="896" font-size="22.8" textLength="33.88" lengthAdjust="spacingAndGlyphs" stroke="#000" stroke-width="0.35" stroke-linejoin="round" fill="#000">Rat</text></g>
</g>
<g id="d-rabbit">
<clipPath id="cd-rabbit"><rect x="911" y="880.4" width="313.4" height="204.6"/></clipPath>
<path d="M913 884.4L913.06 884.54L913.19 884.89L913.4 885.41L913.67 886.07L914 886.84L914.39 887.71L914.84 888.66L915.34 889.66L915.89 890.72L916.49 891.8L917.15 892.91L917.85 894.04L918.6 895.18L919.4 896.32L920.25 897.46L921.14 898.6L922.08 899.74L923.06 900.87L924.09 901.99L925.16 903.11L926.28 904.22L927.44 905.32L928.64 906.42L929.89 907.5L931.17 908.57L932.5 909.63L933.87 910.68L935.29 911.72L936.74 912.74L938.23 913.75L939.77 914.74L941.34 915.72L942.96 916.68L944.61 917.63L946.3 918.57L948.04 919.48L949.81 920.38L951.62 921.27L953.46 922.14L955.35 922.99L957.28 923.83L959.24 924.66L961.24 925.47L963.28 926.27L965.35 927.05L967.47 927.83L969.62 928.58L971.8 929.33L974.03 930.07L976.29 930.79L978.58 931.51L980.91 932.21L983.28 932.9L985.69 933.59L988.13 934.26L990.61 934.93L993.12 935.59L995.67 936.24L998.25 936.88L1000.87 937.52L1003.52 938.15L1006.21 938.78L1008.93 939.4L1011.69 940.01L1014.49 940.62L1017.31 941.22L1020.17 941.82L1023.07 942.42L1026 943.01L1028.97 943.59L1031.97 944.18L1035 944.76L1038.07 945.33L1041.17 945.9L1044.3 946.47L1047.47 947.04L1050.67 947.6L1053.91 948.17L1057.17 948.72L1060.48 949.28L1063.81 949.83L1067.18 950.39L1070.58 950.93L1074.01 951.48L1077.48 952.03L1080.98 952.57L1084.51 953.11L1088.08 953.65L1091.67 954.19L1095.3 954.72L1098.97 955.26L1102.66 955.79L1106.39 956.32L1110.15 956.85L1113.94 957.38L1117.76 957.9L1121.62 958.43L1125.5 958.95L1129.42 959.47L1133.37 959.99L1137.36 960.5L1141.37 961.02L1145.42 961.53L1149.49 962.05L1153.6 962.56L1157.74 963.06L1161.91 963.57L1166.12 964.08L1170.35 964.58L1174.62 965.08L1178.91 965.58L1183.24 966.08L1187.6 966.57L1191.99 967.07L1196.41 967.56L1200.86 968.05L1205.34 968.54L1209.86 969.02L1214.4 969.51L1214.4 1032.86L1209.86 1032.22L1205.34 1031.58L1200.86 1030.94L1196.41 1030.3L1191.99 1029.66L1187.6 1029.02L1183.24 1028.39L1178.91 1027.75L1174.62 1027.12L1170.35 1026.49L1166.12 1025.86L1161.91 1025.24L1157.74 1024.61L1153.6 1023.98L1149.49 1023.36L1145.42 1022.74L1141.37 1022.12L1137.36 1021.5L1133.37 1020.88L1129.42 1020.27L1125.5 1019.66L1121.62 1019.04L1117.76 1018.43L1113.94 1017.82L1110.15 1017.21L1106.39 1016.61L1102.66 1016L1098.97 1015.4L1095.3 1014.8L1091.67 1014.19L1088.08 1013.59L1084.51 1012.99L1080.98 1012.4L1077.48 1011.8L1074.01 1011.2L1070.58 1010.61L1067.18 1010.01L1063.81 1009.41L1060.48 1008.82L1057.17 1008.22L1053.91 1007.63L1050.67 1007.03L1047.47 1006.44L1044.3 1005.84L1041.17 1005.24L1038.07 1004.64L1035 1004.04L1031.97 1003.44L1028.97 1002.83L1026 1002.22L1023.07 1001.61L1020.17 1001L1017.31 1000.38L1014.49 999.75L1011.69 999.13L1008.93 998.49L1006.21 997.85L1003.52 997.2L1000.87 996.54L998.25 995.88L995.67 995.2L993.12 994.52L990.61 993.82L988.13 993.11L985.69 992.39L983.28 991.65L980.91 990.9L978.58 990.12L976.29 989.33L974.03 988.52L971.8 987.68L969.62 986.82L967.47 985.94L965.35 985.02L963.28 984.08L961.24 983.1L959.24 982.08L957.28 981.03L955.35 979.93L953.46 978.78L951.62 977.59L949.81 976.34L948.04 975.03L946.3 973.66L944.61 972.22L942.96 970.71L941.34 969.11L939.77 967.43L938.23 965.66L936.74 963.8L935.29 961.83L933.87 959.75L932.5 957.56L931.17 955.25L929.89 952.82L928.64 950.26L927.44 947.58L926.28 944.76L925.16 941.82L924.09 938.76L923.06 935.58L922.08 932.29L921.14 928.9L920.25 925.43L919.4 921.89L918.6 918.3L917.85 914.7L917.15 911.1L916.49 907.55L915.89 904.08L915.34 900.73L914.84 897.54L914.39 894.57L914 891.86L913.67 889.48L913.4 887.46L913.19 885.89L913.06 884.83L913 884.4Z" fill="url(#dp-rabbit)" stroke="#969A3C" stroke-width="0.6" stroke-opacity="0.75" stroke-linejoin="round" clip-path="url(#cd-rabbit)"/>
<path d="M913 883.25V1085.6H1215.55" fill="none" stroke="#000" stroke-width="2.3" stroke-linejoin="miter"/>
<path d="M907 884.4H913M907 951.47H913M907 1018.53H913M907 1085.6H913M913 1085.6V1091.6M973.28 1085.6V1091.6M1033.56 1085.6V1091.6M1093.84 1085.6V1091.6M1154.12 1085.6V1091.6M1214.4 1085.6V1091.6" fill="none" stroke="#000" stroke-width="2.3"/>
<g font-family="'Liberation Sans', Arial, Helvetica, sans-serif">
<text x="905.4" y="892.14" text-anchor="end" font-size="22" stroke="#000" stroke-width="0.4" stroke-linejoin="round" fill="#000">1.0</text>
<text x="905.4" y="959.21" text-anchor="end" font-size="22" stroke="#000" stroke-width="0.4" stroke-linejoin="round" fill="#000">0.8</text>
<text x="905.4" y="1026.28" text-anchor="end" font-size="22" stroke="#000" stroke-width="0.4" stroke-linejoin="round" fill="#000">0.6</text>
<text x="905.4" y="1093.34" text-anchor="end" font-size="22" stroke="#000" stroke-width="0.4" stroke-linejoin="round" fill="#000">0.4</text>
<text x="913" y="1113.6" text-anchor="middle" font-size="22" stroke="#000" stroke-width="0.4" stroke-linejoin="round" fill="#000">0</text>
<text x="973.28" y="1113.6" text-anchor="middle" font-size="22" stroke="#000" stroke-width="0.4" stroke-linejoin="round" fill="#000">2</text>
<text x="1033.56" y="1113.6" text-anchor="middle" font-size="22" stroke="#000" stroke-width="0.4" stroke-linejoin="round" fill="#000">4</text>
<text x="1093.84" y="1113.6" text-anchor="middle" font-size="22" stroke="#000" stroke-width="0.4" stroke-linejoin="round" fill="#000">6</text>
<text x="1154.12" y="1113.6" text-anchor="middle" font-size="22" stroke="#000" stroke-width="0.4" stroke-linejoin="round" fill="#000">8</text>
<text x="1214.4" y="1113.6" text-anchor="middle" font-size="22" stroke="#000" stroke-width="0.4" stroke-linejoin="round" fill="#000">10</text>
</g>
<path d="M913 884.4L914.51 889.95L916.01 894.99L917.52 899.58L919.03 903.78L920.53 907.62L922.04 911.15L923.55 914.41L925.06 917.41L926.56 920.19L928.07 922.76L929.58 925.16L931.08 927.39L932.59 929.47L934.1 931.42L935.61 933.25L937.11 934.97L938.62 936.58L940.13 938.1L941.63 939.54L943.14 940.9L944.65 942.2L946.15 943.42L947.66 944.58L949.17 945.69L950.67 946.75L952.18 947.76L953.69 948.73L955.2 949.65L956.7 950.54L958.21 951.39L959.72 952.21L961.22 953L962.73 953.76L964.24 954.5L965.75 955.21L967.25 955.89L968.76 956.56L970.27 957.2L971.77 957.83L973.28 958.43L974.79 959.02L976.29 959.6L977.8 960.16L979.31 960.71L980.82 961.24L982.32 961.76L983.83 962.27L985.34 962.77L986.84 963.26L988.35 963.73L989.86 964.2L991.36 964.66L992.87 965.11L994.38 965.56L995.88 965.99L997.39 966.42L998.9 966.84L1000.41 967.26L1001.91 967.67L1003.42 968.07L1004.93 968.47L1006.43 968.86L1007.94 969.24L1009.45 969.63L1010.96 970L1012.46 970.37L1013.97 970.74L1015.48 971.1L1016.98 971.46L1018.49 971.82L1020 972.17L1021.5 972.52L1023.01 972.86L1024.52 973.2L1026.03 973.54L1027.53 973.87L1029.04 974.2L1030.55 974.53L1032.05 974.85L1033.56 975.17L1035.07 975.49L1036.57 975.8L1038.08 976.12L1039.59 976.43L1041.1 976.73L1042.6 977.04L1044.11 977.34L1045.62 977.64L1047.12 977.93L1048.63 978.23L1050.14 978.52L1051.64 978.81L1053.15 979.1L1054.66 979.38L1056.16 979.67L1057.67 979.95L1059.18 980.23L1060.69 980.5L1062.19 980.78L1063.7 981.05L1065.21 981.32L1066.71 981.59L1068.22 981.86L1069.73 982.12L1071.24 982.39L1072.74 982.65L1074.25 982.91L1075.76 983.17L1077.26 983.42L1078.77 983.67L1080.28 983.93L1081.78 984.18L1083.29 984.43L1084.8 984.67L1086.31 984.92L1087.81 985.16L1089.32 985.4L1090.83 985.64L1092.33 985.88L1093.84 986.12L1095.35 986.36L1096.85 986.59L1098.36 986.82L1099.87 987.05L1101.38 987.28L1102.88 987.51L1104.39 987.74L1105.9 987.96L1107.4 988.18L1108.91 988.41L1110.42 988.63L1111.92 988.85L1113.43 989.06L1114.94 989.28L1116.45 989.49L1117.95 989.71L1119.46 989.92L1120.97 990.13L1122.47 990.34L1123.98 990.55L1125.49 990.75L1126.99 990.96L1128.5 991.16L1130.01 991.37L1131.52 991.57L1133.02 991.77L1134.53 991.97L1136.04 992.16L1137.54 992.36L1139.05 992.55L1140.56 992.75L1142.06 992.94L1143.57 993.13L1145.08 993.32L1146.59 993.51L1148.09 993.7L1149.6 993.89L1151.11 994.07L1152.61 994.26L1154.12 994.44L1155.63 994.62L1157.13 994.8L1158.64 994.98L1160.15 995.16L1161.65 995.34L1163.16 995.51L1164.67 995.69L1166.18 995.86L1167.68 996.04L1169.19 996.21L1170.7 996.38L1172.2 996.55L1173.71 996.72L1175.22 996.89L1176.73 997.05L1178.23 997.22L1179.74 997.38L1181.25 997.55L1182.75 997.71L1184.26 997.87L1185.77 998.03L1187.27 998.19L1188.78 998.35L1190.29 998.51L1191.8 998.67L1193.3 998.82L1194.81 998.98L1196.32 999.13L1197.82 999.28L1199.33 999.44L1200.84 999.59L1202.34 999.74L1203.85 999.89L1205.36 1000.04L1206.87 1000.19L1208.37 1000.33L1209.88 1000.48L1211.39 1000.62L1212.89 1000.77L1214.4 1000.91" fill="none" stroke="#969A3C" stroke-width="3.4" stroke-linecap="round" stroke-linejoin="round"/>
<g font-family="'Liberation Sans', Arial, Helvetica, sans-serif">
<text x="1064" y="1144.7" text-anchor="middle" font-size="22.8" font-weight="bold" textLength="83" lengthAdjust="spacingAndGlyphs" stroke="#000" stroke-width="0.7" stroke-linejoin="round" fill="#000">Time (s)</text>
<text transform="translate(852 980) rotate(-90)" text-anchor="middle" font-size="22.4" font-weight="bold" textLength="178.6" lengthAdjust="spacingAndGlyphs" stroke="#000" stroke-width="0.7" stroke-linejoin="round" fill="#000">Normalised force</text>
</g>
<path d="M1116.4 887.3H1137" stroke="#969A3C" stroke-width="3.4" stroke-linecap="round" fill="none"/>
<g font-family="'Liberation Sans', Arial, Helvetica, sans-serif"><text x="1150.1" y="895.5" font-size="22.8" textLength="62.94" lengthAdjust="spacingAndGlyphs" stroke="#000" stroke-width="0.35" stroke-linejoin="round" fill="#000">Rabbit</text></g>
</g>
<g id="d-pigs">
<clipPath id="cd-pigs"><rect x="1335.9" y="881.8" width="312.2" height="203.7"/></clipPath>
<path d="M1337.9 885.8L1337.96 885.9L1338.09 886.14L1338.3 886.51L1338.57 886.98L1338.9 887.55L1339.29 888.21L1339.73 888.94L1340.23 889.75L1340.78 890.61L1341.38 891.53L1342.03 892.49L1342.73 893.49L1343.48 894.52L1344.27 895.58L1345.12 896.66L1346.01 897.75L1346.94 898.86L1347.92 899.97L1348.95 901.09L1350.01 902.2L1351.13 903.31L1352.28 904.42L1353.48 905.52L1354.72 906.61L1356 907.69L1357.33 908.76L1358.69 909.82L1360.1 910.86L1361.55 911.89L1363.03 912.91L1364.56 913.91L1366.13 914.9L1367.74 915.88L1369.38 916.84L1371.07 917.79L1372.8 918.73L1374.56 919.66L1376.36 920.57L1378.2 921.48L1380.08 922.37L1382 923.26L1383.95 924.13L1385.95 925L1387.98 925.86L1390.04 926.71L1392.15 927.55L1394.29 928.39L1396.47 929.22L1398.68 930.05L1400.93 930.87L1403.22 931.69L1405.54 932.5L1407.9 933.31L1410.3 934.11L1412.73 934.91L1415.2 935.71L1417.7 936.5L1420.24 937.3L1422.81 938.09L1425.42 938.87L1428.06 939.66L1430.74 940.44L1433.45 941.22L1436.2 942L1438.98 942.78L1441.8 943.56L1444.65 944.33L1447.53 945.1L1450.45 945.87L1453.41 946.64L1456.39 947.41L1459.41 948.17L1462.47 948.93L1465.56 949.69L1468.68 950.45L1471.83 951.2L1475.02 951.96L1478.24 952.71L1481.5 953.45L1484.79 954.2L1488.11 954.94L1491.46 955.67L1494.85 956.41L1498.27 957.14L1501.73 957.87L1505.21 958.59L1508.73 959.31L1512.28 960.03L1515.86 960.74L1519.48 961.45L1523.13 962.15L1526.81 962.85L1530.52 963.54L1534.26 964.23L1538.04 964.92L1541.85 965.6L1545.69 966.27L1549.56 966.94L1553.46 967.61L1557.4 968.27L1561.36 968.92L1565.36 969.57L1569.39 970.21L1573.45 970.85L1577.54 971.48L1581.67 972.11L1585.82 972.72L1590.01 973.34L1594.23 973.95L1598.48 974.55L1602.75 975.14L1607.07 975.73L1611.41 976.32L1615.78 976.9L1620.18 977.47L1624.62 978.03L1629.08 978.59L1633.57 979.14L1638.1 979.69L1638.1 1069.02L1633.57 1068.14L1629.08 1067.26L1624.62 1066.38L1620.18 1065.51L1615.78 1064.63L1611.41 1063.75L1607.07 1062.88L1602.75 1062L1598.48 1061.13L1594.23 1060.26L1590.01 1059.38L1585.82 1058.51L1581.67 1057.64L1577.54 1056.77L1573.45 1055.9L1569.39 1055.03L1565.36 1054.17L1561.36 1053.3L1557.4 1052.44L1553.46 1051.58L1549.56 1050.72L1545.69 1049.86L1541.85 1049L1538.04 1048.15L1534.26 1047.3L1530.52 1046.45L1526.81 1045.6L1523.13 1044.76L1519.48 1043.92L1515.86 1043.07L1512.28 1042.24L1508.73 1041.4L1505.21 1040.57L1501.73 1039.74L1498.27 1038.91L1494.85 1038.09L1491.46 1037.26L1488.11 1036.45L1484.79 1035.63L1481.5 1034.81L1478.24 1034L1475.02 1033.19L1471.83 1032.38L1468.68 1031.57L1465.56 1030.77L1462.47 1029.96L1459.41 1029.16L1456.39 1028.35L1453.41 1027.55L1450.45 1026.74L1447.53 1025.94L1444.65 1025.13L1441.8 1024.32L1438.98 1023.5L1436.2 1022.68L1433.45 1021.86L1430.74 1021.03L1428.06 1020.19L1425.42 1019.34L1422.81 1018.48L1420.24 1017.61L1417.7 1016.72L1415.2 1015.82L1412.73 1014.9L1410.3 1013.96L1407.9 1013L1405.54 1012.01L1403.22 1010.99L1400.93 1009.95L1398.68 1008.87L1396.47 1007.76L1394.29 1006.61L1392.15 1005.41L1390.04 1004.17L1387.98 1002.88L1385.95 1001.54L1383.95 1000.13L1382 998.67L1380.08 997.14L1378.2 995.55L1376.36 993.88L1374.56 992.13L1372.8 990.29L1371.07 988.37L1369.38 986.36L1367.74 984.25L1366.13 982.05L1364.56 979.74L1363.03 977.32L1361.55 974.79L1360.1 972.14L1358.69 969.38L1357.33 966.5L1356 963.51L1354.72 960.4L1353.48 957.17L1352.28 953.82L1351.13 950.37L1350.01 946.82L1348.95 943.18L1347.92 939.45L1346.94 935.65L1346.01 931.8L1345.12 927.91L1344.27 924.01L1343.48 920.12L1342.73 916.26L1342.03 912.46L1341.38 908.77L1340.78 905.2L1340.23 901.8L1339.73 898.6L1339.29 895.66L1338.9 893L1338.57 890.68L1338.3 888.73L1338.09 887.22L1337.96 886.21L1337.9 885.8Z" fill="url(#dp-pigs)" stroke="#179A50" stroke-width="0.6" stroke-opacity="0.75" stroke-linejoin="round" clip-path="url(#cd-pigs)"/>
<path d="M1337.9 884.65V1086.1H1639.25" fill="none" stroke="#000" stroke-width="2.3" stroke-linejoin="miter"/>
<path d="M1331.9 885.8H1337.9M1331.9 952.57H1337.9M1331.9 1019.33H1337.9M1331.9 1086.1H1337.9M1337.9 1086.1V1092.1M1397.94 1086.1V1092.1M1457.98 1086.1V1092.1M1518.02 1086.1V1092.1M1578.06 1086.1V1092.1M1638.1 1086.1V1092.1" fill="none" stroke="#000" stroke-width="2.3"/>
<g font-family="'Liberation Sans', Arial, Helvetica, sans-serif">
<text x="1330.3" y="893.54" text-anchor="end" font-size="22" stroke="#000" stroke-width="0.4" stroke-linejoin="round" fill="#000">1.0</text>
<text x="1330.3" y="960.31" text-anchor="end" font-size="22" stroke="#000" stroke-width="0.4" stroke-linejoin="round" fill="#000">0.8</text>
<text x="1330.3" y="1027.08" text-anchor="end" font-size="22" stroke="#000" stroke-width="0.4" stroke-linejoin="round" fill="#000">0.6</text>
<text x="1330.3" y="1093.84" text-anchor="end" font-size="22" stroke="#000" stroke-width="0.4" stroke-linejoin="round" fill="#000">0.4</text>
<text x="1337.9" y="1114.1" text-anchor="middle" font-size="22" stroke="#000" stroke-width="0.4" stroke-linejoin="round" fill="#000">0</text>
<text x="1397.94" y="1114.1" text-anchor="middle" font-size="22" stroke="#000" stroke-width="0.4" stroke-linejoin="round" fill="#000">2</text>
<text x="1457.98" y="1114.1" text-anchor="middle" font-size="22" stroke="#000" stroke-width="0.4" stroke-linejoin="round" fill="#000">4</text>
<text x="1518.02" y="1114.1" text-anchor="middle" font-size="22" stroke="#000" stroke-width="0.4" stroke-linejoin="round" fill="#000">6</text>
<text x="1578.06" y="1114.1" text-anchor="middle" font-size="22" stroke="#000" stroke-width="0.4" stroke-linejoin="round" fill="#000">8</text>
<text x="1638.1" y="1114.1" text-anchor="middle" font-size="22" stroke="#000" stroke-width="0.4" stroke-linejoin="round" fill="#000">10</text>
</g>
<path d="M1337.9 885.8L1339.4 890.69L1340.9 895.28L1342.4 899.58L1343.9 903.62L1345.41 907.41L1346.91 910.97L1348.41 914.32L1349.91 917.47L1351.41 920.44L1352.91 923.24L1354.41 925.87L1355.91 928.36L1357.41 930.71L1358.91 932.93L1360.41 935.03L1361.92 937.02L1363.42 938.9L1364.92 940.69L1366.42 942.39L1367.92 944L1369.42 945.54L1370.92 947L1372.42 948.39L1373.92 949.72L1375.43 950.99L1376.93 952.21L1378.43 953.37L1379.93 954.48L1381.43 955.55L1382.93 956.58L1384.43 957.57L1385.93 958.52L1387.43 959.44L1388.93 960.32L1390.43 961.18L1391.94 962.01L1393.44 962.81L1394.94 963.59L1396.44 964.34L1397.94 965.07L1399.44 965.78L1400.94 966.48L1402.44 967.15L1403.94 967.81L1405.45 968.46L1406.95 969.08L1408.45 969.7L1409.95 970.3L1411.45 970.89L1412.95 971.47L1414.45 972.04L1415.95 972.6L1417.45 973.15L1418.95 973.69L1420.45 974.22L1421.96 974.74L1423.46 975.26L1424.96 975.77L1426.46 976.27L1427.96 976.76L1429.46 977.25L1430.96 977.74L1432.46 978.21L1433.96 978.69L1435.47 979.16L1436.97 979.62L1438.47 980.08L1439.97 980.53L1441.47 980.98L1442.97 981.43L1444.47 981.87L1445.97 982.31L1447.47 982.75L1448.97 983.18L1450.47 983.61L1451.98 984.04L1453.48 984.46L1454.98 984.88L1456.48 985.3L1457.98 985.71L1459.48 986.12L1460.98 986.53L1462.48 986.94L1463.98 987.35L1465.49 987.75L1466.99 988.15L1468.49 988.55L1469.99 988.94L1471.49 989.34L1472.99 989.73L1474.49 990.12L1475.99 990.51L1477.49 990.89L1478.99 991.28L1480.49 991.66L1482 992.04L1483.5 992.42L1485 992.8L1486.5 993.17L1488 993.55L1489.5 993.92L1491 994.29L1492.5 994.66L1494 995.02L1495.51 995.39L1497.01 995.75L1498.51 996.12L1500.01 996.48L1501.51 996.84L1503.01 997.2L1504.51 997.55L1506.01 997.91L1507.51 998.26L1509.01 998.61L1510.51 998.96L1512.02 999.31L1513.52 999.66L1515.02 1000.01L1516.52 1000.35L1518.02 1000.7L1519.52 1001.04L1521.02 1001.38L1522.52 1001.72L1524.02 1002.06L1525.53 1002.4L1527.03 1002.73L1528.53 1003.07L1530.03 1003.4L1531.53 1003.74L1533.03 1004.07L1534.53 1004.4L1536.03 1004.72L1537.53 1005.05L1539.03 1005.38L1540.53 1005.7L1542.04 1006.03L1543.54 1006.35L1545.04 1006.67L1546.54 1006.99L1548.04 1007.31L1549.54 1007.63L1551.04 1007.94L1552.54 1008.26L1554.04 1008.57L1555.55 1008.89L1557.05 1009.2L1558.55 1009.51L1560.05 1009.82L1561.55 1010.13L1563.05 1010.43L1564.55 1010.74L1566.05 1011.04L1567.55 1011.35L1569.05 1011.65L1570.55 1011.95L1572.06 1012.25L1573.56 1012.55L1575.06 1012.85L1576.56 1013.15L1578.06 1013.45L1579.56 1013.74L1581.06 1014.03L1582.56 1014.33L1584.06 1014.62L1585.57 1014.91L1587.07 1015.2L1588.57 1015.49L1590.07 1015.78L1591.57 1016.06L1593.07 1016.35L1594.57 1016.63L1596.07 1016.92L1597.57 1017.2L1599.07 1017.48L1600.57 1017.76L1602.08 1018.04L1603.58 1018.32L1605.08 1018.6L1606.58 1018.88L1608.08 1019.15L1609.58 1019.43L1611.08 1019.7L1612.58 1019.97L1614.08 1020.24L1615.59 1020.51L1617.09 1020.78L1618.59 1021.05L1620.09 1021.32L1621.59 1021.59L1623.09 1021.85L1624.59 1022.12L1626.09 1022.38L1627.59 1022.65L1629.09 1022.91L1630.59 1023.17L1632.1 1023.43L1633.6 1023.69L1635.1 1023.95L1636.6 1024.21L1638.1 1024.46" fill="none" stroke="#179A50" stroke-width="3.4" stroke-linecap="round" stroke-linejoin="round"/>
<g font-family="'Liberation Sans', Arial, Helvetica, sans-serif">
<text x="1485.4" y="1147.7" text-anchor="middle" font-size="22.8" font-weight="bold" textLength="83" lengthAdjust="spacingAndGlyphs" stroke="#000" stroke-width="0.7" stroke-linejoin="round" fill="#000">Time (s)</text>
<text transform="translate(1275.6 984.6) rotate(-90)" text-anchor="middle" font-size="22.4" font-weight="bold" textLength="178.6" lengthAdjust="spacingAndGlyphs" stroke="#000" stroke-width="0.7" stroke-linejoin="round" fill="#000">Normalised force</text>
</g>
<path d="M1495.1 883.1H1515.9" stroke="#179A50" stroke-width="3.4" stroke-linecap="round" fill="none"/>
<g font-family="'Liberation Sans', Arial, Helvetica, sans-serif"><text x="1528.3" y="891" font-size="22.8" textLength="102.83" lengthAdjust="spacingAndGlyphs" stroke="#000" stroke-width="0.35" stroke-linejoin="round" fill="#000">Pig (small)</text></g>
</g>
<g id="d-pigl">
<clipPath id="cd-pigl"><rect x="76" y="1205.8" width="313.2" height="204.2"/></clipPath>
<path d="M78 1209.8L78.05 1209.96L78.19 1210.37L78.39 1210.98L78.66 1211.76L78.99 1212.71L79.37 1213.78L79.81 1214.99L80.3 1216.29L80.84 1217.69L81.43 1219.17L82.07 1220.71L82.76 1222.3L83.5 1223.93L84.29 1225.59L85.12 1227.26L86 1228.95L86.92 1230.63L87.88 1232.31L88.89 1233.98L89.95 1235.62L91.04 1237.25L92.18 1238.85L93.37 1240.42L94.59 1241.97L95.85 1243.47L97.16 1244.95L98.51 1246.39L99.89 1247.79L101.32 1249.16L102.79 1250.5L104.3 1251.8L105.84 1253.07L107.43 1254.31L109.05 1255.51L110.71 1256.69L112.42 1257.83L114.16 1258.95L115.93 1260.04L117.75 1261.11L119.6 1262.15L121.49 1263.18L123.42 1264.18L125.39 1265.15L127.39 1266.12L129.43 1267.06L131.5 1267.99L133.62 1268.9L135.76 1269.8L137.95 1270.68L140.17 1271.55L142.42 1272.41L144.72 1273.27L147.04 1274.11L149.41 1274.94L151.8 1275.76L154.24 1276.58L156.7 1277.39L159.21 1278.19L161.74 1278.99L164.32 1279.78L166.92 1280.57L169.56 1281.35L172.24 1282.13L174.95 1282.91L177.69 1283.68L180.47 1284.45L183.28 1285.21L186.13 1285.97L189.01 1286.73L191.92 1287.49L194.87 1288.24L197.85 1288.99L200.86 1289.74L203.9 1290.48L206.98 1291.22L210.1 1291.96L213.24 1292.7L216.42 1293.43L219.63 1294.16L222.87 1294.89L226.15 1295.62L229.46 1296.34L232.8 1297.06L236.17 1297.77L239.58 1298.48L243.01 1299.19L246.48 1299.89L249.99 1300.6L253.52 1301.29L257.09 1301.99L260.68 1302.67L264.31 1303.36L267.97 1304.04L271.67 1304.72L275.39 1305.39L279.15 1306.05L282.93 1306.72L286.75 1307.37L290.6 1308.03L294.48 1308.67L298.4 1309.32L302.34 1309.96L306.31 1310.59L310.32 1311.22L314.35 1311.84L318.42 1312.45L322.52 1313.06L326.65 1313.67L330.81 1314.27L335 1314.86L339.22 1315.45L343.47 1316.03L347.75 1316.61L352.06 1317.18L356.41 1317.75L360.78 1318.31L365.18 1318.86L369.62 1319.41L374.08 1319.95L374.08 1414.49L369.62 1413.52L365.18 1412.55L360.78 1411.57L356.41 1410.59L352.06 1409.61L347.75 1408.62L343.47 1407.63L339.22 1406.63L335 1405.64L330.81 1404.64L326.65 1403.63L322.52 1402.62L318.42 1401.61L314.35 1400.6L310.32 1399.58L306.31 1398.56L302.34 1397.54L298.4 1396.52L294.48 1395.49L290.6 1394.45L286.75 1393.42L282.93 1392.38L279.15 1391.34L275.39 1390.3L271.67 1389.25L267.97 1388.2L264.31 1387.15L260.68 1386.1L257.09 1385.04L253.52 1383.98L249.99 1382.92L246.48 1381.85L243.01 1380.78L239.58 1379.71L236.17 1378.64L232.8 1377.57L229.46 1376.49L226.15 1375.41L222.87 1374.33L219.63 1373.24L216.42 1372.15L213.24 1371.06L210.1 1369.97L206.98 1368.87L203.9 1367.77L200.86 1366.67L197.85 1365.56L194.87 1364.46L191.92 1363.34L189.01 1362.23L186.13 1361.1L183.28 1359.98L180.47 1358.85L177.69 1357.71L174.95 1356.57L172.24 1355.42L169.56 1354.26L166.92 1353.1L164.32 1351.92L161.74 1350.74L159.21 1349.54L156.7 1348.34L154.24 1347.12L151.8 1345.89L149.41 1344.64L147.04 1343.38L144.72 1342.09L142.42 1340.79L140.17 1339.46L137.95 1338.12L135.76 1336.74L133.62 1335.34L131.5 1333.9L129.43 1332.44L127.39 1330.93L125.39 1329.39L123.42 1327.81L121.49 1326.18L119.6 1324.5L117.75 1322.76L115.93 1320.97L114.16 1319.12L112.42 1317.2L110.71 1315.21L109.05 1313.15L107.43 1311L105.84 1308.77L104.3 1306.44L102.79 1304.02L101.32 1301.5L99.89 1298.86L98.51 1296.12L97.16 1293.26L95.85 1290.28L94.59 1287.19L93.37 1283.97L92.18 1280.62L91.04 1277.16L89.95 1273.59L88.89 1269.91L87.88 1266.12L86.92 1262.25L86 1258.31L85.12 1254.31L84.29 1250.27L83.5 1246.23L82.76 1242.2L82.07 1238.22L81.43 1234.33L80.84 1230.56L80.3 1226.95L79.81 1223.55L79.37 1220.4L78.99 1217.55L78.66 1215.06L78.39 1212.97L78.19 1211.34L78.05 1210.24L78 1209.8Z" fill="url(#dp-pigl)" stroke="#4060AE" stroke-width="0.6" stroke-opacity="0.75" stroke-linejoin="round" clip-path="url(#cd-pigl)"/>
<path d="M78 1208.65V1410.6H380.35" fill="none" stroke="#000" stroke-width="2.3" stroke-linejoin="miter"/>
<path d="M72 1209.8H78M72 1276.73H78M72 1343.67H78M72 1410.6H78M78 1410.6V1416.6M138.24 1410.6V1416.6M198.48 1410.6V1416.6M258.72 1410.6V1416.6M318.96 1410.6V1416.6M379.2 1410.6V1416.6" fill="none" stroke="#000" stroke-width="2.3"/>
<g font-family="'Liberation Sans', Arial, Helvetica, sans-serif">
<text x="70.4" y="1217.54" text-anchor="end" font-size="22" stroke="#000" stroke-width="0.4" stroke-linejoin="round" fill="#000">1.0</text>
<text x="70.4" y="1284.48" text-anchor="end" font-size="22" stroke="#000" stroke-width="0.4" stroke-linejoin="round" fill="#000">0.8</text>
<text x="70.4" y="1351.41" text-anchor="end" font-size="22" stroke="#000" stroke-width="0.4" stroke-linejoin="round" fill="#000">0.6</text>
<text x="70.4" y="1418.34" text-anchor="end" font-size="22" stroke="#000" stroke-width="0.4" stroke-linejoin="round" fill="#000">0.4</text>
<text x="78" y="1438.6" text-anchor="middle" font-size="22" stroke="#000" stroke-width="0.4" stroke-linejoin="round" fill="#000">0</text>
<text x="138.24" y="1438.6" text-anchor="middle" font-size="22" stroke="#000" stroke-width="0.4" stroke-linejoin="round" fill="#000">2</text>
<text x="198.48" y="1438.6" text-anchor="middle" font-size="22" stroke="#000" stroke-width="0.4" stroke-linejoin="round" fill="#000">4</text>
<text x="258.72" y="1438.6" text-anchor="middle" font-size="22" stroke="#000" stroke-width="0.4" stroke-linejoin="round" fill="#000">6</text>
<text x="318.96" y="1438.6" text-anchor="middle" font-size="22" stroke="#000" stroke-width="0.4" stroke-linejoin="round" fill="#000">8</text>
<text x="379.2" y="1438.6" text-anchor="middle" font-size="22" stroke="#000" stroke-width="0.4" stroke-linejoin="round" fill="#000">10</text>
</g>
<path d="M78 1209.8L79.51 1218.73L81.01 1225.22L82.52 1230.54L84.02 1235.21L85.53 1239.44L87.04 1243.34L88.54 1246.96L90.05 1250.33L91.55 1253.5L93.06 1256.47L94.57 1259.26L96.07 1261.9L97.58 1264.4L99.08 1266.76L100.59 1269.01L102.1 1271.14L103.6 1273.17L105.11 1275.1L106.61 1276.95L108.12 1278.71L109.63 1280.4L111.13 1282.02L112.64 1283.58L114.14 1285.07L115.65 1286.51L117.16 1287.9L118.66 1289.23L120.17 1290.52L121.67 1291.77L123.18 1292.98L124.69 1294.15L126.19 1295.28L127.7 1296.38L129.2 1297.45L130.71 1298.49L132.22 1299.5L133.72 1300.49L135.23 1301.44L136.73 1302.38L138.24 1303.29L139.75 1304.19L141.25 1305.06L142.76 1305.91L144.26 1306.75L145.77 1307.57L147.28 1308.37L148.78 1309.16L150.29 1309.93L151.79 1310.69L153.3 1311.43L154.81 1312.16L156.31 1312.88L157.82 1313.59L159.32 1314.29L160.83 1314.97L162.34 1315.65L163.84 1316.31L165.35 1316.96L166.85 1317.61L168.36 1318.25L169.87 1318.87L171.37 1319.49L172.88 1320.1L174.38 1320.71L175.89 1321.3L177.4 1321.89L178.9 1322.47L180.41 1323.05L181.91 1323.61L183.42 1324.17L184.93 1324.73L186.43 1325.28L187.94 1325.82L189.44 1326.35L190.95 1326.88L192.46 1327.41L193.96 1327.93L195.47 1328.44L196.97 1328.95L198.48 1329.45L199.99 1329.95L201.49 1330.44L203 1330.93L204.5 1331.41L206.01 1331.89L207.52 1332.37L209.02 1332.84L210.53 1333.3L212.03 1333.76L213.54 1334.22L215.05 1334.67L216.55 1335.12L218.06 1335.56L219.56 1336L221.07 1336.44L222.58 1336.87L224.08 1337.29L225.59 1337.72L227.09 1338.14L228.6 1338.55L230.11 1338.97L231.61 1339.38L233.12 1339.78L234.62 1340.18L236.13 1340.58L237.64 1340.98L239.14 1341.37L240.65 1341.76L242.15 1342.14L243.66 1342.52L245.17 1342.9L246.67 1343.27L248.18 1343.65L249.68 1344.01L251.19 1344.38L252.7 1344.74L254.2 1345.1L255.71 1345.46L257.21 1345.81L258.72 1346.16L260.23 1346.51L261.73 1346.85L263.24 1347.2L264.74 1347.54L266.25 1347.87L267.76 1348.2L269.26 1348.54L270.77 1348.86L272.27 1349.19L273.78 1349.51L275.29 1349.83L276.79 1350.15L278.3 1350.46L279.8 1350.78L281.31 1351.09L282.82 1351.39L284.32 1351.7L285.83 1352L287.33 1352.3L288.84 1352.6L290.35 1352.89L291.85 1353.19L293.36 1353.48L294.86 1353.76L296.37 1354.05L297.88 1354.33L299.38 1354.61L300.89 1354.89L302.39 1355.17L303.9 1355.45L305.41 1355.72L306.91 1355.99L308.42 1356.26L309.92 1356.52L311.43 1356.79L312.94 1357.05L314.44 1357.31L315.95 1357.57L317.45 1357.82L318.96 1358.08L320.47 1358.33L321.97 1358.58L323.48 1358.83L324.98 1359.07L326.49 1359.32L328 1359.56L329.5 1359.8L331.01 1360.04L332.51 1360.28L334.02 1360.51L335.53 1360.74L337.03 1360.98L338.54 1361.21L340.04 1361.43L341.55 1361.66L343.06 1361.88L344.56 1362.11L346.07 1362.33L347.57 1362.55L349.08 1362.76L350.59 1362.98L352.09 1363.2L353.6 1363.41L355.1 1363.62L356.61 1363.83L358.12 1364.04L359.62 1364.24L361.13 1364.45L362.63 1364.65L364.14 1364.85L365.65 1365.05L367.15 1365.25L368.66 1365.45L370.16 1365.65L371.67 1365.84L373.18 1366.03L374.08 1366.15" fill="none" stroke="#4060AE" stroke-width="3.4" stroke-linecap="round" stroke-linejoin="round"/>
<g font-family="'Liberation Sans', Arial, Helvetica, sans-serif">
<text x="228.6" y="1469.7" text-anchor="middle" font-size="22.8" font-weight="bold" textLength="83" lengthAdjust="spacingAndGlyphs" stroke="#000" stroke-width="0.7" stroke-linejoin="round" fill="#000">Time (s)</text>
<text transform="translate(16.5 1305.5) rotate(-90)" text-anchor="middle" font-size="22.4" font-weight="bold" textLength="178.6" lengthAdjust="spacingAndGlyphs" stroke="#000" stroke-width="0.7" stroke-linejoin="round" fill="#000">Normalised force</text>
</g>
<path d="M238.4 1214H258.6" stroke="#4060AE" stroke-width="3.4" stroke-linecap="round" fill="none"/>
<g font-family="'Liberation Sans', Arial, Helvetica, sans-serif"><text x="271.4" y="1221.7" font-size="22.8" textLength="100.44" lengthAdjust="spacingAndGlyphs" stroke="#000" stroke-width="0.35" stroke-linejoin="round" fill="#000">Pig (large)</text></g>
</g>
<g id="d-human">
<clipPath id="cd-human"><rect x="489.3" y="1205.8" width="313.4" height="204.2"/></clipPath>
<path d="M491.3 1209.8L491.35 1209.98L491.49 1210.42L491.69 1211.07L491.96 1211.91L492.28 1212.91L492.67 1214.05L493.1 1215.31L493.6 1216.67L494.14 1218.12L494.73 1219.62L495.37 1221.17L496.06 1222.76L496.8 1224.36L497.58 1225.97L498.42 1227.57L499.29 1229.16L500.21 1230.73L501.18 1232.28L502.19 1233.79L503.24 1235.26L504.34 1236.7L505.48 1238.09L506.66 1239.45L507.88 1240.77L509.15 1242.04L510.45 1243.28L511.8 1244.48L513.19 1245.65L514.61 1246.78L516.08 1247.89L517.59 1248.96L519.13 1250.01L520.72 1251.04L522.34 1252.04L524 1253.02L525.7 1253.99L527.44 1254.94L529.22 1255.87L531.04 1256.79L532.89 1257.7L534.78 1258.6L536.71 1259.48L538.67 1260.36L540.67 1261.22L542.71 1262.08L544.79 1262.93L546.9 1263.78L549.04 1264.61L551.23 1265.44L553.45 1266.26L555.7 1267.07L557.99 1267.87L560.32 1268.67L562.68 1269.46L565.08 1270.25L567.51 1271.02L569.98 1271.79L572.48 1272.55L575.02 1273.3L577.59 1274.05L580.19 1274.79L582.83 1275.52L585.51 1276.24L588.22 1276.95L590.96 1277.65L593.74 1278.35L596.55 1279.04L599.39 1279.72L602.27 1280.39L605.18 1281.05L608.12 1281.7L611.1 1282.34L614.11 1282.97L617.16 1283.6L620.24 1284.21L623.35 1284.81L626.49 1285.41L629.67 1286L632.88 1286.57L636.12 1287.14L639.4 1287.7L642.7 1288.24L646.04 1288.78L649.41 1289.31L652.82 1289.83L656.26 1290.34L659.72 1290.84L663.22 1291.33L666.76 1291.81L670.32 1292.28L673.92 1292.75L677.55 1293.2L681.21 1293.64L684.9 1294.08L688.62 1294.51L692.38 1294.92L696.16 1295.33L699.98 1295.73L703.83 1296.12L707.71 1296.5L711.62 1296.88L715.56 1297.24L719.53 1297.6L723.54 1297.95L727.57 1298.29L731.64 1298.62L735.73 1298.95L739.86 1299.27L744.02 1299.58L748.21 1299.88L752.43 1300.18L756.68 1300.46L760.96 1300.75L765.27 1301.02L769.61 1301.29L773.98 1301.55L778.38 1301.8L782.81 1302.05L787.27 1302.29L787.27 1351.37L782.81 1350.93L778.38 1350.49L773.98 1350.04L769.61 1349.59L765.27 1349.13L760.96 1348.66L756.68 1348.19L752.43 1347.71L748.21 1347.22L744.02 1346.73L739.86 1346.23L735.73 1345.73L731.64 1345.21L727.57 1344.69L723.54 1344.16L719.53 1343.63L715.56 1343.09L711.62 1342.54L707.71 1341.98L703.83 1341.42L699.98 1340.85L696.16 1340.27L692.38 1339.69L688.62 1339.1L684.9 1338.5L681.21 1337.89L677.55 1337.28L673.92 1336.66L670.32 1336.03L666.76 1335.4L663.22 1334.75L659.72 1334.1L656.26 1333.45L652.82 1332.78L649.41 1332.11L646.04 1331.43L642.7 1330.75L639.4 1330.05L636.12 1329.35L632.88 1328.64L629.67 1327.93L626.49 1327.21L623.35 1326.48L620.24 1325.74L617.16 1325L614.11 1324.25L611.1 1323.49L608.12 1322.72L605.18 1321.95L602.27 1321.17L599.39 1320.38L596.55 1319.59L593.74 1318.79L590.96 1317.98L588.22 1317.16L585.51 1316.34L582.83 1315.5L580.19 1314.66L577.59 1313.81L575.02 1312.95L572.48 1312.08L569.98 1311.2L567.51 1310.32L565.08 1309.42L562.68 1308.51L560.32 1307.59L557.99 1306.66L555.7 1305.72L553.45 1304.77L551.23 1303.8L549.04 1302.82L546.9 1301.82L544.79 1300.81L542.71 1299.79L540.67 1298.74L538.67 1297.68L536.71 1296.6L534.78 1295.5L532.89 1294.38L531.04 1293.24L529.22 1292.08L527.44 1290.9L525.7 1289.69L524 1288.45L522.34 1287.19L520.72 1285.9L519.13 1284.58L517.59 1283.22L516.08 1281.84L514.61 1280.42L513.19 1278.96L511.8 1277.46L510.45 1275.92L509.15 1274.33L507.88 1272.68L506.66 1270.97L505.48 1269.19L504.34 1267.33L503.24 1265.38L502.19 1263.33L501.18 1261.15L500.21 1258.84L499.29 1256.38L498.42 1253.76L497.58 1250.96L496.8 1247.99L496.06 1244.83L495.37 1241.5L494.73 1238.02L494.14 1234.42L493.6 1230.75L493.1 1227.08L492.67 1223.47L492.28 1220.04L491.96 1216.89L491.69 1214.15L491.49 1211.94L491.35 1210.42L491.3 1209.8Z" fill="url(#dp-human)" stroke="#2D3789" stroke-width="0.6" stroke-opacity="0.75" stroke-linejoin="round" clip-path="url(#cd-human)"/>
<path d="M491.3 1208.65V1410.6H793.85" fill="none" stroke="#000" stroke-width="2.3" stroke-linejoin="miter"/>
<path d="M485.3 1209.8H491.3M485.3 1276.73H491.3M485.3 1343.67H491.3M485.3 1410.6H491.3M491.3 1410.6V1416.6M551.58 1410.6V1416.6M611.86 1410.6V1416.6M672.14 1410.6V1416.6M732.42 1410.6V1416.6M792.7 1410.6V1416.6" fill="none" stroke="#000" stroke-width="2.3"/>
<g font-family="'Liberation Sans', Arial, Helvetica, sans-serif">
<text x="483.7" y="1217.54" text-anchor="end" font-size="22" stroke="#000" stroke-width="0.4" stroke-linejoin="round" fill="#000">1.0</text>
<text x="483.7" y="1284.48" text-anchor="end" font-size="22" stroke="#000" stroke-width="0.4" stroke-linejoin="round" fill="#000">0.8</text>
<text x="483.7" y="1351.41" text-anchor="end" font-size="22" stroke="#000" stroke-width="0.4" stroke-linejoin="round" fill="#000">0.6</text>
<text x="483.7" y="1418.34" text-anchor="end" font-size="22" stroke="#000" stroke-width="0.4" stroke-linejoin="round" fill="#000">0.4</text>
<text x="491.3" y="1438.6" text-anchor="middle" font-size="22" stroke="#000" stroke-width="0.4" stroke-linejoin="round" fill="#000">0</text>
<text x="551.58" y="1438.6" text-anchor="middle" font-size="22" stroke="#000" stroke-width="0.4" stroke-linejoin="round" fill="#000">2</text>
<text x="611.86" y="1438.6" text-anchor="middle" font-size="22" stroke="#000" stroke-width="0.4" stroke-linejoin="round" fill="#000">4</text>
<text x="672.14" y="1438.6" text-anchor="middle" font-size="22" stroke="#000" stroke-width="0.4" stroke-linejoin="round" fill="#000">6</text>
<text x="732.42" y="1438.6" text-anchor="middle" font-size="22" stroke="#000" stroke-width="0.4" stroke-linejoin="round" fill="#000">8</text>
<text x="792.7" y="1438.6" text-anchor="middle" font-size="22" stroke="#000" stroke-width="0.4" stroke-linejoin="round" fill="#000">10</text>
</g>
<path d="M491.3 1209.8L492.81 1231.98L494.31 1236.61L495.82 1239.63L497.33 1242.36L498.84 1244.92L500.34 1247.33L501.85 1249.61L503.36 1251.76L504.86 1253.79L506.37 1255.72L507.88 1257.55L509.38 1259.28L510.89 1260.93L512.4 1262.5L513.9 1263.99L515.41 1265.42L516.92 1266.78L518.43 1268.08L519.93 1269.32L521.44 1270.51L522.95 1271.65L524.45 1272.74L525.96 1273.79L527.47 1274.8L528.98 1275.77L530.48 1276.71L531.99 1277.61L533.5 1278.48L535 1279.32L536.51 1280.13L538.02 1280.92L539.52 1281.68L541.03 1282.42L542.54 1283.14L544.05 1283.84L545.55 1284.51L547.06 1285.17L548.57 1285.81L550.07 1286.44L551.58 1287.05L553.09 1287.64L554.59 1288.22L556.1 1288.79L557.61 1289.34L559.12 1289.88L560.62 1290.42L562.13 1290.93L563.64 1291.44L565.14 1291.94L566.65 1292.43L568.16 1292.91L569.66 1293.38L571.17 1293.85L572.68 1294.3L574.19 1294.75L575.69 1295.19L577.2 1295.62L578.71 1296.05L580.21 1296.46L581.72 1296.88L583.23 1297.28L584.73 1297.68L586.24 1298.08L587.75 1298.47L589.25 1298.85L590.76 1299.23L592.27 1299.6L593.78 1299.97L595.28 1300.34L596.79 1300.69L598.3 1301.05L599.8 1301.4L601.31 1301.74L602.82 1302.09L604.33 1302.42L605.83 1302.76L607.34 1303.09L608.85 1303.41L610.35 1303.74L611.86 1304.05L613.37 1304.37L614.87 1304.68L616.38 1304.99L617.89 1305.29L619.39 1305.59L620.9 1305.89L622.41 1306.19L623.92 1306.48L625.42 1306.77L626.93 1307.05L628.44 1307.34L629.94 1307.62L631.45 1307.89L632.96 1308.17L634.47 1308.44L635.97 1308.71L637.48 1308.97L638.99 1309.24L640.49 1309.5L642 1309.76L643.51 1310.01L645.01 1310.26L646.52 1310.51L648.03 1310.76L649.54 1311.01L651.04 1311.25L652.55 1311.49L654.06 1311.73L655.56 1311.97L657.07 1312.2L658.58 1312.44L660.08 1312.67L661.59 1312.89L663.1 1313.12L664.61 1313.34L666.11 1313.56L667.62 1313.78L669.13 1314L670.63 1314.22L672.14 1314.43L673.65 1314.64L675.15 1314.85L676.66 1315.06L678.17 1315.27L679.68 1315.47L681.18 1315.67L682.69 1315.87L684.2 1316.07L685.7 1316.27L687.21 1316.46L688.72 1316.65L690.22 1316.85L691.73 1317.04L693.24 1317.22L694.75 1317.41L696.25 1317.59L697.76 1317.78L699.27 1317.96L700.77 1318.14L702.28 1318.32L703.79 1318.49L705.29 1318.67L706.8 1318.84L708.31 1319.01L709.82 1319.18L711.32 1319.35L712.83 1319.52L714.34 1319.69L715.84 1319.85L717.35 1320.02L718.86 1320.18L720.36 1320.34L721.87 1320.5L723.38 1320.66L724.88 1320.81L726.39 1320.97L727.9 1321.12L729.41 1321.27L730.91 1321.42L732.42 1321.57L733.93 1321.72L735.43 1321.87L736.94 1322.02L738.45 1322.16L739.96 1322.3L741.46 1322.45L742.97 1322.59L744.48 1322.73L745.98 1322.87L747.49 1323L749 1323.14L750.5 1323.28L752.01 1323.41L753.52 1323.54L755.03 1323.67L756.53 1323.81L758.04 1323.94L759.55 1324.06L761.05 1324.19L762.56 1324.32L764.07 1324.44L765.57 1324.57L767.08 1324.69L768.59 1324.82L770.1 1324.94L771.6 1325.06L773.11 1325.18L774.62 1325.3L776.12 1325.41L777.63 1325.53L779.14 1325.65L780.64 1325.76L782.15 1325.87L783.66 1325.99L785.17 1326.1L786.67 1326.21L787.27 1326.25" fill="none" stroke="#2D3789" stroke-width="3.4" stroke-linecap="round" stroke-linejoin="round"/>
<g font-family="'Liberation Sans', Arial, Helvetica, sans-serif">
<text x="642" y="1469.7" text-anchor="middle" font-size="22.8" font-weight="bold" textLength="83" lengthAdjust="spacingAndGlyphs" stroke="#000" stroke-width="0.7" stroke-linejoin="round" fill="#000">Time (s)</text>
<text transform="translate(430 1305.5) rotate(-90)" text-anchor="middle" font-size="22.4" font-weight="bold" textLength="178.6" lengthAdjust="spacingAndGlyphs" stroke="#000" stroke-width="0.7" stroke-linejoin="round" fill="#000">Normalised force</text>
</g>
<path d="M680.7 1213H701.6" stroke="#2D3789" stroke-width="3.4" stroke-linecap="round" fill="none"/>
<g font-family="'Liberation Sans', Arial, Helvetica, sans-serif"><text x="713.9" y="1221" font-size="22.8" textLength="70.19" lengthAdjust="spacingAndGlyphs" stroke="#000" stroke-width="0.35" stroke-linejoin="round" fill="#000">Human</text></g>
</g>
<g id="d-invivo">
<clipPath id="cd-invivo"><rect x="911" y="1205.8" width="313.4" height="204.2"/></clipPath>
<path d="M919.03 1222.18L919.08 1222.22L919.22 1222.31L919.42 1222.45L919.69 1222.62L920.01 1222.84L920.39 1223.1L920.83 1223.39L921.32 1223.71L921.86 1224.07L922.45 1224.46L923.09 1224.87L923.78 1225.31L924.52 1225.78L925.3 1226.26L926.13 1226.76L927 1227.28L927.92 1227.8L928.89 1228.33L929.9 1228.87L930.95 1229.41L932.04 1229.97L933.18 1230.53L934.36 1231.11L935.58 1231.69L936.84 1232.28L938.14 1232.88L939.48 1233.48L940.87 1234.09L942.29 1234.71L943.76 1235.33L945.26 1235.96L946.8 1236.6L948.38 1237.24L950.01 1237.89L951.66 1238.55L953.36 1239.22L955.1 1239.9L956.87 1240.59L958.68 1241.29L960.53 1242L962.42 1242.72L964.34 1243.43L966.3 1244.15L968.3 1244.86L970.33 1245.57L972.4 1246.26L974.51 1246.94L976.65 1247.6L978.83 1248.24L981.05 1248.86L983.3 1249.47L985.58 1250.08L987.91 1250.69L990.26 1251.29L992.66 1251.89L995.08 1252.48L997.54 1253.07L1000.04 1253.65L1002.57 1254.23L1005.14 1254.8L1007.74 1255.36L1010.37 1255.92L1013.04 1256.48L1015.75 1257.02L1018.48 1257.57L1021.25 1258.1L1024.06 1258.64L1026.9 1259.16L1029.77 1259.68L1032.68 1260.2L1035.61 1260.7L1038.59 1261.2L1041.59 1261.69L1044.63 1262.18L1047.7 1262.66L1050.81 1263.13L1053.95 1263.6L1057.12 1264.06L1060.32 1264.52L1063.55 1264.98L1066.82 1265.43L1070.12 1265.89L1073.46 1266.35L1076.82 1266.8L1080.22 1267.27L1083.65 1267.73L1087.11 1268.19L1090.6 1268.66L1094.13 1269.12L1097.69 1269.59L1101.27 1270.05L1104.9 1270.5L1108.55 1270.95L1112.23 1271.39L1115.95 1271.83L1119.69 1272.25L1123.47 1272.66L1127.28 1273.06L1131.12 1273.44L1134.99 1273.82L1138.9 1274.19L1142.83 1274.55L1146.8 1274.9L1150.79 1275.24L1154.82 1275.58L1158.88 1275.92L1162.96 1276.25L1167.08 1276.57L1171.23 1276.89L1175.41 1277.21L1179.62 1277.53L1183.86 1277.84L1188.14 1278.15L1192.44 1278.45L1196.77 1278.75L1201.13 1279.04L1205.52 1279.33L1209.95 1279.61L1214.4 1279.88L1214.4 1388.24L1209.95 1386.95L1205.52 1385.65L1201.13 1384.37L1196.77 1383.09L1192.44 1381.82L1188.14 1380.55L1183.86 1379.29L1179.62 1378.04L1175.41 1376.79L1171.23 1375.56L1167.08 1374.35L1162.96 1373.15L1158.88 1371.96L1154.82 1370.77L1150.79 1369.58L1146.8 1368.39L1142.83 1367.2L1138.9 1366L1134.99 1364.8L1131.12 1363.58L1127.28 1362.35L1123.47 1361.1L1119.69 1359.85L1115.95 1358.6L1112.23 1357.34L1108.55 1356.07L1104.9 1354.8L1101.27 1353.53L1097.69 1352.26L1094.13 1350.98L1090.6 1349.71L1087.11 1348.43L1083.65 1347.16L1080.22 1345.89L1076.82 1344.62L1073.46 1343.36L1070.12 1342.11L1066.82 1340.86L1063.55 1339.61L1060.32 1338.37L1057.12 1337.12L1053.95 1335.88L1050.81 1334.63L1047.7 1333.38L1044.63 1332.13L1041.59 1330.88L1038.59 1329.62L1035.61 1328.36L1032.68 1327.09L1029.77 1325.82L1026.9 1324.54L1024.06 1323.25L1021.25 1321.95L1018.48 1320.64L1015.75 1319.33L1013.04 1318.02L1010.37 1316.71L1007.74 1315.4L1005.14 1314.1L1002.57 1312.8L1000.04 1311.5L997.54 1310.22L995.08 1308.94L992.66 1307.68L990.26 1306.43L987.91 1305.19L985.58 1303.97L983.3 1302.76L981.05 1301.57L978.83 1300.4L976.65 1299.23L974.51 1298.06L972.4 1296.88L970.33 1295.71L968.3 1294.56L966.3 1293.42L964.34 1292.3L962.42 1291.22L960.53 1290.16L958.68 1289.13L956.87 1288.15L955.1 1287.2L953.36 1286.29L951.66 1285.41L950.01 1284.56L948.38 1283.74L946.8 1282.95L945.26 1282.18L943.76 1281.44L942.29 1280.72L940.87 1280.02L939.48 1279.35L938.14 1278.7L936.84 1278.06L935.58 1277.45L934.36 1276.86L933.18 1276.29L932.04 1275.74L930.95 1275.21L929.9 1274.69L928.89 1274.2L927.92 1273.73L927 1273.28L926.13 1272.86L925.3 1272.46L924.52 1272.08L923.78 1271.72L923.09 1271.39L922.45 1271.08L921.86 1270.8L921.32 1270.54L920.83 1270.3L920.39 1270.09L920.01 1269.91L919.69 1269.75L919.42 1269.63L919.22 1269.53L919.08 1269.46L919.03 1269.44Z" fill="url(#dp-invivo)" stroke="#8B3A9E" stroke-width="0.6" stroke-opacity="0.75" stroke-linejoin="round" clip-path="url(#cd-invivo)"/>
<path d="M913 1208.65V1410.6H1215.55" fill="none" stroke="#000" stroke-width="2.3" stroke-linejoin="miter"/>
<path d="M907 1209.8H913M907 1276.73H913M907 1343.67H913M907 1410.6H913M913 1410.6V1416.6M973.28 1410.6V1416.6M1033.56 1410.6V1416.6M1093.84 1410.6V1416.6M1154.12 1410.6V1416.6M1214.4 1410.6V1416.6" fill="none" stroke="#000" stroke-width="2.3"/>
<g font-family="'Liberation Sans', Arial, Helvetica, sans-serif">
<text x="905.4" y="1217.54" text-anchor="end" font-size="22" stroke="#000" stroke-width="0.4" stroke-linejoin="round" fill="#000">1.0</text>
<text x="905.4" y="1284.48" text-anchor="end" font-size="22" stroke="#000" stroke-width="0.4" stroke-linejoin="round" fill="#000">0.8</text>
<text x="905.4" y="1351.41" text-anchor="end" font-size="22" stroke="#000" stroke-width="0.4" stroke-linejoin="round" fill="#000">0.6</text>
<text x="905.4" y="1418.34" text-anchor="end" font-size="22" stroke="#000" stroke-width="0.4" stroke-linejoin="round" fill="#000">0.4</text>
<text x="913" y="1438.6" text-anchor="middle" font-size="22" stroke="#000" stroke-width="0.4" stroke-linejoin="round" fill="#000">0</text>
<text x="973.28" y="1438.6" text-anchor="middle" font-size="22" stroke="#000" stroke-width="0.4" stroke-linejoin="round" fill="#000">2</text>
<text x="1033.56" y="1438.6" text-anchor="middle" font-size="22" stroke="#000" stroke-width="0.4" stroke-linejoin="round" fill="#000">4</text>
<text x="1093.84" y="1438.6" text-anchor="middle" font-size="22" stroke="#000" stroke-width="0.4" stroke-linejoin="round" fill="#000">6</text>
<text x="1154.12" y="1438.6" text-anchor="middle" font-size="22" stroke="#000" stroke-width="0.4" stroke-linejoin="round" fill="#000">8</text>
<text x="1214.4" y="1438.6" text-anchor="middle" font-size="22" stroke="#000" stroke-width="0.4" stroke-linejoin="round" fill="#000">10</text>
</g>
<path d="M913 1209.8L919.03 1245.61L925.06 1249.61L931.08 1253.01L937.11 1256.21L943.14 1259.25L949.17 1262.13L955.2 1264.89L961.22 1267.52L967.25 1270.05L973.28 1272.47L979.31 1274.81L985.34 1277.06L991.36 1279.24L997.39 1281.35L1003.42 1283.4L1009.45 1285.39L1015.48 1287.33L1021.5 1289.21L1027.53 1291.05L1033.56 1292.85L1039.59 1294.6L1045.62 1296.32L1051.64 1298L1057.67 1299.64L1063.7 1301.25L1069.73 1302.84L1075.76 1304.39L1081.78 1305.92L1087.81 1307.41L1093.84 1308.89L1099.87 1310.33L1105.9 1311.76L1111.92 1313.16L1117.95 1314.54L1123.98 1315.89L1130.01 1317.23L1136.04 1318.55L1142.06 1319.84L1148.09 1321.12L1154.12 1322.38L1160.15 1323.62L1166.18 1324.84L1172.2 1326.05L1178.23 1327.24L1184.26 1328.41L1190.29 1329.57L1196.32 1330.71L1202.34 1331.83L1208.37 1332.94L1214.4 1334.04" fill="none" stroke="#8B3A9E" stroke-width="3.4" stroke-linecap="round" stroke-linejoin="round"/>
<g font-family="'Liberation Sans', Arial, Helvetica, sans-serif">
<text x="1064" y="1469.7" text-anchor="middle" font-size="22.8" font-weight="bold" textLength="83" lengthAdjust="spacingAndGlyphs" stroke="#000" stroke-width="0.7" stroke-linejoin="round" fill="#000">Time (s)</text>
<text transform="translate(852.5 1305.5) rotate(-90)" text-anchor="middle" font-size="22.4" font-weight="bold" textLength="178.6" lengthAdjust="spacingAndGlyphs" stroke="#000" stroke-width="0.7" stroke-linejoin="round" fill="#000">Normalised force</text>
</g>
<path d="M1029.1 1212.3H1050.1" stroke="#8B3A9E" stroke-width="3.4" stroke-linecap="round" fill="none"/>
<g font-family="'Liberation Sans', Arial, Helvetica, sans-serif"><text x="1061.9" y="1220.2" font-size="22.8" textLength="152.46" lengthAdjust="spacingAndGlyphs" stroke="#000" stroke-width="0.35" stroke-linejoin="round" fill="#000">Human (<tspan font-style="italic">in vivo</tspan>)</text></g>
</g>
<g font-family="'Liberation Sans', Arial, Helvetica, sans-serif"><text x="-0.9" y="833" font-size="34.5" font-weight="bold" textLength="45.81" lengthAdjust="spacingAndGlyphs" stroke="#231F20" stroke-width="0.8" stroke-linejoin="round" fill="#231F20">(d)</text></g>
</g>
</svg>
</body>
</html>
